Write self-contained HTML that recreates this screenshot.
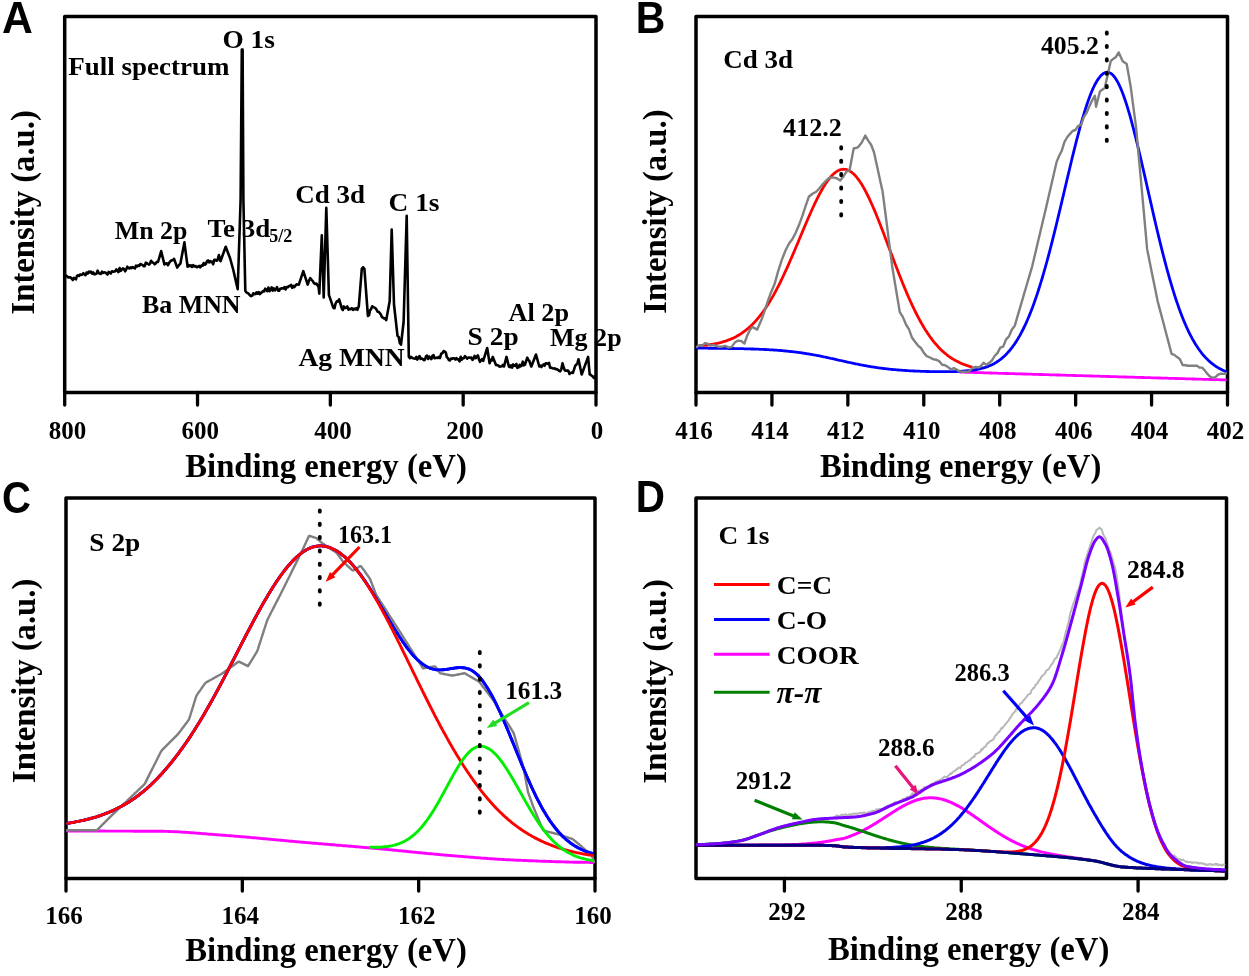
<!DOCTYPE html>
<html><head><meta charset="utf-8"><style>html,body{margin:0;padding:0;background:#fff;width:1249px;height:976px;overflow:hidden}svg{display:block;will-change:transform}</style></head>
<body><svg width="1249" height="976" viewBox="0 0 1249 976"><rect x="64.7" y="16.6" width="531.3" height="375.9" fill="none" stroke="#000" stroke-width="3.5" stroke-linejoin="round"/>
<line x1="64.7" y1="392.5" x2="64.7" y2="405.1" stroke="#000" stroke-width="3.3" stroke-linecap="round" />
<line x1="197.52499999999998" y1="392.5" x2="197.52499999999998" y2="405.1" stroke="#000" stroke-width="3.3" stroke-linecap="round" />
<line x1="330.34999999999997" y1="392.5" x2="330.34999999999997" y2="405.1" stroke="#000" stroke-width="3.3" stroke-linecap="round" />
<line x1="463.17499999999995" y1="392.5" x2="463.17499999999995" y2="405.1" stroke="#000" stroke-width="3.3" stroke-linecap="round" />
<line x1="596.0" y1="392.5" x2="596.0" y2="405.1" stroke="#000" stroke-width="3.3" stroke-linecap="round" />
<path d="M66.0 275.6 L67.1 276.3 L68.3 277.5 L69.4 277.4 L70.5 277.4 L71.7 278.7 L72.8 280.0 L73.8 277.9 L74.9 278.5 L75.9 279.4 L76.9 276.2 L77.9 275.3 L79.0 275.9 L80.0 274.5 L81.1 274.9 L82.2 274.6 L83.3 273.2 L84.4 274.3 L85.5 275.2 L86.6 272.5 L87.7 273.6 L88.8 271.7 L89.9 272.4 L91.0 271.7 L92.1 273.7 L93.2 272.4 L94.3 274.3 L95.4 274.1 L96.5 273.6 L97.6 270.6 L98.7 273.1 L99.8 273.7 L100.9 273.9 L102.0 271.7 L103.1 273.0 L104.2 272.3 L105.3 272.5 L106.4 273.5 L107.5 274.6 L108.6 271.9 L109.7 272.6 L110.8 273.5 L111.9 271.3 L113.0 271.6 L114.1 271.6 L115.2 271.3 L116.3 269.3 L117.4 270.7 L118.5 272.1 L119.6 268.0 L120.7 270.9 L121.8 269.6 L122.9 268.4 L124.0 268.9 L125.1 271.3 L126.2 269.4 L127.3 266.7 L128.4 268.1 L129.5 268.5 L130.5 267.3 L131.6 268.2 L132.7 267.0 L133.8 267.8 L134.9 268.5 L136.0 265.6 L137.1 266.5 L138.2 265.4 L139.3 265.9 L140.4 264.0 L141.5 264.6 L142.5 264.9 L143.6 266.1 L144.7 266.2 L145.8 262.7 L146.9 263.2 L148.0 264.0 L149.0 264.6 L150.0 263.6 L151.1 260.8 L152.3 262.5 L153.4 262.8 L154.6 264.3 L155.7 263.4 L156.9 261.8 L158.0 262.0 L161.2 251.2 L164.4 264.4 L165.6 263.5 L166.8 263.3 L168.0 265.2 L169.2 262.8 L170.4 261.2 L171.6 260.4 L172.8 260.3 L174.0 258.8 L177.2 267.6 L178.3 266.1 L179.3 264.7 L180.4 263.6 L184.4 242.4 L187.6 266.8 L188.7 265.0 L189.8 266.1 L191.0 265.3 L192.1 267.0 L193.2 265.2 L194.4 266.4 L195.6 266.0 L196.8 267.3 L198.0 266.8 L199.1 265.9 L200.3 267.3 L201.4 265.5 L202.6 265.8 L203.7 263.0 L204.9 264.7 L206.0 263.8 L207.0 261.2 L208.0 260.4 L209.1 262.3 L210.1 261.1 L211.1 262.1 L212.1 261.5 L213.2 264.2 L214.3 259.9 L215.3 259.9 L216.4 260.7 L217.5 260.2 L218.9 255.0 L220.5 261.2 L225.7 246.8 L230.0 258.0 L233.3 270.0 L237.7 289.2 L240.6 200.0 L241.8 49.5 L242.6 49.5 L243.4 200.0 L245.3 290.8 L246.5 292.6 L247.7 292.9 L248.9 294.1 L250.1 295.5 L251.2 296.1 L252.3 295.6 L253.3 293.3 L254.4 294.2 L255.5 294.0 L256.6 292.3 L257.7 293.7 L258.7 292.0 L259.8 294.1 L260.9 292.8 L262.0 292.3 L263.0 291.1 L264.1 291.4 L265.2 288.7 L266.3 289.5 L267.4 291.2 L268.4 287.6 L269.5 291.2 L270.6 289.8 L271.7 287.4 L272.7 290.6 L273.8 288.4 L274.9 290.4 L275.9 289.4 L277.0 287.2 L278.1 290.7 L279.1 290.8 L280.2 288.7 L281.3 288.4 L282.3 288.4 L283.4 288.5 L284.5 287.0 L285.6 289.4 L286.7 287.0 L287.8 287.3 L288.9 286.1 L290.0 286.0 L291.1 284.9 L292.2 287.9 L293.3 285.8 L294.4 287.0 L295.5 285.5 L296.6 284.3 L297.7 284.5 L298.8 284.6 L303.3 271.2 L307.7 284.6 L309.0 280.7 L310.3 278.2 L311.6 279.9 L312.8 281.1 L314.1 283.3 L315.2 283.9 L316.4 283.5 L317.5 285.2 L318.6 287.2 L319.3 293.6 L321.8 235.3 L323.7 297.4 L326.3 207.8 L328.9 294.9 L333.3 307.7 L334.5 308.2 L335.6 303.5 L336.8 301.3 L337.9 301.5 L339.1 299.4 L341.7 308.0 L342.8 310.0 L343.9 306.4 L345.1 308.1 L346.2 307.7 L347.3 306.4 L348.4 309.7 L349.5 308.9 L350.7 309.1 L351.8 308.2 L352.9 309.9 L354.0 308.7 L355.2 309.4 L356.3 308.2 L357.4 309.8 L358.8 306.3 L361.8 268.8 L363.1 267.2 L364.4 268.8 L367.9 315.9 L369.0 315.2 L370.0 310.4 L371.1 309.1 L372.2 306.3 L373.3 307.1 L374.4 307.5 L375.5 308.3 L376.6 309.8 L377.7 311.8 L378.7 311.7 L379.8 313.1 L380.9 314.5 L381.9 317.1 L383.0 317.6 L384.1 318.4 L385.1 318.3 L386.2 320.2 L389.7 301.0 L391.7 229.6 L394.0 304.5 L397.5 335.9 L398.7 337.0 L399.8 342.9 L401.0 344.6 L403.6 322.0 L406.7 215.7 L408.8 356.8 L409.9 358.2 L410.9 356.8 L412.0 357.8 L413.1 358.2 L414.1 358.4 L415.2 358.6 L416.3 356.9 L417.3 359.6 L418.4 357.7 L419.5 356.1 L420.6 358.9 L421.6 358.4 L422.7 358.9 L423.8 360.2 L424.9 359.7 L426.0 356.3 L427.0 355.6 L428.1 358.9 L429.2 356.5 L430.3 357.8 L431.4 359.0 L432.4 355.8 L433.5 355.2 L434.6 358.3 L435.7 358.0 L436.8 357.6 L437.8 358.0 L438.9 356.9 L440.0 358.0 L441.2 353.7 L442.5 353.1 L443.7 351.0 L444.7 351.6 L445.8 352.5 L446.8 357.1 L447.9 358.2 L448.9 360.1 L450.0 360.5 L451.0 358.5 L452.1 358.8 L453.2 358.3 L454.3 358.3 L455.3 359.5 L456.4 358.1 L457.5 359.5 L458.6 359.3 L459.6 361.4 L460.7 356.8 L461.8 359.6 L462.9 358.2 L463.9 358.2 L465.0 356.2 L466.1 357.3 L467.2 358.7 L468.2 357.5 L469.3 357.5 L470.4 357.9 L471.4 357.6 L472.5 359.8 L473.6 358.5 L474.6 355.9 L475.7 358.2 L476.8 356.8 L477.9 355.4 L478.9 359.2 L480.0 361.8 L481.1 360.4 L482.1 359.1 L483.2 360.9 L487.2 348.0 L489.6 363.3 L490.7 359.9 L491.7 360.5 L492.8 356.9 L493.9 359.8 L494.9 362.3 L496.0 364.9 L497.1 365.1 L498.3 365.4 L499.4 366.6 L500.6 366.5 L501.7 366.3 L502.9 364.9 L504.0 366.5 L506.5 356.9 L508.9 366.5 L510.0 367.1 L511.0 365.4 L512.1 367.6 L513.2 364.4 L514.2 365.8 L515.3 365.9 L516.4 364.0 L517.4 367.9 L518.5 367.4 L519.6 364.8 L520.6 366.3 L521.7 365.7 L522.8 361.7 L523.8 365.3 L524.9 364.9 L526.1 361.2 L527.3 357.7 L528.3 360.0 L529.3 360.7 L530.3 363.9 L531.3 366.5 L536.0 354.5 L539.3 366.5 L540.4 365.7 L541.4 367.0 L542.5 365.3 L543.6 364.4 L544.6 365.8 L545.7 363.3 L546.8 363.2 L547.9 364.0 L549.0 362.8 L550.1 367.8 L551.2 367.6 L552.3 368.2 L553.5 368.5 L554.6 368.4 L555.7 369.1 L556.8 369.1 L557.9 369.8 L559.0 370.8 L560.1 371.3 L561.3 369.3 L562.5 363.3 L563.7 367.6 L564.9 370.5 L566.0 370.8 L567.2 370.4 L568.3 370.7 L569.5 374.0 L570.6 372.9 L571.8 372.6 L572.9 372.9 L574.0 369.7 L575.1 366.0 L576.3 364.7 L577.4 363.2 L578.5 359.3 L581.7 374.5 L588.1 356.9 L589.7 374.5 L590.8 374.8 L591.8 375.8 L592.9 376.6 L593.9 377.8 L595.0 376.4 L596.0 379.3" fill="none" stroke="#000" stroke-width="2.6" stroke-linejoin="round" stroke-linecap="round" stroke-linejoin="miter" stroke-miterlimit="3"/>
<rect x="696" y="16.6" width="531.5" height="375.9" fill="none" stroke="#000" stroke-width="3.5" stroke-linejoin="round"/>
<line x1="696.0" y1="392.5" x2="696.0" y2="405.1" stroke="#000" stroke-width="3.3" stroke-linecap="round" />
<line x1="771.9285714285714" y1="392.5" x2="771.9285714285714" y2="405.1" stroke="#000" stroke-width="3.3" stroke-linecap="round" />
<line x1="847.8571428571429" y1="392.5" x2="847.8571428571429" y2="405.1" stroke="#000" stroke-width="3.3" stroke-linecap="round" />
<line x1="923.7857142857142" y1="392.5" x2="923.7857142857142" y2="405.1" stroke="#000" stroke-width="3.3" stroke-linecap="round" />
<line x1="999.7142857142858" y1="392.5" x2="999.7142857142858" y2="405.1" stroke="#000" stroke-width="3.3" stroke-linecap="round" />
<line x1="1075.642857142857" y1="392.5" x2="1075.642857142857" y2="405.1" stroke="#000" stroke-width="3.3" stroke-linecap="round" />
<line x1="1151.5714285714284" y1="392.5" x2="1151.5714285714284" y2="405.1" stroke="#000" stroke-width="3.3" stroke-linecap="round" />
<line x1="1227.5" y1="392.5" x2="1227.5" y2="405.1" stroke="#000" stroke-width="3.3" stroke-linecap="round" />
<path d="M960.5 372.2 L961.5 372.2 L962.5 372.2 L963.5 372.2 L964.5 372.2 L965.5 372.3 L966.5 372.3 L967.5 372.3 L968.5 372.3 L969.5 372.3 L970.5 372.4 L971.5 372.4 L972.5 372.4 L973.5 372.4 L974.5 372.5 L975.5 372.5 L976.5 372.5 L977.5 372.6 L978.5 372.6 L979.5 372.6 L980.5 372.7 L981.5 372.7 L982.5 372.7 L983.5 372.8 L984.5 372.8 L985.5 372.8 L986.5 372.9 L987.5 372.9 L988.5 372.9 L989.5 373.0 L990.5 373.0 L991.5 373.0 L992.5 373.1 L993.5 373.1 L994.5 373.1 L995.5 373.2 L996.5 373.2 L997.5 373.2 L998.5 373.3 L999.5 373.3 L1000.5 373.3 L1001.5 373.3 L1002.5 373.4 L1003.5 373.4 L1004.5 373.4 L1005.5 373.5 L1006.5 373.5 L1007.5 373.5 L1008.5 373.5 L1009.5 373.6 L1010.5 373.6 L1011.5 373.6 L1012.5 373.7 L1013.5 373.7 L1014.5 373.7 L1015.5 373.8 L1016.5 373.8 L1017.5 373.8 L1018.5 373.8 L1019.5 373.9 L1020.5 373.9 L1021.5 373.9 L1022.5 374.0 L1023.5 374.0 L1024.5 374.0 L1025.5 374.0 L1026.5 374.1 L1027.5 374.1 L1028.5 374.1 L1029.5 374.2 L1030.5 374.2 L1031.5 374.2 L1032.5 374.3 L1033.5 374.3 L1034.5 374.3 L1035.5 374.3 L1036.5 374.4 L1037.5 374.4 L1038.5 374.4 L1039.5 374.5 L1040.5 374.5 L1041.5 374.5 L1042.5 374.5 L1043.5 374.6 L1044.5 374.6 L1045.5 374.6 L1046.5 374.7 L1047.5 374.7 L1048.5 374.7 L1049.5 374.8 L1050.5 374.8 L1051.5 374.8 L1052.5 374.8 L1053.5 374.9 L1054.5 374.9 L1055.5 374.9 L1056.5 375.0 L1057.5 375.0 L1058.5 375.0 L1059.5 375.0 L1060.5 375.1 L1061.5 375.1 L1062.5 375.1 L1063.5 375.2 L1064.5 375.2 L1065.5 375.2 L1066.5 375.3 L1067.5 375.3 L1068.5 375.3 L1069.5 375.3 L1070.5 375.4 L1071.5 375.4 L1072.5 375.4 L1073.5 375.5 L1074.5 375.5 L1075.5 375.5 L1076.5 375.6 L1077.5 375.6 L1078.5 375.6 L1079.5 375.6 L1080.5 375.7 L1081.5 375.7 L1082.5 375.7 L1083.5 375.8 L1084.5 375.8 L1085.5 375.8 L1086.5 375.8 L1087.5 375.9 L1088.5 375.9 L1089.5 375.9 L1090.5 376.0 L1091.5 376.0 L1092.5 376.0 L1093.5 376.1 L1094.5 376.1 L1095.5 376.1 L1096.5 376.1 L1097.5 376.2 L1098.5 376.2 L1099.5 376.2 L1100.5 376.3 L1101.5 376.3 L1102.5 376.3 L1103.5 376.3 L1104.5 376.4 L1105.5 376.4 L1106.5 376.4 L1107.5 376.5 L1108.5 376.5 L1109.5 376.5 L1110.5 376.6 L1111.5 376.6 L1112.5 376.6 L1113.5 376.6 L1114.5 376.7 L1115.5 376.7 L1116.5 376.7 L1117.5 376.8 L1118.5 376.8 L1119.5 376.8 L1120.5 376.8 L1121.5 376.9 L1122.5 376.9 L1123.5 376.9 L1124.5 377.0 L1125.5 377.0 L1126.5 377.0 L1127.5 377.1 L1128.5 377.1 L1129.5 377.1 L1130.5 377.1 L1131.5 377.2 L1132.5 377.2 L1133.5 377.2 L1134.5 377.3 L1135.5 377.3 L1136.5 377.3 L1137.5 377.3 L1138.5 377.4 L1139.5 377.4 L1140.5 377.4 L1141.5 377.5 L1142.5 377.5 L1143.5 377.5 L1144.5 377.6 L1145.5 377.6 L1146.5 377.6 L1147.5 377.6 L1148.5 377.7 L1149.5 377.7 L1150.5 377.7 L1151.5 377.8 L1152.5 377.8 L1153.5 377.8 L1154.5 377.8 L1155.5 377.9 L1156.5 377.9 L1157.5 377.9 L1158.5 378.0 L1159.5 378.0 L1160.5 378.0 L1161.5 378.1 L1162.5 378.1 L1163.5 378.1 L1164.5 378.1 L1165.5 378.2 L1166.5 378.2 L1167.5 378.2 L1168.5 378.3 L1169.5 378.3 L1170.5 378.3 L1171.5 378.3 L1172.5 378.4 L1173.5 378.4 L1174.5 378.4 L1175.5 378.5 L1176.5 378.5 L1177.5 378.5 L1178.5 378.6 L1179.5 378.6 L1180.5 378.6 L1181.5 378.6 L1182.5 378.7 L1183.5 378.7 L1184.5 378.7 L1185.5 378.8 L1186.5 378.8 L1187.5 378.8 L1188.5 378.9 L1189.5 378.9 L1190.5 378.9 L1191.5 378.9 L1192.5 379.0 L1193.5 379.0 L1194.5 379.0 L1195.5 379.1 L1196.5 379.1 L1197.5 379.1 L1198.5 379.1 L1199.5 379.2 L1200.5 379.2 L1201.5 379.2 L1202.5 379.3 L1203.5 379.3 L1204.5 379.3 L1205.5 379.4 L1206.5 379.4 L1207.5 379.4 L1208.5 379.4 L1209.5 379.5 L1210.5 379.5 L1211.5 379.5 L1212.5 379.6 L1213.5 379.6 L1214.5 379.6 L1215.5 379.6 L1216.5 379.7 L1217.5 379.7 L1218.5 379.7 L1219.5 379.8 L1220.5 379.8 L1221.5 379.8 L1222.5 379.9 L1223.5 379.9 L1224.5 379.9 L1225.5 379.9" fill="none" stroke="#ff00ff" stroke-width="2.8" stroke-linejoin="round" stroke-linecap="round" />
<path d="M697.5 348.2 L698.5 348.2 L699.5 348.2 L700.5 348.2 L701.5 348.2 L702.5 348.2 L703.5 348.2 L704.5 348.2 L705.5 348.2 L706.5 348.2 L707.5 348.2 L708.5 348.3 L709.5 348.3 L710.5 348.3 L711.5 348.3 L712.5 348.3 L713.5 348.3 L714.5 348.3 L715.5 348.3 L716.5 348.3 L717.5 348.3 L718.5 348.3 L719.5 348.3 L720.5 348.4 L721.5 348.4 L722.5 348.4 L723.5 348.4 L724.5 348.4 L725.5 348.4 L726.5 348.4 L727.5 348.4 L728.5 348.5 L729.5 348.5 L730.5 348.5 L731.5 348.5 L732.5 348.5 L733.5 348.5 L734.5 348.6 L735.5 348.6 L736.5 348.6 L737.5 348.6 L738.5 348.6 L739.5 348.7 L740.5 348.7 L741.5 348.7 L742.5 348.7 L743.5 348.7 L744.5 348.8 L745.5 348.8 L746.5 348.8 L747.5 348.8 L748.5 348.9 L749.5 348.9 L750.5 348.9 L751.5 349.0 L752.5 349.0 L753.5 349.0 L754.5 349.1 L755.5 349.1 L756.5 349.1 L757.5 349.2 L758.5 349.2 L759.5 349.3 L760.5 349.3 L761.5 349.3 L762.5 349.4 L763.5 349.4 L764.5 349.5 L765.5 349.5 L766.5 349.6 L767.5 349.6 L768.5 349.7 L769.5 349.8 L770.5 349.8 L771.5 349.9 L772.5 349.9 L773.5 350.0 L774.5 350.1 L775.5 350.1 L776.5 350.2 L777.5 350.3 L778.5 350.4 L779.5 350.4 L780.5 350.5 L781.5 350.6 L782.5 350.7 L783.5 350.8 L784.5 350.9 L785.5 351.0 L786.5 351.1 L787.5 351.2 L788.5 351.3 L789.5 351.4 L790.5 351.5 L791.5 351.6 L792.5 351.7 L793.5 351.8 L794.5 351.9 L795.5 352.1 L796.5 352.2 L797.5 352.3 L798.5 352.4 L799.5 352.6 L800.5 352.7 L801.5 352.9 L802.5 353.0 L803.5 353.1 L804.5 353.3 L805.5 353.5 L806.5 353.6 L807.5 353.8 L808.5 353.9 L809.5 354.1 L810.5 354.3 L811.5 354.4 L812.5 354.6 L813.5 354.8 L814.5 355.0 L815.5 355.2 L816.5 355.4 L817.5 355.6 L818.5 355.7 L819.5 355.9 L820.5 356.1 L821.5 356.3 L822.5 356.5 L823.5 356.8 L824.5 357.0 L825.5 357.2 L826.5 357.4 L827.5 357.6 L828.5 357.8 L829.5 358.0 L830.5 358.3 L831.5 358.5 L832.5 358.7 L833.5 358.9 L834.5 359.1 L835.5 359.4 L836.5 359.6 L837.5 359.8 L838.5 360.1 L839.5 360.3 L840.5 360.5 L841.5 360.7 L842.5 361.0 L843.5 361.2 L844.5 361.4 L845.5 361.6 L846.5 361.9 L847.5 362.1 L848.5 362.3 L849.5 362.5 L850.5 362.7 L851.5 363.0 L852.5 363.2 L853.5 363.4 L854.5 363.6 L855.5 363.8 L856.5 364.0 L857.5 364.2 L858.5 364.4 L859.5 364.6 L860.5 364.8 L861.5 365.0 L862.5 365.2 L863.5 365.4 L864.5 365.6 L865.5 365.7 L866.5 365.9 L867.5 366.1 L868.5 366.3 L869.5 366.4 L870.5 366.6 L871.5 366.8 L872.5 366.9 L873.5 367.1 L874.5 367.2 L875.5 367.4 L876.5 367.5 L877.5 367.7 L878.5 367.8 L879.5 368.0 L880.5 368.1 L881.5 368.2 L882.5 368.4 L883.5 368.5 L884.5 368.6 L885.5 368.7 L886.5 368.8 L887.5 368.9 L888.5 369.1 L889.5 369.2 L890.5 369.3 L891.5 369.4 L892.5 369.5 L893.5 369.6 L894.5 369.7 L895.5 369.7 L896.5 369.8 L897.5 369.9 L898.5 370.0 L899.5 370.1 L900.5 370.2 L901.5 370.2 L902.5 370.3 L903.5 370.4 L904.5 370.4 L905.5 370.5 L906.5 370.6 L907.5 370.6 L908.5 370.7 L909.5 370.8 L910.5 370.8 L911.5 370.9 L912.5 370.9 L913.5 371.0 L914.5 371.0 L915.5 371.1 L916.5 371.1 L917.5 371.2 L918.5 371.2 L919.5 371.2 L920.5 371.3 L921.5 371.3 L922.5 371.3 L923.5 371.4 L924.5 371.4 L925.5 371.4 L926.5 371.5 L927.5 371.5 L928.5 371.5 L929.5 371.6 L930.5 371.6 L931.5 371.6 L932.5 371.6 L933.5 371.6 L934.5 371.7 L935.5 371.7 L936.5 371.7 L937.5 371.7 L938.5 371.7 L939.5 371.7 L940.5 371.7 L941.5 371.7 L942.5 371.7 L943.5 371.7 L944.5 371.7 L945.5 371.7 L946.5 371.7 L947.5 371.7 L948.5 371.7 L949.5 371.7 L950.5 371.7 L951.5 371.6 L952.5 371.6 L953.5 371.6 L954.5 371.6 L955.5 371.5 L956.5 371.5 L957.5 371.4 L958.5 371.4 L959.5 371.3 L960.5 371.3 L961.5 371.2 L962.5 371.1 L963.5 371.1 L964.5 371.0 L965.5 370.9 L966.5 370.8 L967.5 370.7 L968.5 370.6 L969.5 370.5 L970.5 370.4 L971.5 370.3 L972.5 370.2 L973.5 370.0 L974.5 369.9 L975.5 369.7 L976.5 369.5 L977.5 369.4 L978.5 369.2 L979.5 368.9 L980.5 368.7 L981.5 368.5 L982.5 368.2 L983.5 367.9 L984.5 367.6 L985.5 367.3 L986.5 367.0 L987.5 366.6 L988.5 366.2 L989.5 365.8 L990.5 365.4 L991.5 364.9 L992.5 364.4 L993.5 363.9 L994.5 363.4 L995.5 362.8 L996.5 362.2 L997.5 361.5 L998.5 360.8 L999.5 360.1 L1000.5 359.4 L1001.5 358.6 L1002.5 357.7 L1003.5 356.9 L1004.5 356.0 L1005.5 355.0 L1006.5 354.0 L1007.5 352.9 L1008.5 351.8 L1009.5 350.7 L1010.5 349.5 L1011.5 348.2 L1012.5 346.9 L1013.5 345.5 L1014.5 344.1 L1015.5 342.6 L1016.5 341.1 L1017.5 339.5 L1018.5 337.8 L1019.5 336.1 L1020.5 334.3 L1021.5 332.4 L1022.5 330.5 L1023.5 328.5 L1024.5 326.4 L1025.5 324.3 L1026.5 322.1 L1027.5 319.8 L1028.5 317.5 L1029.5 315.1 L1030.5 312.6 L1031.5 310.0 L1032.5 307.4 L1033.5 304.7 L1034.5 301.9 L1035.5 299.0 L1036.5 296.1 L1037.5 293.1 L1038.5 290.0 L1039.5 286.9 L1040.5 283.7 L1041.5 280.4 L1042.5 277.0 L1043.5 273.6 L1044.5 270.1 L1045.5 266.6 L1046.5 263.0 L1047.5 259.3 L1048.5 255.6 L1049.5 251.8 L1050.5 248.0 L1051.5 244.1 L1052.5 240.1 L1053.5 236.2 L1054.5 232.1 L1055.5 228.1 L1056.5 224.0 L1057.5 219.8 L1058.5 215.7 L1059.5 211.5 L1060.5 207.3 L1061.5 203.1 L1062.5 198.8 L1063.5 194.6 L1064.5 190.3 L1065.5 186.1 L1066.5 181.8 L1067.5 177.6 L1068.5 173.4 L1069.5 169.2 L1070.5 165.0 L1071.5 160.8 L1072.5 156.7 L1073.5 152.7 L1074.5 148.6 L1075.5 144.7 L1076.5 140.7 L1077.5 136.9 L1078.5 133.1 L1079.5 129.4 L1080.5 125.7 L1081.5 122.2 L1082.5 118.7 L1083.5 115.3 L1084.5 112.0 L1085.5 108.8 L1086.5 105.7 L1087.5 102.8 L1088.5 99.9 L1089.5 97.2 L1090.5 94.6 L1091.5 92.1 L1092.5 89.7 L1093.5 87.5 L1094.5 85.4 L1095.5 83.5 L1096.5 81.7 L1097.5 80.1 L1098.5 78.6 L1099.5 77.3 L1100.5 76.1 L1101.5 75.1 L1102.5 74.2 L1103.5 73.5 L1104.5 72.9 L1105.5 72.6 L1106.5 72.4 L1107.5 72.3 L1108.5 72.4 L1109.5 72.7 L1110.5 73.2 L1111.5 73.9 L1112.5 74.8 L1113.5 75.8 L1114.5 77.0 L1115.5 78.4 L1116.5 80.0 L1117.5 81.7 L1118.5 83.6 L1119.5 85.7 L1120.5 87.9 L1121.5 90.3 L1122.5 92.8 L1123.5 95.5 L1124.5 98.3 L1125.5 101.2 L1126.5 104.3 L1127.5 107.5 L1128.5 110.8 L1129.5 114.2 L1130.5 117.7 L1131.5 121.4 L1132.5 125.1 L1133.5 128.9 L1134.5 132.8 L1135.5 136.8 L1136.5 140.8 L1137.5 144.9 L1138.5 149.1 L1139.5 153.3 L1140.5 157.6 L1141.5 161.9 L1142.5 166.2 L1143.5 170.6 L1144.5 174.9 L1145.5 179.4 L1146.5 183.8 L1147.5 188.2 L1148.5 192.6 L1149.5 197.0 L1150.5 201.4 L1151.5 205.8 L1152.5 210.2 L1153.5 214.6 L1154.5 218.9 L1155.5 223.2 L1156.5 227.5 L1157.5 231.7 L1158.5 235.9 L1159.5 240.0 L1160.5 244.1 L1161.5 248.1 L1162.5 252.1 L1163.5 256.0 L1164.5 259.9 L1165.5 263.7 L1166.5 267.5 L1167.5 271.1 L1168.5 274.7 L1169.5 278.3 L1170.5 281.7 L1171.5 285.1 L1172.5 288.4 L1173.5 291.7 L1174.5 294.9 L1175.5 298.0 L1176.5 301.0 L1177.5 303.9 L1178.5 306.8 L1179.5 309.6 L1180.5 312.3 L1181.5 314.9 L1182.5 317.5 L1183.5 320.0 L1184.5 322.4 L1185.5 324.7 L1186.5 327.0 L1187.5 329.2 L1188.5 331.3 L1189.5 333.3 L1190.5 335.3 L1191.5 337.2 L1192.5 339.1 L1193.5 340.8 L1194.5 342.5 L1195.5 344.2 L1196.5 345.8 L1197.5 347.3 L1198.5 348.8 L1199.5 350.2 L1200.5 351.5 L1201.5 352.8 L1202.5 354.1 L1203.5 355.3 L1204.5 356.4 L1205.5 357.5 L1206.5 358.5 L1207.5 359.5 L1208.5 360.5 L1209.5 361.4 L1210.5 362.3 L1211.5 363.1 L1212.5 363.9 L1213.5 364.7 L1214.5 365.4 L1215.5 366.1 L1216.5 366.7 L1217.5 367.4 L1218.5 368.0 L1219.5 368.5 L1220.5 369.1 L1221.5 369.6 L1222.5 370.1 L1223.5 370.5 L1224.5 371.0 L1225.5 371.4" fill="none" stroke="#0000ff" stroke-width="2.8" stroke-linejoin="round" stroke-linecap="round" />
<path d="M700.5 345.7 L701.5 345.6 L702.5 345.5 L703.5 345.4 L704.5 345.3 L705.5 345.2 L706.5 345.1 L707.5 345.0 L708.5 344.8 L709.5 344.7 L710.5 344.6 L711.5 344.4 L712.5 344.2 L713.5 344.1 L714.5 343.9 L715.5 343.7 L716.5 343.5 L717.5 343.3 L718.5 343.0 L719.5 342.8 L720.5 342.5 L721.5 342.3 L722.5 342.0 L723.5 341.7 L724.5 341.4 L725.5 341.1 L726.5 340.7 L727.5 340.4 L728.5 340.0 L729.5 339.6 L730.5 339.2 L731.5 338.8 L732.5 338.4 L733.5 337.9 L734.5 337.4 L735.5 336.9 L736.5 336.4 L737.5 335.8 L738.5 335.2 L739.5 334.6 L740.5 334.0 L741.5 333.4 L742.5 332.7 L743.5 332.0 L744.5 331.2 L745.5 330.5 L746.5 329.7 L747.5 328.8 L748.5 328.0 L749.5 327.1 L750.5 326.2 L751.5 325.2 L752.5 324.3 L753.5 323.2 L754.5 322.2 L755.5 321.1 L756.5 320.0 L757.5 318.8 L758.5 317.6 L759.5 316.4 L760.5 315.1 L761.5 313.8 L762.5 312.5 L763.5 311.1 L764.5 309.7 L765.5 308.2 L766.5 306.7 L767.5 305.2 L768.5 303.6 L769.5 302.0 L770.5 300.3 L771.5 298.6 L772.5 296.9 L773.5 295.2 L774.5 293.3 L775.5 291.5 L776.5 289.6 L777.5 287.7 L778.5 285.8 L779.5 283.8 L780.5 281.8 L781.5 279.7 L782.5 277.7 L783.5 275.5 L784.5 273.4 L785.5 271.2 L786.5 269.0 L787.5 266.8 L788.5 264.6 L789.5 262.3 L790.5 260.0 L791.5 257.7 L792.5 255.4 L793.5 253.1 L794.5 250.7 L795.5 248.3 L796.5 246.0 L797.5 243.6 L798.5 241.2 L799.5 238.8 L800.5 236.4 L801.5 234.0 L802.5 231.6 L803.5 229.3 L804.5 226.9 L805.5 224.5 L806.5 222.2 L807.5 219.8 L808.5 217.5 L809.5 215.2 L810.5 213.0 L811.5 210.7 L812.5 208.5 L813.5 206.4 L814.5 204.2 L815.5 202.1 L816.5 200.1 L817.5 198.0 L818.5 196.1 L819.5 194.2 L820.5 192.3 L821.5 190.5 L822.5 188.7 L823.5 187.0 L824.5 185.4 L825.5 183.8 L826.5 182.4 L827.5 180.9 L828.5 179.6 L829.5 178.3 L830.5 177.1 L831.5 176.0 L832.5 174.9 L833.5 174.0 L834.5 173.1 L835.5 172.3 L836.5 171.6 L837.5 171.0 L838.5 170.5 L839.5 170.0 L840.5 169.7 L841.5 169.5 L842.5 169.3 L843.5 169.2 L844.5 169.3 L845.5 169.4 L846.5 169.6 L847.5 169.9 L848.5 170.4 L849.5 170.9 L850.5 171.5 L851.5 172.2 L852.5 173.0 L853.5 173.9 L854.5 174.8 L855.5 175.9 L856.5 177.0 L857.5 178.3 L858.5 179.6 L859.5 181.0 L860.5 182.5 L861.5 184.1 L862.5 185.7 L863.5 187.4 L864.5 189.2 L865.5 191.1 L866.5 193.0 L867.5 195.0 L868.5 197.0 L869.5 199.1 L870.5 201.3 L871.5 203.5 L872.5 205.8 L873.5 208.1 L874.5 210.4 L875.5 212.8 L876.5 215.3 L877.5 217.7 L878.5 220.2 L879.5 222.8 L880.5 225.3 L881.5 227.9 L882.5 230.5 L883.5 233.1 L884.5 235.7 L885.5 238.4 L886.5 241.0 L887.5 243.7 L888.5 246.4 L889.5 249.0 L890.5 251.7 L891.5 254.3 L892.5 257.0 L893.5 259.6 L894.5 262.3 L895.5 264.9 L896.5 267.5 L897.5 270.1 L898.5 272.7 L899.5 275.2 L900.5 277.8 L901.5 280.3 L902.5 282.8 L903.5 285.2 L904.5 287.6 L905.5 290.0 L906.5 292.4 L907.5 294.7 L908.5 297.0 L909.5 299.3 L910.5 301.5 L911.5 303.7 L912.5 305.8 L913.5 307.9 L914.5 310.0 L915.5 312.0 L916.5 314.0 L917.5 315.9 L918.5 317.8 L919.5 319.7 L920.5 321.5 L921.5 323.3 L922.5 325.0 L923.5 326.7 L924.5 328.4 L925.5 330.0 L926.5 331.5 L927.5 333.1 L928.5 334.5 L929.5 336.0 L930.5 337.4 L931.5 338.7 L932.5 340.1 L933.5 341.3 L934.5 342.6 L935.5 343.8 L936.5 344.9 L937.5 346.0 L938.5 347.1 L939.5 348.2 L940.5 349.2 L941.5 350.2 L942.5 351.1 L943.5 352.0 L944.5 352.9 L945.5 353.7 L946.5 354.5 L947.5 355.3 L948.5 356.1 L949.5 356.8 L950.5 357.5 L951.5 358.2 L952.5 358.8 L953.5 359.4 L954.5 360.0 L955.5 360.6 L956.5 361.1 L957.5 361.6 L958.5 362.1 L959.5 362.6 L960.5 363.0 L961.5 363.5 L962.5 363.9 L963.5 364.3 L964.5 364.7 L965.5 365.0 L966.5 365.4 L967.5 365.7 L968.5 366.0 L969.5 366.4 L970.5 366.7 L971.5 366.9" fill="none" stroke="#ff0000" stroke-width="2.8" stroke-linejoin="round" stroke-linecap="round" />
<path d="M697.0 346.8 L699.6 345.1 L702.3 345.9 L705.0 343.2 L707.6 343.6 L710.4 345.7 L713.2 345.0 L716.0 345.9 L719.1 346.8 L722.2 346.7 L725.3 345.9 L728.4 347.5 L731.6 346.9 L734.8 342.6 L738.0 340.6 L741.2 341.0 L744.4 343.5 L747.0 336.1 L749.7 330.4 L752.3 326.9 L757.2 329.6 L760.9 321.1 L764.6 311.1 L767.9 300.9 L771.1 292.2 L774.4 284.6 L778.1 271.4 L781.8 259.9 L785.5 250.5 L789.2 243.2 L792.5 238.9 L795.7 232.7 L799.0 225.1 L802.3 216.2 L805.5 206.3 L808.8 196.8 L812.5 193.8 L816.2 191.8 L819.3 188.5 L822.4 184.6 L825.4 181.4 L828.5 178.3 L831.4 177.5 L834.3 177.6 L837.2 178.5 L840.2 180.6 L843.3 176.7 L846.4 171.6 L849.5 170.4 L853.7 148.5 L858.0 147.3 L861.6 142.7 L865.3 135.6 L868.2 140.6 L871.1 144.8 L874.0 152.3 L876.9 165.4 L879.7 178.5 L882.6 191.6 L885.9 217.0 L889.1 242.4 L892.4 267.8 L896.1 290.0 L899.8 312.1 L902.9 317.1 L906.0 324.5 L909.0 329.4 L912.1 337.8 L915.0 341.7 L918.0 345.6 L920.9 348.0 L923.9 352.9 L926.8 356.2 L929.9 357.5 L933.0 359.1 L936.0 359.7 L939.1 361.1 L942.1 364.8 L945.0 365.2 L948.0 367.1 L950.9 369.3 L953.9 368.1 L956.7 369.6 L959.5 371.1 L962.2 371.8 L965.0 371.6 L967.7 372.0 L970.3 370.1 L973.0 367.6 L975.6 366.8 L978.3 367.5 L980.9 366.1 L983.6 362.7 L986.2 364.9 L988.9 363.1 L991.7 360.8 L994.6 356.0 L997.4 353.1 L1000.3 347.6 L1003.2 346.6 L1006.1 339.3 L1009.0 336.4 L1011.9 329.5 L1014.8 325.7 L1017.7 315.6 L1020.6 305.8 L1023.5 295.9 L1026.4 286.0 L1029.3 276.2 L1032.2 266.3 L1035.0 254.5 L1037.8 242.6 L1040.6 230.8 L1043.4 218.9 L1046.2 207.1 L1048.8 195.8 L1051.4 184.5 L1054.0 173.2 L1056.6 161.9 L1059.2 155.8 L1061.8 150.6 L1064.4 142.1 L1067.0 137.5 L1069.8 134.1 L1072.6 131.0 L1075.4 130.0 L1078.2 125.9 L1081.0 125.1 L1083.8 117.2 L1086.6 112.8 L1089.3 106.6 L1092.1 100.5 L1094.9 95.7 L1096.0 106.7 L1100.0 91.3 L1104.7 88.0 L1107.7 74.7 L1110.7 61.2 L1113.4 58.7 L1116.0 56.9 L1118.7 52.4 L1122.7 61.3 L1126.7 64.0 L1130.7 86.7 L1133.3 106.7 L1136.0 126.7 L1140.2 172.3 L1143.7 210.6 L1147.1 248.9 L1149.7 261.9 L1152.3 275.0 L1155.0 288.1 L1157.6 301.1 L1160.4 311.6 L1163.2 322.0 L1165.9 332.5 L1168.7 342.9 L1171.5 353.8 L1174.3 354.9 L1177.1 357.1 L1179.8 358.9 L1182.6 365.0 L1185.4 365.3 L1188.2 365.8 L1191.0 365.6 L1193.8 365.8 L1196.6 365.6 L1199.4 367.5 L1202.0 367.6 L1204.6 370.1 L1207.2 373.7 L1209.8 376.4 L1212.6 377.8 L1215.4 377.2 L1218.1 374.7 L1220.9 373.6 L1223.7 373.9 L1226.0 373.4" fill="none" stroke="#808080" stroke-width="2.4" stroke-linejoin="round" stroke-linecap="round" />
<line x1="841.2" y1="147.2" x2="841.2" y2="220" stroke="#000" stroke-width="3.8" stroke-linecap="round" stroke-dasharray="1.3 12.1"/>
<line x1="1106.8" y1="32.4" x2="1106.8" y2="144" stroke="#000" stroke-width="3.8" stroke-linecap="round" stroke-dasharray="1.3 12.1"/>
<rect x="66" y="498" width="529" height="380.5" fill="none" stroke="#000" stroke-width="3.5" stroke-linejoin="round"/>
<line x1="66.0" y1="878.5" x2="66.0" y2="891.1" stroke="#000" stroke-width="3.3" stroke-linecap="round" />
<line x1="242.33333333333334" y1="878.5" x2="242.33333333333334" y2="891.1" stroke="#000" stroke-width="3.3" stroke-linecap="round" />
<line x1="418.6666666666667" y1="878.5" x2="418.6666666666667" y2="891.1" stroke="#000" stroke-width="3.3" stroke-linecap="round" />
<line x1="595.0" y1="878.5" x2="595.0" y2="891.1" stroke="#000" stroke-width="3.3" stroke-linecap="round" />
<path d="M67.5 831.0 L68.5 831.0 L69.5 831.0 L70.5 831.0 L71.5 831.0 L72.5 831.0 L73.5 831.0 L74.5 831.0 L75.5 831.0 L76.5 831.0 L77.5 831.0 L78.5 831.0 L79.5 831.0 L80.5 831.0 L81.5 831.0 L82.5 831.0 L83.5 831.0 L84.5 831.0 L85.5 831.0 L86.5 831.0 L87.5 831.0 L88.5 831.0 L89.5 831.0 L90.5 831.0 L91.5 831.0 L92.5 831.0 L93.5 831.0 L94.5 831.0 L95.5 831.0 L96.5 831.0 L97.5 831.0 L98.5 831.0 L99.5 831.0 L100.5 831.0 L101.5 831.0 L102.5 831.0 L103.5 831.0 L104.5 831.0 L105.5 831.1 L106.5 831.1 L107.5 831.1 L108.5 831.1 L109.5 831.1 L110.5 831.1 L111.5 831.1 L112.5 831.1 L113.5 831.1 L114.5 831.1 L115.5 831.1 L116.5 831.1 L117.5 831.1 L118.5 831.1 L119.5 831.1 L120.5 831.1 L121.5 831.1 L122.5 831.1 L123.5 831.1 L124.5 831.1 L125.5 831.1 L126.5 831.1 L127.5 831.1 L128.5 831.1 L129.5 831.1 L130.5 831.1 L131.5 831.1 L132.5 831.1 L133.5 831.2 L134.5 831.2 L135.5 831.2 L136.5 831.2 L137.5 831.2 L138.5 831.2 L139.5 831.2 L140.5 831.2 L141.5 831.2 L142.5 831.2 L143.5 831.2 L144.5 831.2 L145.5 831.2 L146.5 831.2 L147.5 831.2 L148.5 831.2 L149.5 831.2 L150.5 831.2 L151.5 831.2 L152.5 831.3 L153.5 831.3 L154.5 831.3 L155.5 831.3 L156.5 831.3 L157.5 831.3 L158.5 831.3 L159.5 831.3 L160.5 831.3 L161.5 831.3 L162.5 831.3 L163.5 831.3 L164.5 831.4 L165.5 831.4 L166.5 831.4 L167.5 831.4 L168.5 831.5 L169.5 831.5 L170.5 831.5 L171.5 831.6 L172.5 831.6 L173.5 831.6 L174.5 831.7 L175.5 831.7 L176.5 831.8 L177.5 831.8 L178.5 831.9 L179.5 831.9 L180.5 832.0 L181.5 832.1 L182.5 832.1 L183.5 832.2 L184.5 832.2 L185.5 832.3 L186.5 832.4 L187.5 832.4 L188.5 832.5 L189.5 832.6 L190.5 832.7 L191.5 832.7 L192.5 832.8 L193.5 832.9 L194.5 833.0 L195.5 833.0 L196.5 833.1 L197.5 833.2 L198.5 833.3 L199.5 833.3 L200.5 833.4 L201.5 833.5 L202.5 833.6 L203.5 833.7 L204.5 833.8 L205.5 833.8 L206.5 833.9 L207.5 834.0 L208.5 834.1 L209.5 834.2 L210.5 834.2 L211.5 834.3 L212.5 834.4 L213.5 834.5 L214.5 834.6 L215.5 834.6 L216.5 834.7 L217.5 834.8 L218.5 834.9 L219.5 835.0 L220.5 835.0 L221.5 835.1 L222.5 835.2 L223.5 835.3 L224.5 835.3 L225.5 835.4 L226.5 835.5 L227.5 835.6 L228.5 835.6 L229.5 835.7 L230.5 835.8 L231.5 835.9 L232.5 835.9 L233.5 836.0 L234.5 836.1 L235.5 836.2 L236.5 836.3 L237.5 836.4 L238.5 836.4 L239.5 836.5 L240.5 836.6 L241.5 836.7 L242.5 836.8 L243.5 836.9 L244.5 836.9 L245.5 837.0 L246.5 837.1 L247.5 837.2 L248.5 837.3 L249.5 837.4 L250.5 837.5 L251.5 837.6 L252.5 837.7 L253.5 837.7 L254.5 837.8 L255.5 837.9 L256.5 838.0 L257.5 838.1 L258.5 838.2 L259.5 838.3 L260.5 838.4 L261.5 838.5 L262.5 838.6 L263.5 838.7 L264.5 838.7 L265.5 838.8 L266.5 838.9 L267.5 839.0 L268.5 839.1 L269.5 839.2 L270.5 839.3 L271.5 839.4 L272.5 839.5 L273.5 839.6 L274.5 839.7 L275.5 839.8 L276.5 839.9 L277.5 840.0 L278.5 840.1 L279.5 840.1 L280.5 840.2 L281.5 840.3 L282.5 840.4 L283.5 840.5 L284.5 840.6 L285.5 840.7 L286.5 840.8 L287.5 840.9 L288.5 841.0 L289.5 841.1 L290.5 841.2 L291.5 841.2 L292.5 841.3 L293.5 841.4 L294.5 841.5 L295.5 841.6 L296.5 841.7 L297.5 841.8 L298.5 841.9 L299.5 842.0 L300.5 842.0 L301.5 842.1 L302.5 842.2 L303.5 842.3 L304.5 842.4 L305.5 842.5 L306.5 842.6 L307.5 842.6 L308.5 842.7 L309.5 842.8 L310.5 842.9 L311.5 843.0 L312.5 843.1 L313.5 843.2 L314.5 843.2 L315.5 843.3 L316.5 843.4 L317.5 843.5 L318.5 843.6 L319.5 843.7 L320.5 843.7 L321.5 843.8 L322.5 843.9 L323.5 844.0 L324.5 844.1 L325.5 844.2 L326.5 844.3 L327.5 844.3 L328.5 844.4 L329.5 844.5 L330.5 844.6 L331.5 844.7 L332.5 844.8 L333.5 844.8 L334.5 844.9 L335.5 845.0 L336.5 845.1 L337.5 845.2 L338.5 845.3 L339.5 845.3 L340.5 845.4 L341.5 845.5 L342.5 845.6 L343.5 845.7 L344.5 845.8 L345.5 845.8 L346.5 845.9 L347.5 846.0 L348.5 846.1 L349.5 846.2 L350.5 846.3 L351.5 846.3 L352.5 846.4 L353.5 846.5 L354.5 846.6 L355.5 846.7 L356.5 846.8 L357.5 846.9 L358.5 846.9 L359.5 847.0 L360.5 847.1 L361.5 847.2 L362.5 847.3 L363.5 847.4 L364.5 847.5 L365.5 847.5 L366.5 847.6 L367.5 847.7 L368.5 847.8 L369.5 847.9 L370.5 848.0 L371.5 848.1 L372.5 848.2 L373.5 848.2 L374.5 848.3 L375.5 848.4 L376.5 848.5 L377.5 848.6 L378.5 848.7 L379.5 848.8 L380.5 848.9 L381.5 849.0 L382.5 849.0 L383.5 849.1 L384.5 849.2 L385.5 849.3 L386.5 849.4 L387.5 849.5 L388.5 849.6 L389.5 849.7 L390.5 849.8 L391.5 849.9 L392.5 850.0 L393.5 850.1 L394.5 850.2 L395.5 850.3 L396.5 850.4 L397.5 850.5 L398.5 850.6 L399.5 850.7 L400.5 850.8 L401.5 850.9 L402.5 851.0 L403.5 851.1 L404.5 851.2 L405.5 851.3 L406.5 851.4 L407.5 851.5 L408.5 851.6 L409.5 851.7 L410.5 851.8 L411.5 851.9 L412.5 852.0 L413.5 852.1 L414.5 852.2 L415.5 852.3 L416.5 852.4 L417.5 852.5 L418.5 852.6 L419.5 852.7 L420.5 852.8 L421.5 852.9 L422.5 853.0 L423.5 853.1 L424.5 853.2 L425.5 853.3 L426.5 853.4 L427.5 853.5 L428.5 853.6 L429.5 853.7 L430.5 853.8 L431.5 853.8 L432.5 853.9 L433.5 854.0 L434.5 854.1 L435.5 854.2 L436.5 854.3 L437.5 854.4 L438.5 854.5 L439.5 854.6 L440.5 854.7 L441.5 854.8 L442.5 854.9 L443.5 855.0 L444.5 855.0 L445.5 855.1 L446.5 855.2 L447.5 855.3 L448.5 855.4 L449.5 855.5 L450.5 855.5 L451.5 855.6 L452.5 855.7 L453.5 855.8 L454.5 855.9 L455.5 856.0 L456.5 856.0 L457.5 856.1 L458.5 856.2 L459.5 856.3 L460.5 856.4 L461.5 856.4 L462.5 856.5 L463.5 856.6 L464.5 856.7 L465.5 856.8 L466.5 856.9 L467.5 856.9 L468.5 857.0 L469.5 857.1 L470.5 857.2 L471.5 857.3 L472.5 857.3 L473.5 857.4 L474.5 857.5 L475.5 857.6 L476.5 857.7 L477.5 857.7 L478.5 857.8 L479.5 857.9 L480.5 858.0 L481.5 858.1 L482.5 858.1 L483.5 858.2 L484.5 858.3 L485.5 858.3 L486.5 858.4 L487.5 858.5 L488.5 858.6 L489.5 858.6 L490.5 858.7 L491.5 858.8 L492.5 858.8 L493.5 858.9 L494.5 859.0 L495.5 859.0 L496.5 859.1 L497.5 859.2 L498.5 859.2 L499.5 859.3 L500.5 859.4 L501.5 859.4 L502.5 859.5 L503.5 859.5 L504.5 859.6 L505.5 859.6 L506.5 859.7 L507.5 859.7 L508.5 859.8 L509.5 859.8 L510.5 859.9 L511.5 859.9 L512.5 860.0 L513.5 860.0 L514.5 860.1 L515.5 860.1 L516.5 860.2 L517.5 860.2 L518.5 860.2 L519.5 860.3 L520.5 860.3 L521.5 860.4 L522.5 860.4 L523.5 860.5 L524.5 860.5 L525.5 860.5 L526.5 860.6 L527.5 860.6 L528.5 860.7 L529.5 860.7 L530.5 860.7 L531.5 860.8 L532.5 860.8 L533.5 860.9 L534.5 860.9 L535.5 860.9 L536.5 861.0 L537.5 861.0 L538.5 861.1 L539.5 861.1 L540.5 861.1 L541.5 861.2 L542.5 861.2 L543.5 861.3 L544.5 861.3 L545.5 861.3 L546.5 861.4 L547.5 861.4 L548.5 861.4 L549.5 861.5 L550.5 861.5 L551.5 861.5 L552.5 861.6 L553.5 861.6 L554.5 861.6 L555.5 861.7 L556.5 861.7 L557.5 861.7 L558.5 861.8 L559.5 861.8 L560.5 861.8 L561.5 861.9 L562.5 861.9 L563.5 861.9 L564.5 861.9 L565.5 862.0 L566.5 862.0 L567.5 862.0 L568.5 862.0 L569.5 862.1 L570.5 862.1 L571.5 862.1 L572.5 862.1 L573.5 862.2 L574.5 862.2 L575.5 862.2 L576.5 862.2 L577.5 862.3 L578.5 862.3 L579.5 862.3 L580.5 862.3 L581.5 862.3 L582.5 862.3 L583.5 862.4 L584.5 862.4 L585.5 862.4 L586.5 862.4 L587.5 862.4 L588.5 862.4 L589.5 862.4 L590.5 862.5 L591.5 862.5 L592.5 862.5" fill="none" stroke="#ff00ff" stroke-width="2.9" stroke-linejoin="round" stroke-linecap="round" />
<path d="M67.5 823.3 L68.5 823.1 L69.5 823.0 L70.5 822.8 L71.5 822.6 L72.5 822.5 L73.5 822.3 L74.5 822.1 L75.5 821.9 L76.5 821.7 L77.5 821.5 L78.5 821.3 L79.5 821.1 L80.5 820.9 L81.5 820.7 L82.5 820.5 L83.5 820.3 L84.5 820.0 L85.5 819.8 L86.5 819.6 L87.5 819.3 L88.5 819.0 L89.5 818.8 L90.5 818.5 L91.5 818.2 L92.5 818.0 L93.5 817.7 L94.5 817.4 L95.5 817.1 L96.5 816.8 L97.5 816.4 L98.5 816.1 L99.5 815.8 L100.5 815.5 L101.5 815.1 L102.5 814.7 L103.5 814.4 L104.5 814.0 L105.5 813.6 L106.5 813.2 L107.5 812.8 L108.5 812.4 L109.5 812.0 L110.5 811.6 L111.5 811.2 L112.5 810.7 L113.5 810.3 L114.5 809.8 L115.5 809.3 L116.5 808.8 L117.5 808.3 L118.5 807.8 L119.5 807.3 L120.5 806.8 L121.5 806.3 L122.5 805.7 L123.5 805.1 L124.5 804.6 L125.5 804.0 L126.5 803.4 L127.5 802.8 L128.5 802.2 L129.5 801.5 L130.5 800.9 L131.5 800.2 L132.5 799.6 L133.5 798.9 L134.5 798.2 L135.5 797.5 L136.5 796.7 L137.5 796.0 L138.5 795.3 L139.5 794.5 L140.5 793.7 L141.5 792.9 L142.5 792.1 L143.5 791.3 L144.5 790.5 L145.5 789.6 L146.5 788.8 L147.5 787.9 L148.5 787.0 L149.5 786.1 L150.5 785.2 L151.5 784.2 L152.5 783.3 L153.5 782.3 L154.5 781.3 L155.5 780.3 L156.5 779.3 L157.5 778.3 L158.5 777.2 L159.5 776.1 L160.5 775.1 L161.5 774.0 L162.5 772.9 L163.5 771.7 L164.5 770.6 L165.5 769.5 L166.5 768.3 L167.5 767.1 L168.5 765.9 L169.5 764.7 L170.5 763.5 L171.5 762.3 L172.5 761.0 L173.5 759.8 L174.5 758.5 L175.5 757.2 L176.5 755.9 L177.5 754.6 L178.5 753.3 L179.5 751.9 L180.5 750.5 L181.5 749.2 L182.5 747.8 L183.5 746.4 L184.5 744.9 L185.5 743.5 L186.5 742.1 L187.5 740.6 L188.5 739.1 L189.5 737.6 L190.5 736.1 L191.5 734.6 L192.5 733.0 L193.5 731.5 L194.5 729.9 L195.5 728.3 L196.5 726.7 L197.5 725.1 L198.5 723.5 L199.5 721.9 L200.5 720.2 L201.5 718.6 L202.5 716.9 L203.5 715.2 L204.5 713.5 L205.5 711.8 L206.5 710.0 L207.5 708.3 L208.5 706.5 L209.5 704.8 L210.5 703.0 L211.5 701.2 L212.5 699.4 L213.5 697.6 L214.5 695.8 L215.5 693.9 L216.5 692.1 L217.5 690.2 L218.5 688.4 L219.5 686.5 L220.5 684.6 L221.5 682.7 L222.5 680.8 L223.5 678.9 L224.5 677.0 L225.5 675.1 L226.5 673.2 L227.5 671.2 L228.5 669.3 L229.5 667.4 L230.5 665.4 L231.5 663.5 L232.5 661.5 L233.5 659.6 L234.5 657.6 L235.5 655.7 L236.5 653.7 L237.5 651.8 L238.5 649.8 L239.5 647.9 L240.5 645.9 L241.5 644.0 L242.5 642.0 L243.5 640.1 L244.5 638.2 L245.5 636.2 L246.5 634.3 L247.5 632.4 L248.5 630.5 L249.5 628.6 L250.5 626.7 L251.5 624.8 L252.5 622.9 L253.5 621.0 L254.5 619.1 L255.5 617.3 L256.5 615.4 L257.5 613.6 L258.5 611.8 L259.5 610.0 L260.5 608.2 L261.5 606.4 L262.5 604.6 L263.5 602.8 L264.5 601.1 L265.5 599.4 L266.5 597.7 L267.5 596.0 L268.5 594.3 L269.5 592.7 L270.5 591.0 L271.5 589.4 L272.5 587.8 L273.5 586.2 L274.5 584.7 L275.5 583.2 L276.5 581.6 L277.5 580.2 L278.5 578.7 L279.5 577.3 L280.5 575.9 L281.5 574.5 L282.5 573.1 L283.5 571.8 L284.5 570.5 L285.5 569.2 L286.5 568.0 L287.5 566.7 L288.5 565.6 L289.5 564.4 L290.5 563.3 L291.5 562.2 L292.5 561.1 L293.5 560.1 L294.5 559.1 L295.5 558.1 L296.5 557.2 L297.5 556.3 L298.5 555.4 L299.5 554.6 L300.5 553.8 L301.5 553.0 L302.5 552.3 L303.5 551.6 L304.5 551.0 L305.5 550.4 L306.5 549.8 L307.5 549.3 L308.5 548.8 L309.5 548.3 L310.5 547.9 L311.5 547.5 L312.5 547.2 L313.5 546.9 L314.5 546.6 L315.5 546.4 L316.5 546.2 L317.5 546.1 L318.5 546.0 L319.5 545.9 L320.5 545.9 L321.5 545.9 L322.5 546.0 L323.5 546.1 L324.5 546.2 L325.5 546.4 L326.5 546.6 L327.5 546.9 L328.5 547.2 L329.5 547.5 L330.5 547.9 L331.5 548.3 L332.5 548.7 L333.5 549.2 L334.5 549.7 L335.5 550.2 L336.5 550.8 L337.5 551.4 L338.5 552.1 L339.5 552.8 L340.5 553.5 L341.5 554.3 L342.5 555.1 L343.5 555.9 L344.5 556.7 L345.5 557.6 L346.5 558.6 L347.5 559.5 L348.5 560.5 L349.5 561.5 L350.5 562.6 L351.5 563.7 L352.5 564.8 L353.5 565.9 L354.5 567.1 L355.5 568.3 L356.5 569.5 L357.5 570.8 L358.5 572.1 L359.5 573.4 L360.5 574.7 L361.5 576.1 L362.5 577.5 L363.5 578.9 L364.5 580.3 L365.5 581.7 L366.5 583.2 L367.5 584.7 L368.5 586.2 L369.5 587.7 L370.5 589.3 L371.5 590.8 L372.5 592.4 L373.5 594.0 L374.5 595.6 L375.5 597.2 L376.5 598.9 L377.5 600.5 L378.5 602.1 L379.5 603.8 L380.5 605.5 L381.5 607.1 L382.5 608.8 L383.5 610.5 L384.5 612.2 L385.5 613.8 L386.5 615.5 L387.5 617.2 L388.5 618.9 L389.5 620.6 L390.5 622.2 L391.5 623.9 L392.5 625.5 L393.5 627.2 L394.5 628.8 L395.5 630.4 L396.5 632.0 L397.5 633.6 L398.5 635.2 L399.5 636.7 L400.5 638.3 L401.5 639.8 L402.5 641.3 L403.5 642.7 L404.5 644.2 L405.5 645.6 L406.5 647.0 L407.5 648.3 L408.5 649.6 L409.5 650.9 L410.5 652.1 L411.5 653.4 L412.5 654.5 L413.5 655.7 L414.5 656.8 L415.5 657.8 L416.5 658.8 L417.5 659.8 L418.5 660.7 L419.5 661.6 L420.5 662.4 L421.5 663.2 L422.5 664.0 L423.5 664.7 L424.5 665.3 L425.5 665.9 L426.5 666.5 L427.5 667.0 L428.5 667.5 L429.5 667.9 L430.5 668.3 L431.5 668.6 L432.5 668.9 L433.5 669.2 L434.5 669.4 L435.5 669.6 L436.5 669.7 L437.5 669.8 L438.5 669.9 L439.5 669.9 L440.5 669.9 L441.5 669.9 L442.5 669.8 L443.5 669.7 L444.5 669.6 L445.5 669.5 L446.5 669.4 L447.5 669.2 L448.5 669.1 L449.5 668.9 L450.5 668.7 L451.5 668.5 L452.5 668.4 L453.5 668.2 L454.5 668.1 L455.5 667.9 L456.5 667.8 L457.5 667.7 L458.5 667.6 L459.5 667.6 L460.5 667.6 L461.5 667.6 L462.5 667.7 L463.5 667.7 L464.5 667.9 L465.5 668.1 L466.5 668.3 L467.5 668.6 L468.5 668.9 L469.5 669.3 L470.5 669.8 L471.5 670.3 L472.5 670.9 L473.5 671.6 L474.5 672.3 L475.5 673.1 L476.5 674.0 L477.5 674.9 L478.5 675.9 L479.5 677.0 L480.5 678.2 L481.5 679.4 L482.5 680.7 L483.5 682.1 L484.5 683.5 L485.5 685.0 L486.5 686.5 L487.5 688.1 L488.5 689.7 L489.5 691.4 L490.5 693.2 L491.5 695.0 L492.5 696.8 L493.5 698.7 L494.5 700.7 L495.5 702.6 L496.5 704.7 L497.5 706.8 L498.5 708.9 L499.5 711.0 L500.5 713.2 L501.5 715.5 L502.5 717.7 L503.5 720.0 L504.5 722.3 L505.5 724.7 L506.5 727.0 L507.5 729.4 L508.5 731.8 L509.5 734.3 L510.5 736.7 L511.5 739.1 L512.5 741.6 L513.5 744.0 L514.5 746.5 L515.5 749.0 L516.5 751.4 L517.5 753.9 L518.5 756.3 L519.5 758.8 L520.5 761.2 L521.5 763.6 L522.5 766.1 L523.5 768.4 L524.5 770.8 L525.5 773.2 L526.5 775.5 L527.5 777.8 L528.5 780.1 L529.5 782.4 L530.5 784.6 L531.5 786.8 L532.5 789.0 L533.5 791.1 L534.5 793.2 L535.5 795.3 L536.5 797.3 L537.5 799.3 L538.5 801.2 L539.5 803.1 L540.5 805.0 L541.5 806.9 L542.5 808.7 L543.5 810.4 L544.5 812.1 L545.5 813.8 L546.5 815.4 L547.5 817.0 L548.5 818.6 L549.5 820.1 L550.5 821.6 L551.5 823.0 L552.5 824.4 L553.5 825.7 L554.5 827.0 L555.5 828.3 L556.5 829.5 L557.5 830.7 L558.5 831.9 L559.5 833.0 L560.5 834.1 L561.5 835.1 L562.5 836.1 L563.5 837.1 L564.5 838.0 L565.5 838.9 L566.5 839.8 L567.5 840.6 L568.5 841.4 L569.5 842.2 L570.5 843.0 L571.5 843.7 L572.5 844.4 L573.5 845.0 L574.5 845.7 L575.5 846.3 L576.5 846.9 L577.5 847.4 L578.5 848.0 L579.5 848.5 L580.5 849.0 L581.5 849.5 L582.5 849.9 L583.5 850.3 L584.5 850.8 L585.5 851.2 L586.5 851.5 L587.5 851.9 L588.5 852.2 L589.5 852.6 L590.5 852.9 L591.5 853.2 L592.5 853.5" fill="none" stroke="#0000ff" stroke-width="2.9" stroke-linejoin="round" stroke-linecap="round" />
<path d="M67.0 830.3 L68.0 830.3 L69.0 830.3 L70.0 830.3 L71.0 830.3 L72.0 830.3 L73.0 830.3 L74.0 830.3 L75.0 830.3 L76.0 830.3 L77.0 830.3 L78.0 830.3 L79.0 830.3 L80.0 830.3 L81.0 830.3 L82.0 830.3 L83.0 830.3 L84.0 830.3 L85.0 830.3 L86.0 830.3 L87.0 830.3 L88.0 830.3 L89.0 830.3 L90.0 830.3 L91.0 830.3 L92.0 830.3 L93.0 830.3 L94.0 830.3 L95.0 830.3 L96.0 830.3 L97.0 830.2 L98.0 829.2 L99.0 828.2 L100.0 827.2 L101.0 826.2 L102.0 825.2 L103.0 824.2 L104.0 823.2 L105.0 822.2 L106.0 821.2 L107.0 820.2 L108.0 819.2 L109.0 818.2 L110.0 817.2 L111.0 816.2 L112.0 815.2 L113.0 814.2 L114.0 813.2 L115.0 812.3 L116.0 811.3 L117.0 810.4 L118.0 809.4 L119.0 808.5 L120.0 807.5 L121.0 806.6 L122.0 805.6 L123.0 804.7 L124.0 803.7 L125.0 802.8 L126.0 801.8 L127.0 800.9 L128.0 799.9 L129.0 798.9 L130.0 798.0 L131.0 797.0 L132.0 796.1 L133.0 795.1 L134.0 794.2 L135.0 793.2 L136.0 792.3 L137.0 791.3 L138.0 790.4 L139.0 789.4 L140.0 788.5 L141.0 787.5 L142.0 786.6 L143.0 785.6 L144.0 784.7 L145.0 783.4 L146.0 781.4 L147.0 779.4 L148.0 777.4 L149.0 775.4 L150.0 773.4 L151.0 771.4 L152.0 769.4 L153.0 767.5 L154.0 765.5 L155.0 763.5 L156.0 761.5 L157.0 759.5 L158.0 757.5 L159.0 755.5 L160.0 753.5 L161.0 751.5 L162.0 750.2 L163.0 749.2 L164.0 748.2 L165.0 747.2 L166.0 746.2 L167.0 745.2 L168.0 744.2 L169.0 743.2 L170.0 742.2 L171.0 741.2 L172.0 740.2 L173.0 739.2 L174.0 738.2 L175.0 737.2 L176.0 736.2 L177.0 735.2 L178.0 734.2 L179.0 732.8 L180.0 731.5 L181.0 730.2 L182.0 728.8 L183.0 727.5 L184.0 726.2 L185.0 724.8 L186.0 723.5 L187.0 722.2 L188.0 720.8 L189.0 719.5 L190.0 716.3 L191.0 713.0 L192.0 709.8 L193.0 706.6 L194.0 703.4 L195.0 700.1 L196.0 696.9 L197.0 694.8 L198.0 693.4 L199.0 692.0 L200.0 690.6 L201.0 689.2 L202.0 687.7 L203.0 686.3 L204.0 684.9 L205.0 683.5 L206.0 682.5 L207.0 681.9 L208.0 681.4 L209.0 680.8 L210.0 680.3 L211.0 679.7 L212.0 679.2 L213.0 678.6 L214.0 678.0 L215.0 677.5 L216.0 676.9 L217.0 676.4 L218.0 675.8 L219.0 675.3 L220.0 674.7 L221.0 674.2 L222.0 673.6 L223.0 672.9 L224.0 672.2 L225.0 671.5 L226.0 670.8 L227.0 670.0 L228.0 669.3 L229.0 668.6 L230.0 667.9 L231.0 667.1 L232.0 666.4 L233.0 665.7 L234.0 665.0 L235.0 664.2 L236.0 663.5 L237.0 662.8 L238.0 662.1 L239.0 661.6 L240.0 662.1 L241.0 662.6 L242.0 663.1 L243.0 663.6 L244.0 664.1 L245.0 664.6 L246.0 665.1 L247.0 665.6 L248.0 666.1 L249.0 664.5 L250.0 662.9 L251.0 661.3 L252.0 659.7 L253.0 658.1 L254.0 656.4 L255.0 654.8 L256.0 653.2 L257.0 651.6 L258.0 648.8 L259.0 645.7 L260.0 642.6 L261.0 639.5 L262.0 636.4 L263.0 633.3 L264.0 630.2 L265.0 627.1 L266.0 624.0 L267.0 620.9 L268.0 618.6 L269.0 616.7 L270.0 614.7 L271.0 612.8 L272.0 610.8 L273.0 608.9 L274.0 606.9 L275.0 605.0 L276.0 603.0 L277.0 601.1 L278.0 599.1 L279.0 597.2 L280.0 595.2 L281.0 593.3 L282.0 591.3 L283.0 589.3 L284.0 587.3 L285.0 585.2 L286.0 583.2 L287.0 581.2 L288.0 579.2 L289.0 577.2 L290.0 575.2 L291.0 573.2 L292.0 571.1 L293.0 569.1 L294.0 567.1 L295.0 565.1 L296.0 563.1 L297.0 561.1 L298.0 559.1 L299.0 557.0 L300.0 555.0 L301.0 553.0 L302.0 551.0 L303.0 548.9 L304.0 546.7 L305.0 544.6 L306.0 542.4 L307.0 540.2 L308.0 538.1 L309.0 535.9 L310.0 536.0 L311.0 536.3 L312.0 536.7 L313.0 537.0 L314.0 537.3 L315.0 537.6 L316.0 538.0 L317.0 538.6 L318.0 539.5 L319.0 540.4 L320.0 541.2 L321.0 542.1 L322.0 543.0 L323.0 543.7 L324.0 544.3 L325.0 545.0 L326.0 545.7 L327.0 546.4 L328.0 547.0 L329.0 547.7 L330.0 548.4 L331.0 549.1 L332.0 549.7 L333.0 550.4 L334.0 551.1 L335.0 551.8 L336.0 552.4 L337.0 553.3 L338.0 554.7 L339.0 556.1 L340.0 557.5 L341.0 558.9 L342.0 560.3 L343.0 561.6 L344.0 562.5 L345.0 563.5 L346.0 564.4 L347.0 565.3 L348.0 566.3 L349.0 567.2 L350.0 568.2 L351.0 569.1 L352.0 570.0 L353.0 570.5 L354.0 569.9 L355.0 569.3 L356.0 568.7 L357.0 568.1 L358.0 567.5 L359.0 566.8 L360.0 566.2 L361.0 566.2 L362.0 567.6 L363.0 569.0 L364.0 570.4 L365.0 571.8 L366.0 573.2 L367.0 574.6 L368.0 576.0 L369.0 577.4 L370.0 579.0 L371.0 581.5 L372.0 584.1 L373.0 586.7 L374.0 589.3 L375.0 591.9 L376.0 594.4 L377.0 596.1 L378.0 597.7 L379.0 599.2 L380.0 600.8 L381.0 602.3 L382.0 603.9 L383.0 605.4 L384.0 607.0 L385.0 608.5 L386.0 610.1 L387.0 611.7 L388.0 613.2 L389.0 614.8 L390.0 616.3 L391.0 617.9 L392.0 619.4 L393.0 621.0 L394.0 622.6 L395.0 624.1 L396.0 625.7 L397.0 627.2 L398.0 628.8 L399.0 630.4 L400.0 631.9 L401.0 633.5 L402.0 635.1 L403.0 636.7 L404.0 638.3 L405.0 639.9 L406.0 641.4 L407.0 643.0 L408.0 644.6 L409.0 646.2 L410.0 647.8 L411.0 649.4 L412.0 651.0 L413.0 652.5 L414.0 654.1 L415.0 655.7 L416.0 657.3 L417.0 658.9 L418.0 660.5 L419.0 662.1 L420.0 663.6 L421.0 665.2 L422.0 666.8 L423.0 668.4 L424.0 668.2 L425.0 668.1 L426.0 667.9 L427.0 667.7 L428.0 667.5 L429.0 667.4 L430.0 667.2 L431.0 667.0 L432.0 666.9 L433.0 666.7 L434.0 666.5 L435.0 666.4 L436.0 667.3 L437.0 668.8 L438.0 670.3 L439.0 671.7 L440.0 673.2 L441.0 673.4 L442.0 673.6 L443.0 673.8 L444.0 674.0 L445.0 674.2 L446.0 674.4 L447.0 674.6 L448.0 674.8 L449.0 675.0 L450.0 675.2 L451.0 675.3 L452.0 675.5 L453.0 675.5 L454.0 675.3 L455.0 675.1 L456.0 674.9 L457.0 674.7 L458.0 674.5 L459.0 674.3 L460.0 674.1 L461.0 673.9 L462.0 673.7 L463.0 673.5 L464.0 673.3 L465.0 673.4 L466.0 674.0 L467.0 674.6 L468.0 675.2 L469.0 675.8 L470.0 676.4 L471.0 676.9 L472.0 677.5 L473.0 678.1 L474.0 678.7 L475.0 679.3 L476.0 679.9 L477.0 680.5 L478.0 681.0 L479.0 681.6 L480.0 682.7 L481.0 684.1 L482.0 685.4 L483.0 686.7 L484.0 688.0 L485.0 689.3 L486.0 690.7 L487.0 692.0 L488.0 693.3 L489.0 694.6 L490.0 696.0 L491.0 697.3 L492.0 698.6 L493.0 699.9 L494.0 701.3 L495.0 702.9 L496.0 704.5 L497.0 706.2 L498.0 707.8 L499.0 709.4 L500.0 711.1 L501.0 712.7 L502.0 714.4 L503.0 716.0 L504.0 717.6 L505.0 719.2 L506.0 720.8 L507.0 722.4 L508.0 723.9 L509.0 725.5 L510.0 727.1 L511.0 728.7 L512.0 730.3 L513.0 731.9 L514.0 734.1 L515.0 737.6 L516.0 741.1 L517.0 744.7 L518.0 748.2 L519.0 751.7 L520.0 755.3 L521.0 758.8 L522.0 762.3 L523.0 765.9 L524.0 770.2 L525.0 775.6 L526.0 781.1 L527.0 786.5 L528.0 792.0 L529.0 794.8 L530.0 797.6 L531.0 800.4 L532.0 803.2 L533.0 806.0 L534.0 808.5 L535.0 810.9 L536.0 813.3 L537.0 815.7 L538.0 818.1 L539.0 820.5 L540.0 822.9 L541.0 825.2 L542.0 827.6 L543.0 830.0 L544.0 830.7 L545.0 831.0 L546.0 831.2 L547.0 831.5 L548.0 831.7 L549.0 832.0 L550.0 832.2 L551.0 832.5 L552.0 832.7 L553.0 833.0 L554.0 833.2 L555.0 833.5 L556.0 833.7 L557.0 834.0 L558.0 834.2 L559.0 834.5 L560.0 834.9 L561.0 835.2 L562.0 835.5 L563.0 835.9 L564.0 836.2 L565.0 836.5 L566.0 836.9 L567.0 837.2 L568.0 837.5 L569.0 837.9 L570.0 838.2 L571.0 838.5 L572.0 838.9 L573.0 839.3 L574.0 840.2 L575.0 841.0 L576.0 841.8 L577.0 842.6 L578.0 843.5 L579.0 844.3 L580.0 845.1 L581.0 846.0 L582.0 846.9 L583.0 847.8 L584.0 848.7 L585.0 849.6 L586.0 850.5 L587.0 851.4 L588.0 852.3 L589.0 853.2 L590.0 854.1 L591.0 855.0 L592.0 855.9 L593.0 858.5 L594.0 862.2" fill="none" stroke="#7f7f7f" stroke-width="2.4" stroke-linejoin="round" stroke-linecap="round" />
<path d="M67.5 823.3 L68.5 823.1 L69.5 823.0 L70.5 822.8 L71.5 822.6 L72.5 822.5 L73.5 822.3 L74.5 822.1 L75.5 821.9 L76.5 821.7 L77.5 821.5 L78.5 821.3 L79.5 821.1 L80.5 820.9 L81.5 820.7 L82.5 820.5 L83.5 820.3 L84.5 820.0 L85.5 819.8 L86.5 819.6 L87.5 819.3 L88.5 819.0 L89.5 818.8 L90.5 818.5 L91.5 818.2 L92.5 818.0 L93.5 817.7 L94.5 817.4 L95.5 817.1 L96.5 816.8 L97.5 816.4 L98.5 816.1 L99.5 815.8 L100.5 815.5 L101.5 815.1 L102.5 814.7 L103.5 814.4 L104.5 814.0 L105.5 813.6 L106.5 813.2 L107.5 812.8 L108.5 812.4 L109.5 812.0 L110.5 811.6 L111.5 811.2 L112.5 810.7 L113.5 810.3 L114.5 809.8 L115.5 809.3 L116.5 808.8 L117.5 808.3 L118.5 807.8 L119.5 807.3 L120.5 806.8 L121.5 806.3 L122.5 805.7 L123.5 805.1 L124.5 804.6 L125.5 804.0 L126.5 803.4 L127.5 802.8 L128.5 802.2 L129.5 801.5 L130.5 800.9 L131.5 800.2 L132.5 799.6 L133.5 798.9 L134.5 798.2 L135.5 797.5 L136.5 796.7 L137.5 796.0 L138.5 795.3 L139.5 794.5 L140.5 793.7 L141.5 792.9 L142.5 792.1 L143.5 791.3 L144.5 790.5 L145.5 789.6 L146.5 788.8 L147.5 787.9 L148.5 787.0 L149.5 786.1 L150.5 785.2 L151.5 784.2 L152.5 783.3 L153.5 782.3 L154.5 781.3 L155.5 780.3 L156.5 779.3 L157.5 778.3 L158.5 777.2 L159.5 776.1 L160.5 775.1 L161.5 774.0 L162.5 772.9 L163.5 771.7 L164.5 770.6 L165.5 769.5 L166.5 768.3 L167.5 767.1 L168.5 765.9 L169.5 764.7 L170.5 763.5 L171.5 762.3 L172.5 761.0 L173.5 759.8 L174.5 758.5 L175.5 757.2 L176.5 755.9 L177.5 754.6 L178.5 753.3 L179.5 751.9 L180.5 750.5 L181.5 749.2 L182.5 747.8 L183.5 746.4 L184.5 744.9 L185.5 743.5 L186.5 742.1 L187.5 740.6 L188.5 739.1 L189.5 737.6 L190.5 736.1 L191.5 734.6 L192.5 733.0 L193.5 731.5 L194.5 729.9 L195.5 728.3 L196.5 726.7 L197.5 725.1 L198.5 723.5 L199.5 721.9 L200.5 720.2 L201.5 718.6 L202.5 716.9 L203.5 715.2 L204.5 713.5 L205.5 711.8 L206.5 710.0 L207.5 708.3 L208.5 706.5 L209.5 704.8 L210.5 703.0 L211.5 701.2 L212.5 699.4 L213.5 697.6 L214.5 695.8 L215.5 693.9 L216.5 692.1 L217.5 690.2 L218.5 688.4 L219.5 686.5 L220.5 684.6 L221.5 682.7 L222.5 680.8 L223.5 678.9 L224.5 677.0 L225.5 675.1 L226.5 673.2 L227.5 671.2 L228.5 669.3 L229.5 667.4 L230.5 665.4 L231.5 663.5 L232.5 661.5 L233.5 659.6 L234.5 657.6 L235.5 655.7 L236.5 653.7 L237.5 651.8 L238.5 649.8 L239.5 647.9 L240.5 645.9 L241.5 644.0 L242.5 642.0 L243.5 640.1 L244.5 638.2 L245.5 636.2 L246.5 634.3 L247.5 632.4 L248.5 630.5 L249.5 628.6 L250.5 626.7 L251.5 624.8 L252.5 622.9 L253.5 621.0 L254.5 619.1 L255.5 617.3 L256.5 615.4 L257.5 613.6 L258.5 611.8 L259.5 610.0 L260.5 608.2 L261.5 606.4 L262.5 604.6 L263.5 602.8 L264.5 601.1 L265.5 599.4 L266.5 597.7 L267.5 596.0 L268.5 594.3 L269.5 592.7 L270.5 591.0 L271.5 589.4 L272.5 587.8 L273.5 586.2 L274.5 584.7 L275.5 583.2 L276.5 581.6 L277.5 580.2 L278.5 578.7 L279.5 577.3 L280.5 575.9 L281.5 574.5 L282.5 573.1 L283.5 571.8 L284.5 570.5 L285.5 569.2 L286.5 568.0 L287.5 566.7 L288.5 565.6 L289.5 564.4 L290.5 563.3 L291.5 562.2 L292.5 561.1 L293.5 560.1 L294.5 559.1 L295.5 558.1 L296.5 557.2 L297.5 556.3 L298.5 555.4 L299.5 554.6 L300.5 553.8 L301.5 553.0 L302.5 552.3 L303.5 551.6 L304.5 551.0 L305.5 550.4 L306.5 549.8 L307.5 549.3 L308.5 548.8 L309.5 548.3 L310.5 547.9 L311.5 547.5 L312.5 547.2 L313.5 546.9 L314.5 546.6 L315.5 546.4 L316.5 546.2 L317.5 546.1 L318.5 546.0 L319.5 545.9 L320.5 545.9 L321.5 545.9 L322.5 546.0 L323.5 546.1 L324.5 546.2 L325.5 546.4 L326.5 546.6 L327.5 546.9 L328.5 547.2 L329.5 547.5 L330.5 547.9 L331.5 548.3 L332.5 548.7 L333.5 549.2 L334.5 549.7 L335.5 550.2 L336.5 550.8 L337.5 551.4 L338.5 552.1 L339.5 552.8 L340.5 553.5 L341.5 554.3 L342.5 555.1 L343.5 555.9 L344.5 556.7 L345.5 557.6 L346.5 558.6 L347.5 559.5 L348.5 560.5 L349.5 561.5 L350.5 562.6 L351.5 563.7 L352.5 564.8 L353.5 565.9 L354.5 567.1 L355.5 568.3 L356.5 569.5 L357.5 570.8 L358.5 572.1 L359.5 573.4 L360.5 574.7 L361.5 576.1 L362.5 577.5 L363.5 578.9 L364.5 580.3 L365.5 581.7 L366.5 583.2 L367.5 584.7 L368.5 586.2 L369.5 587.7 L370.5 589.3 L371.5 590.8 L372.5 592.4 L373.5 594.0 L374.5 595.6 L375.5 597.2 L376.5 598.9 L377.5 600.5 L378.5 602.1 L379.5 603.8 L380.5 605.5 L381.5 607.1 L382.5 608.8 L383.5 610.5 L384.5 612.2 L385.5 613.8 L386.5 615.5 L387.5 617.2 L388.5 618.9 L389.5 620.6 L390.5 622.2 L391.5 623.9 L392.5 625.5 L393.5 627.2 L394.5 628.8 L395.5 630.4 L396.5 632.0 L397.5 633.6 L398.5 635.2 L399.5 636.7 L400.5 638.3 L401.5 639.8 L402.5 641.3 L403.5 642.7 L404.5 644.2 L405.5 645.6 L406.5 647.0 L407.5 648.3 L408.5 649.6 L409.5 650.9 L410.5 652.1 L411.5 653.4 L412.5 654.5 L413.5 655.7 L414.5 656.8 L415.5 657.8 L416.5 658.8 L417.5 659.8 L418.5 660.7 L419.5 661.6 L420.5 662.4 L421.5 663.2 L422.5 664.0 L423.5 664.7 L424.5 665.3 L425.5 665.9 L426.5 666.5 L427.5 667.0 L428.5 667.5 L429.5 667.9 L430.5 668.3 L431.5 668.6 L432.5 668.9 L433.5 669.2 L434.5 669.4 L435.5 669.6 L436.5 669.7 L437.5 669.8 L438.5 669.9 L439.5 669.9 L440.5 669.9 L441.5 669.9 L442.5 669.8 L443.5 669.7 L444.5 669.6 L445.5 669.5 L446.5 669.4 L447.5 669.2 L448.5 669.1 L449.5 668.9 L450.5 668.7 L451.5 668.5 L452.5 668.4 L453.5 668.2 L454.5 668.1 L455.5 667.9 L456.5 667.8 L457.5 667.7 L458.5 667.6 L459.5 667.6 L460.5 667.6 L461.5 667.6 L462.5 667.7 L463.5 667.7 L464.5 667.9 L465.5 668.1 L466.5 668.3 L467.5 668.6 L468.5 668.9 L469.5 669.3 L470.5 669.8 L471.5 670.3 L472.5 670.9 L473.5 671.6 L474.5 672.3 L475.5 673.1 L476.5 674.0 L477.5 674.9 L478.5 675.9 L479.5 677.0 L480.5 678.2 L481.5 679.4 L482.5 680.7 L483.5 682.1 L484.5 683.5 L485.5 685.0 L486.5 686.5 L487.5 688.1 L488.5 689.7 L489.5 691.4 L490.5 693.2 L491.5 695.0 L492.5 696.8 L493.5 698.7 L494.5 700.7 L495.5 702.6 L496.5 704.7 L497.5 706.8 L498.5 708.9 L499.5 711.0 L500.5 713.2 L501.5 715.5 L502.5 717.7 L503.5 720.0 L504.5 722.3 L505.5 724.7 L506.5 727.0 L507.5 729.4 L508.5 731.8 L509.5 734.3 L510.5 736.7 L511.5 739.1 L512.5 741.6 L513.5 744.0 L514.5 746.5 L515.5 749.0 L516.5 751.4 L517.5 753.9 L518.5 756.3 L519.5 758.8 L520.5 761.2 L521.5 763.6 L522.5 766.1 L523.5 768.4 L524.5 770.8 L525.5 773.2 L526.5 775.5 L527.5 777.8 L528.5 780.1 L529.5 782.4 L530.5 784.6 L531.5 786.8 L532.5 789.0 L533.5 791.1 L534.5 793.2 L535.5 795.3 L536.5 797.3 L537.5 799.3 L538.5 801.2 L539.5 803.1 L540.5 805.0 L541.5 806.9 L542.5 808.7 L543.5 810.4 L544.5 812.1 L545.5 813.8 L546.5 815.4 L547.5 817.0 L548.5 818.6 L549.5 820.1 L550.5 821.6 L551.5 823.0 L552.5 824.4 L553.5 825.7 L554.5 827.0 L555.5 828.3 L556.5 829.5 L557.5 830.7 L558.5 831.9 L559.5 833.0 L560.5 834.1 L561.5 835.1 L562.5 836.1 L563.5 837.1 L564.5 838.0 L565.5 838.9 L566.5 839.8 L567.5 840.6 L568.5 841.4 L569.5 842.2 L570.5 843.0 L571.5 843.7 L572.5 844.4 L573.5 845.0 L574.5 845.7 L575.5 846.3 L576.5 846.9 L577.5 847.4 L578.5 848.0 L579.5 848.5 L580.5 849.0 L581.5 849.5 L582.5 849.9 L583.5 850.3 L584.5 850.8 L585.5 851.2 L586.5 851.5 L587.5 851.9 L588.5 852.2 L589.5 852.6 L590.5 852.9 L591.5 853.2 L592.5 853.5" fill="none" stroke="#0000ff" stroke-width="2.9" stroke-linejoin="round" stroke-linecap="round" />
<path d="M67.5 823.3 L68.5 823.1 L69.5 823.0 L70.5 822.8 L71.5 822.6 L72.5 822.5 L73.5 822.3 L74.5 822.1 L75.5 821.9 L76.5 821.7 L77.5 821.5 L78.5 821.3 L79.5 821.1 L80.5 820.9 L81.5 820.7 L82.5 820.5 L83.5 820.3 L84.5 820.0 L85.5 819.8 L86.5 819.6 L87.5 819.3 L88.5 819.0 L89.5 818.8 L90.5 818.5 L91.5 818.2 L92.5 818.0 L93.5 817.7 L94.5 817.4 L95.5 817.1 L96.5 816.8 L97.5 816.4 L98.5 816.1 L99.5 815.8 L100.5 815.5 L101.5 815.1 L102.5 814.7 L103.5 814.4 L104.5 814.0 L105.5 813.6 L106.5 813.2 L107.5 812.8 L108.5 812.4 L109.5 812.0 L110.5 811.6 L111.5 811.2 L112.5 810.7 L113.5 810.3 L114.5 809.8 L115.5 809.3 L116.5 808.8 L117.5 808.3 L118.5 807.8 L119.5 807.3 L120.5 806.8 L121.5 806.3 L122.5 805.7 L123.5 805.1 L124.5 804.6 L125.5 804.0 L126.5 803.4 L127.5 802.8 L128.5 802.2 L129.5 801.5 L130.5 800.9 L131.5 800.2 L132.5 799.6 L133.5 798.9 L134.5 798.2 L135.5 797.5 L136.5 796.7 L137.5 796.0 L138.5 795.3 L139.5 794.5 L140.5 793.7 L141.5 792.9 L142.5 792.1 L143.5 791.3 L144.5 790.5 L145.5 789.6 L146.5 788.8 L147.5 787.9 L148.5 787.0 L149.5 786.1 L150.5 785.2 L151.5 784.2 L152.5 783.3 L153.5 782.3 L154.5 781.3 L155.5 780.3 L156.5 779.3 L157.5 778.3 L158.5 777.2 L159.5 776.1 L160.5 775.1 L161.5 774.0 L162.5 772.9 L163.5 771.7 L164.5 770.6 L165.5 769.5 L166.5 768.3 L167.5 767.1 L168.5 765.9 L169.5 764.7 L170.5 763.5 L171.5 762.3 L172.5 761.0 L173.5 759.8 L174.5 758.5 L175.5 757.2 L176.5 755.9 L177.5 754.6 L178.5 753.3 L179.5 751.9 L180.5 750.5 L181.5 749.2 L182.5 747.8 L183.5 746.4 L184.5 744.9 L185.5 743.5 L186.5 742.1 L187.5 740.6 L188.5 739.1 L189.5 737.6 L190.5 736.1 L191.5 734.6 L192.5 733.0 L193.5 731.5 L194.5 729.9 L195.5 728.3 L196.5 726.7 L197.5 725.1 L198.5 723.5 L199.5 721.9 L200.5 720.2 L201.5 718.6 L202.5 716.9 L203.5 715.2 L204.5 713.5 L205.5 711.8 L206.5 710.0 L207.5 708.3 L208.5 706.5 L209.5 704.8 L210.5 703.0 L211.5 701.2 L212.5 699.4 L213.5 697.6 L214.5 695.8 L215.5 693.9 L216.5 692.1 L217.5 690.2 L218.5 688.4 L219.5 686.5 L220.5 684.6 L221.5 682.7 L222.5 680.8 L223.5 678.9 L224.5 677.0 L225.5 675.1 L226.5 673.2 L227.5 671.2 L228.5 669.3 L229.5 667.4 L230.5 665.4 L231.5 663.5 L232.5 661.5 L233.5 659.6 L234.5 657.6 L235.5 655.7 L236.5 653.7 L237.5 651.8 L238.5 649.8 L239.5 647.9 L240.5 645.9 L241.5 644.0 L242.5 642.0 L243.5 640.1 L244.5 638.2 L245.5 636.2 L246.5 634.3 L247.5 632.4 L248.5 630.5 L249.5 628.6 L250.5 626.7 L251.5 624.8 L252.5 622.9 L253.5 621.0 L254.5 619.1 L255.5 617.3 L256.5 615.4 L257.5 613.6 L258.5 611.8 L259.5 610.0 L260.5 608.2 L261.5 606.4 L262.5 604.6 L263.5 602.8 L264.5 601.1 L265.5 599.4 L266.5 597.7 L267.5 596.0 L268.5 594.3 L269.5 592.7 L270.5 591.0 L271.5 589.4 L272.5 587.8 L273.5 586.2 L274.5 584.7 L275.5 583.2 L276.5 581.6 L277.5 580.2 L278.5 578.7 L279.5 577.3 L280.5 575.9 L281.5 574.5 L282.5 573.1 L283.5 571.8 L284.5 570.5 L285.5 569.2 L286.5 568.0 L287.5 566.7 L288.5 565.6 L289.5 564.4 L290.5 563.3 L291.5 562.2 L292.5 561.1 L293.5 560.1 L294.5 559.1 L295.5 558.1 L296.5 557.2 L297.5 556.3 L298.5 555.4 L299.5 554.6 L300.5 553.8 L301.5 553.0 L302.5 552.3 L303.5 551.6 L304.5 551.0 L305.5 550.4 L306.5 549.8 L307.5 549.3 L308.5 548.8 L309.5 548.3 L310.5 547.9 L311.5 547.5 L312.5 547.2 L313.5 546.9 L314.5 546.6 L315.5 546.4 L316.5 546.2 L317.5 546.1 L318.5 546.0 L319.5 545.9 L320.5 545.9 L321.5 545.9 L322.5 546.0 L323.5 546.1 L324.5 546.2 L325.5 546.4 L326.5 546.6 L327.5 546.9 L328.5 547.2 L329.5 547.5 L330.5 547.9 L331.5 548.3 L332.5 548.7 L333.5 549.2 L334.5 549.7 L335.5 550.3 L336.5 550.8 L337.5 551.5 L338.5 552.1 L339.5 552.8 L340.5 553.5 L341.5 554.3 L342.5 555.1 L343.5 555.9 L344.5 556.8 L345.5 557.7 L346.5 558.6 L347.5 559.6 L348.5 560.6 L349.5 561.6 L350.5 562.7 L351.5 563.8 L352.5 564.9 L353.5 566.1 L354.5 567.3 L355.5 568.5 L356.5 569.7 L357.5 571.0 L358.5 572.3 L359.5 573.6 L360.5 575.0 L361.5 576.4 L362.5 577.8 L363.5 579.2 L364.5 580.7 L365.5 582.2 L366.5 583.7 L367.5 585.3 L368.5 586.8 L369.5 588.4 L370.5 590.0 L371.5 591.6 L372.5 593.3 L373.5 595.0 L374.5 596.7 L375.5 598.4 L376.5 600.1 L377.5 601.8 L378.5 603.6 L379.5 605.4 L380.5 607.2 L381.5 609.0 L382.5 610.8 L383.5 612.7 L384.5 614.6 L385.5 616.4 L386.5 618.3 L387.5 620.2 L388.5 622.2 L389.5 624.1 L390.5 626.0 L391.5 628.0 L392.5 629.9 L393.5 631.9 L394.5 633.9 L395.5 635.9 L396.5 637.9 L397.5 639.9 L398.5 641.9 L399.5 643.9 L400.5 646.0 L401.5 648.0 L402.5 650.0 L403.5 652.1 L404.5 654.1 L405.5 656.2 L406.5 658.2 L407.5 660.3 L408.5 662.3 L409.5 664.4 L410.5 666.4 L411.5 668.5 L412.5 670.5 L413.5 672.6 L414.5 674.6 L415.5 676.7 L416.5 678.7 L417.5 680.8 L418.5 682.8 L419.5 684.9 L420.5 686.9 L421.5 688.9 L422.5 691.0 L423.5 693.0 L424.5 695.0 L425.5 697.0 L426.5 699.0 L427.5 701.0 L428.5 703.0 L429.5 705.0 L430.5 707.0 L431.5 708.9 L432.5 710.9 L433.5 712.8 L434.5 714.8 L435.5 716.7 L436.5 718.6 L437.5 720.5 L438.5 722.4 L439.5 724.3 L440.5 726.2 L441.5 728.0 L442.5 729.9 L443.5 731.7 L444.5 733.5 L445.5 735.3 L446.5 737.1 L447.5 738.9 L448.5 740.7 L449.5 742.5 L450.5 744.2 L451.5 745.9 L452.5 747.7 L453.5 749.4 L454.5 751.1 L455.5 752.7 L456.5 754.4 L457.5 756.1 L458.5 757.7 L459.5 759.3 L460.5 760.9 L461.5 762.5 L462.5 764.1 L463.5 765.7 L464.5 767.2 L465.5 768.7 L466.5 770.3 L467.5 771.8 L468.5 773.2 L469.5 774.7 L470.5 776.2 L471.5 777.6 L472.5 779.0 L473.5 780.5 L474.5 781.8 L475.5 783.2 L476.5 784.6 L477.5 785.9 L478.5 787.3 L479.5 788.6 L480.5 789.9 L481.5 791.2 L482.5 792.4 L483.5 793.7 L484.5 794.9 L485.5 796.1 L486.5 797.3 L487.5 798.5 L488.5 799.7 L489.5 800.8 L490.5 802.0 L491.5 803.1 L492.5 804.2 L493.5 805.3 L494.5 806.4 L495.5 807.4 L496.5 808.5 L497.5 809.5 L498.5 810.5 L499.5 811.5 L500.5 812.5 L501.5 813.4 L502.5 814.4 L503.5 815.3 L504.5 816.2 L505.5 817.2 L506.5 818.0 L507.5 818.9 L508.5 819.8 L509.5 820.6 L510.5 821.4 L511.5 822.3 L512.5 823.1 L513.5 823.9 L514.5 824.6 L515.5 825.4 L516.5 826.1 L517.5 826.9 L518.5 827.6 L519.5 828.3 L520.5 829.0 L521.5 829.7 L522.5 830.4 L523.5 831.0 L524.5 831.7 L525.5 832.3 L526.5 832.9 L527.5 833.6 L528.5 834.2 L529.5 834.8 L530.5 835.3 L531.5 835.9 L532.5 836.5 L533.5 837.0 L534.5 837.6 L535.5 838.1 L536.5 838.6 L537.5 839.1 L538.5 839.6 L539.5 840.1 L540.5 840.6 L541.5 841.1 L542.5 841.5 L543.5 842.0 L544.5 842.4 L545.5 842.9 L546.5 843.3 L547.5 843.7 L548.5 844.1 L549.5 844.5 L550.5 844.9 L551.5 845.3 L552.5 845.7 L553.5 846.1 L554.5 846.4 L555.5 846.8 L556.5 847.1 L557.5 847.5 L558.5 847.8 L559.5 848.1 L560.5 848.4 L561.5 848.7 L562.5 849.0 L563.5 849.3 L564.5 849.6 L565.5 849.9 L566.5 850.2 L567.5 850.5 L568.5 850.7 L569.5 851.0 L570.5 851.2 L571.5 851.5 L572.5 851.7 L573.5 852.0 L574.5 852.2 L575.5 852.4 L576.5 852.6 L577.5 852.8 L578.5 853.0 L579.5 853.2 L580.5 853.4 L581.5 853.6 L582.5 853.8 L583.5 854.0 L584.5 854.2 L585.5 854.3 L586.5 854.5 L587.5 854.7 L588.5 854.8 L589.5 855.0 L590.5 855.1 L591.5 855.3 L592.5 855.4" fill="none" stroke="#ff0000" stroke-width="2.9" stroke-linejoin="round" stroke-linecap="round" />
<path d="M370.5 847.2 L371.5 847.3 L372.5 847.3 L373.5 847.3 L374.5 847.3 L375.5 847.3 L376.5 847.3 L377.5 847.2 L378.5 847.2 L379.5 847.2 L380.5 847.1 L381.5 847.1 L382.5 847.0 L383.5 846.9 L384.5 846.8 L385.5 846.7 L386.5 846.6 L387.5 846.5 L388.5 846.3 L389.5 846.2 L390.5 846.0 L391.5 845.8 L392.5 845.6 L393.5 845.3 L394.5 845.1 L395.5 844.8 L396.5 844.5 L397.5 844.2 L398.5 843.9 L399.5 843.5 L400.5 843.1 L401.5 842.7 L402.5 842.2 L403.5 841.7 L404.5 841.2 L405.5 840.7 L406.5 840.1 L407.5 839.5 L408.5 838.9 L409.5 838.2 L410.5 837.5 L411.5 836.7 L412.5 836.0 L413.5 835.1 L414.5 834.3 L415.5 833.4 L416.5 832.5 L417.5 831.5 L418.5 830.5 L419.5 829.4 L420.5 828.3 L421.5 827.2 L422.5 826.0 L423.5 824.8 L424.5 823.5 L425.5 822.2 L426.5 820.9 L427.5 819.5 L428.5 818.1 L429.5 816.6 L430.5 815.1 L431.5 813.6 L432.5 812.0 L433.5 810.4 L434.5 808.8 L435.5 807.1 L436.5 805.4 L437.5 803.7 L438.5 802.0 L439.5 800.2 L440.5 798.4 L441.5 796.6 L442.5 794.8 L443.5 793.0 L444.5 791.1 L445.5 789.3 L446.5 787.4 L447.5 785.6 L448.5 783.7 L449.5 781.9 L450.5 780.0 L451.5 778.2 L452.5 776.4 L453.5 774.6 L454.5 772.9 L455.5 771.1 L456.5 769.4 L457.5 767.8 L458.5 766.2 L459.5 764.6 L460.5 763.0 L461.5 761.5 L462.5 760.1 L463.5 758.7 L464.5 757.4 L465.5 756.1 L466.5 754.9 L467.5 753.8 L468.5 752.7 L469.5 751.7 L470.5 750.8 L471.5 750.0 L472.5 749.2 L473.5 748.6 L474.5 748.0 L475.5 747.5 L476.5 747.0 L477.5 746.7 L478.5 746.5 L479.5 746.3 L480.5 746.3 L481.5 746.3 L482.5 746.4 L483.5 746.6 L484.5 746.9 L485.5 747.2 L486.5 747.6 L487.5 748.1 L488.5 748.6 L489.5 749.2 L490.5 749.9 L491.5 750.6 L492.5 751.4 L493.5 752.3 L494.5 753.3 L495.5 754.3 L496.5 755.3 L497.5 756.4 L498.5 757.6 L499.5 758.8 L500.5 760.1 L501.5 761.4 L502.5 762.8 L503.5 764.2 L504.5 765.7 L505.5 767.2 L506.5 768.7 L507.5 770.3 L508.5 771.9 L509.5 773.5 L510.5 775.1 L511.5 776.8 L512.5 778.5 L513.5 780.2 L514.5 781.9 L515.5 783.7 L516.5 785.4 L517.5 787.2 L518.5 789.0 L519.5 790.8 L520.5 792.5 L521.5 794.3 L522.5 796.1 L523.5 797.9 L524.5 799.6 L525.5 801.4 L526.5 803.1 L527.5 804.9 L528.5 806.6 L529.5 808.3 L530.5 810.0 L531.5 811.7 L532.5 813.3 L533.5 814.9 L534.5 816.5 L535.5 818.1 L536.5 819.6 L537.5 821.2 L538.5 822.7 L539.5 824.1 L540.5 825.6 L541.5 827.0 L542.5 828.3 L543.5 829.7 L544.5 831.0 L545.5 832.3 L546.5 833.5 L547.5 834.7 L548.5 835.9 L549.5 837.0 L550.5 838.1 L551.5 839.2 L552.5 840.3 L553.5 841.3 L554.5 842.3 L555.5 843.2 L556.5 844.1 L557.5 845.0 L558.5 845.9 L559.5 846.7 L560.5 847.5 L561.5 848.2 L562.5 849.0 L563.5 849.7 L564.5 850.3 L565.5 851.0 L566.5 851.6 L567.5 852.2 L568.5 852.8 L569.5 853.3 L570.5 853.8 L571.5 854.3 L572.5 854.8 L573.5 855.3 L574.5 855.7 L575.5 856.1 L576.5 856.5 L577.5 856.9 L578.5 857.2 L579.5 857.5 L580.5 857.9 L581.5 858.2 L582.5 858.4 L583.5 858.7 L584.5 859.0 L585.5 859.2 L586.5 859.4 L587.5 859.6 L588.5 859.8 L589.5 860.0 L590.5 860.2 L591.5 860.4 L592.5 860.5" fill="none" stroke="#00ee00" stroke-width="2.9" stroke-linejoin="round" stroke-linecap="round" />
<line x1="319.8" y1="510.4" x2="319.8" y2="606" stroke="#000" stroke-width="3.8" stroke-linecap="round" stroke-dasharray="1.3 12.0"/>
<line x1="479.8" y1="651.9" x2="479.8" y2="813" stroke="#000" stroke-width="3.8" stroke-linecap="round" stroke-dasharray="1.3 12.0"/>
<line x1="359.5" y1="547" x2="331.9705257224686" y2="575.3439557650322" stroke="#ff0000" stroke-width="3.2" stroke-linecap="butt" />
<polygon points="325.7,581.8 330.0,572.0 335.4,577.2" fill="#ff0000"/>
<line x1="529" y1="702.7" x2="494.42387347379633" y2="723.3802837142542" stroke="#22dd22" stroke-width="3.2" stroke-linecap="butt" />
<polygon points="486.7,728.0 493.4,719.6 497.2,726.1" fill="#22dd22"/>
<rect x="696" y="498" width="530.5" height="380.5" fill="none" stroke="#000" stroke-width="3.5" stroke-linejoin="round"/>
<line x1="784.4166666666666" y1="878.5" x2="784.4166666666666" y2="891.1" stroke="#000" stroke-width="3.3" stroke-linecap="round" />
<line x1="961.25" y1="878.5" x2="961.25" y2="891.1" stroke="#000" stroke-width="3.3" stroke-linecap="round" />
<line x1="1138.0833333333335" y1="878.5" x2="1138.0833333333335" y2="891.1" stroke="#000" stroke-width="3.3" stroke-linecap="round" />
<path d="M697.4 844.3 L698.4 844.3 L699.4 844.3 L700.4 844.2 L701.4 844.2 L702.4 844.2 L703.4 844.1 L704.4 844.1 L705.4 844.1 L706.4 844.0 L707.4 844.0 L708.4 843.9 L709.4 843.8 L710.4 843.8 L711.4 843.7 L712.4 843.6 L713.4 843.6 L714.4 843.5 L715.4 843.4 L716.4 843.4 L717.4 843.3 L718.4 843.2 L719.4 843.1 L720.4 843.1 L721.4 843.0 L722.4 842.9 L723.4 842.8 L724.4 842.7 L725.4 842.6 L726.4 842.5 L727.4 842.4 L728.4 842.3 L729.4 842.1 L730.4 842.0 L731.4 841.9 L732.4 841.7 L733.4 841.6 L734.4 841.4 L735.4 841.3 L736.4 841.1 L737.4 841.0 L738.4 840.8 L739.4 840.6 L740.4 840.4 L741.4 840.2 L742.4 840.0 L743.4 839.7 L744.4 839.5 L745.4 839.2 L746.4 838.9 L747.4 838.6 L748.4 838.2 L749.4 837.9 L750.4 837.5 L751.4 837.2 L752.4 836.8 L753.4 836.5 L754.4 836.1 L755.4 835.7 L756.4 835.4 L757.4 835.0 L758.4 834.7 L759.4 834.3 L760.4 834.0 L761.4 833.6 L762.4 833.3 L763.4 832.9 L764.4 832.5 L765.4 832.1 L766.4 831.8 L767.4 831.4 L768.4 831.0 L769.4 830.6 L770.4 830.2 L771.4 829.8 L772.4 829.5 L773.4 829.1 L774.4 828.7 L775.4 828.4 L776.4 828.0 L777.4 827.7 L778.4 827.4 L779.4 827.1 L780.4 826.8 L781.4 826.5 L782.4 826.2 L783.4 826.0 L784.4 825.7 L785.4 825.4 L786.4 825.2 L787.4 824.9 L788.4 824.7 L789.4 824.5 L790.4 824.2 L791.4 824.0 L792.4 823.8 L793.4 823.5 L794.4 823.3 L795.4 823.1 L796.4 822.9 L797.4 822.7 L798.4 822.4 L799.4 822.2 L800.4 822.0 L801.4 821.8 L802.4 821.6 L803.4 821.4 L804.4 821.1 L805.4 820.9 L806.4 820.7 L807.4 820.5 L808.4 820.3 L809.4 820.0 L810.4 819.9 L811.4 819.7 L812.4 819.5 L813.4 819.3 L814.4 819.2 L815.4 819.1 L816.4 819.0 L817.4 818.9 L818.4 818.8 L819.4 818.7 L820.4 818.6 L821.4 818.5 L822.4 818.5 L823.4 818.4 L824.4 818.3 L825.4 818.3 L826.4 818.2 L827.4 818.1 L828.4 818.1 L829.4 818.0 L830.4 818.0 L831.4 817.9 L832.4 817.9 L833.4 817.8 L834.4 817.8 L835.4 817.2 L836.4 815.5 L837.4 815.9 L838.4 815.7 L839.4 816.2 L840.4 816.2 L841.4 814.5 L842.4 814.7 L843.4 815.4 L844.4 814.7 L845.4 814.0 L846.4 815.4 L847.4 815.0 L848.4 814.9 L849.4 814.2 L850.4 815.0 L851.4 814.1 L852.4 814.8 L853.4 813.5 L854.4 813.4 L855.4 813.9 L856.4 813.2 L857.4 814.0 L858.4 813.6 L859.4 812.7 L860.4 813.2 L861.4 812.8 L862.4 813.5 L863.4 812.4 L864.4 812.4 L865.4 813.2 L866.4 813.7 L867.4 813.4 L868.4 812.0 L869.4 812.0 L870.4 812.6 L871.4 811.4 L872.4 810.7 L873.4 811.1 L874.4 811.1 L875.4 810.1 L876.4 809.4 L877.4 809.2 L878.4 810.2 L879.4 809.0 L880.4 809.1 L881.4 809.0 L882.4 808.9 L883.4 807.9 L884.4 808.0 L885.4 806.8 L886.4 806.7 L887.4 805.9 L888.4 806.8 L889.4 805.7 L890.4 804.8 L891.4 804.6 L892.4 804.2 L893.4 804.3 L894.4 802.4 L895.4 802.3 L896.4 802.2 L897.4 803.4 L898.4 802.0 L899.4 800.8 L900.4 800.8 L901.4 801.1 L902.4 799.2 L903.4 798.7 L904.4 799.1 L905.4 798.2 L906.4 797.8 L907.4 796.6 L908.4 797.5 L909.4 796.9 L910.4 795.7 L911.4 795.3 L912.4 793.2 L913.4 794.3 L914.4 793.3 L915.4 793.2 L916.4 792.9 L917.4 791.8 L918.4 790.5 L919.4 791.2 L920.4 790.1 L921.4 789.8 L922.4 789.2 L923.4 788.8 L924.4 787.1 L925.4 788.7 L926.4 787.6 L927.4 787.6 L928.4 787.6 L929.4 786.0 L930.4 784.3 L931.4 784.3 L932.4 783.6 L933.4 783.5 L934.4 783.3 L935.4 781.5 L936.4 782.4 L937.4 780.7 L938.4 781.2 L939.4 780.4 L940.4 779.7 L941.4 779.2 L942.4 778.4 L943.4 777.7 L944.4 776.5 L945.4 776.9 L946.4 777.4 L947.4 776.8 L948.4 775.8 L949.4 774.8 L950.4 773.3 L951.4 774.0 L952.4 772.4 L953.4 771.7 L954.4 770.9 L955.4 770.5 L956.4 769.5 L957.4 769.0 L958.4 767.7 L959.4 767.4 L960.4 768.3 L961.4 766.1 L962.4 765.3 L963.4 765.0 L964.4 764.4 L965.4 762.6 L966.4 762.3 L967.4 762.2 L968.4 761.1 L969.4 760.2 L970.4 760.3 L971.4 758.1 L972.4 757.8 L973.4 756.6 L974.4 757.0 L975.4 754.1 L976.4 754.0 L977.4 753.2 L978.4 753.1 L979.4 752.2 L980.4 751.8 L981.4 749.1 L982.4 749.6 L983.4 748.0 L984.4 746.9 L985.4 746.7 L986.4 744.9 L987.4 743.2 L988.4 743.3 L989.4 741.7 L990.4 741.2 L991.4 740.8 L992.4 739.8 L993.4 739.5 L994.4 737.3 L995.4 735.4 L996.4 734.8 L997.4 733.5 L998.4 732.1 L999.4 731.9 L1000.4 730.0 L1001.4 728.0 L1002.4 728.4 L1003.4 726.6 L1004.4 725.6 L1005.4 724.1 L1006.4 723.2 L1007.4 721.5 L1008.4 720.9 L1009.4 719.1 L1010.4 717.7 L1011.4 716.4 L1012.4 714.0 L1013.4 713.4 L1014.4 712.1 L1015.4 711.0 L1016.4 708.8 L1017.4 709.3 L1018.4 707.1 L1019.4 705.0 L1020.4 703.5 L1021.4 703.1 L1022.4 702.0 L1023.4 700.4 L1024.4 699.6 L1025.4 698.0 L1026.4 697.4 L1027.4 695.5 L1028.4 694.6 L1029.4 694.0 L1030.4 693.7 L1031.4 690.4 L1032.4 689.4 L1033.4 687.9 L1034.4 687.7 L1035.4 685.2 L1036.4 684.3 L1037.4 683.3 L1038.4 681.4 L1039.4 680.0 L1040.4 679.0 L1041.4 676.7 L1042.4 675.7 L1043.4 675.1 L1044.4 674.1 L1045.4 672.7 L1046.4 670.5 L1047.4 670.0 L1048.4 669.4 L1049.4 668.0 L1050.4 666.2 L1051.4 664.4 L1052.4 663.8 L1053.4 661.6 L1054.4 659.7 L1055.4 658.3 L1056.4 658.0 L1057.4 655.4 L1058.4 654.1 L1059.4 651.1 L1060.4 649.9 L1061.4 646.6 L1062.4 644.1 L1063.4 642.5 L1064.4 638.1 L1065.4 633.6 L1066.4 630.0 L1067.4 626.3 L1068.4 622.8 L1069.4 617.7 L1070.4 613.0 L1071.4 610.1 L1072.4 606.6 L1073.4 603.3 L1074.4 601.0 L1075.4 597.6 L1076.4 595.3 L1077.4 591.4 L1078.4 589.7 L1079.4 587.1 L1080.4 582.5 L1081.4 578.0 L1082.4 573.6 L1083.4 570.1 L1084.4 564.1 L1085.4 560.5 L1086.4 557.3 L1087.4 554.4 L1088.4 550.7 L1089.4 548.2 L1090.4 544.9 L1091.4 542.2 L1092.4 539.2 L1093.4 536.0 L1094.4 534.3 L1095.4 532.8 L1096.4 530.0 L1097.4 529.2 L1098.4 528.9 L1099.4 527.6 L1100.4 528.7 L1101.4 528.9 L1102.4 531.8 L1103.4 534.6 L1104.4 536.8 L1105.4 538.1 L1106.4 541.6 L1107.4 544.2 L1108.4 547.1 L1109.4 550.8 L1110.4 551.8 L1111.4 556.0 L1112.4 558.4 L1113.4 562.5 L1114.4 565.4 L1115.4 569.0 L1116.4 574.4 L1117.4 580.9 L1118.4 587.7 L1119.4 596.1 L1120.4 604.1 L1121.4 611.8 L1122.4 622.1 L1123.4 630.0 L1124.4 636.9 L1125.4 643.6 L1126.4 650.6 L1127.4 656.1 L1128.4 662.3 L1129.4 669.3 L1130.4 677.2 L1131.4 683.3 L1132.4 693.0 L1133.4 700.5 L1134.4 709.0 L1135.4 719.3 L1136.4 727.2 L1137.4 734.9 L1138.4 743.5 L1139.4 751.6 L1140.4 758.3 L1141.4 762.9 L1142.4 768.8 L1143.4 774.1 L1144.4 778.4 L1145.4 783.9 L1146.4 788.4 L1147.4 792.7 L1148.4 797.1 L1149.4 801.7 L1150.4 805.8 L1151.4 809.3 L1152.4 813.2 L1153.4 817.6 L1154.4 820.5 L1155.4 824.0 L1156.4 827.2 L1157.4 829.6 L1158.4 833.2 L1159.4 833.8 L1160.4 837.0 L1161.4 838.5 L1162.4 841.9 L1163.4 843.8 L1164.4 843.5 L1165.4 845.9 L1166.4 848.5 L1167.4 850.1 L1168.4 851.5 L1169.4 852.3 L1170.4 853.8 L1171.4 854.9 L1172.4 855.3 L1173.4 856.7 L1174.4 855.4 L1175.4 857.8 L1176.4 857.4 L1177.4 859.2 L1178.4 859.0 L1179.4 859.0 L1180.4 860.1 L1181.4 859.7 L1182.4 860.0 L1183.4 859.8 L1184.4 860.9 L1185.4 861.5 L1186.4 862.0 L1187.4 861.5 L1188.4 862.4 L1189.4 861.9 L1190.4 862.0 L1191.4 862.5 L1192.4 863.0 L1193.4 862.2 L1194.4 862.4 L1195.4 862.6 L1196.4 862.9 L1197.4 862.4 L1198.4 863.7 L1199.4 862.9 L1200.4 863.5 L1201.4 862.9 L1202.4 863.7 L1203.4 863.8 L1204.4 863.5 L1205.4 865.0 L1206.4 864.2 L1207.4 865.1 L1208.4 864.7 L1209.4 863.9 L1210.4 864.1 L1211.4 864.7 L1212.4 864.6 L1213.4 864.7 L1214.4 864.6 L1215.4 863.8 L1216.4 864.8 L1217.4 863.7 L1218.4 865.3 L1219.4 864.8 L1220.4 864.8 L1221.4 865.2 L1222.4 865.6 L1223.4 864.6 L1224.4 864.5" fill="none" stroke="#b8b8b8" stroke-width="2.0" stroke-linejoin="round" stroke-linecap="round" />
<path d="M697.5 845.2 L698.5 845.2 L699.5 845.2 L700.5 845.2 L701.5 845.2 L702.5 845.2 L703.5 845.2 L704.5 845.2 L705.5 845.2 L706.5 845.2 L707.5 845.2 L708.5 845.2 L709.5 845.2 L710.5 845.2 L711.5 845.2 L712.5 845.2 L713.5 845.2 L714.5 845.2 L715.5 845.2 L716.5 845.2 L717.5 845.2 L718.5 845.2 L719.5 845.2 L720.5 845.2 L721.5 845.2 L722.5 845.2 L723.5 845.2 L724.5 845.2 L725.5 845.2 L726.5 845.2 L727.5 845.2 L728.5 845.2 L729.5 845.2 L730.5 845.2 L731.5 845.2 L732.5 845.2 L733.5 845.2 L734.5 845.2 L735.5 845.2 L736.5 845.2 L737.5 845.2 L738.5 845.2 L739.5 845.2 L740.5 845.2 L741.5 845.2 L742.5 845.2 L743.5 845.2 L744.5 845.2 L745.5 845.2 L746.5 845.2 L747.5 845.2 L748.5 845.2 L749.5 845.2 L750.5 845.2 L751.5 845.2 L752.5 845.2 L753.5 845.2 L754.5 845.2 L755.5 845.2 L756.5 845.2 L757.5 845.2 L758.5 845.1 L759.5 845.1 L760.5 845.1 L761.5 845.1 L762.5 845.1 L763.5 845.1 L764.5 845.1 L765.5 845.1 L766.5 845.1 L767.5 845.1 L768.5 845.1 L769.5 845.1 L770.5 845.1 L771.5 845.1 L772.5 845.1 L773.5 845.0 L774.5 845.0 L775.5 845.0 L776.5 845.0 L777.5 845.0 L778.5 845.0 L779.5 845.0 L780.5 844.9 L781.5 844.9 L782.5 844.9 L783.5 844.9 L784.5 844.9 L785.5 844.8 L786.5 844.8 L787.5 844.8 L788.5 844.8 L789.5 844.7 L790.5 844.7 L791.5 844.7 L792.5 844.6 L793.5 844.6 L794.5 844.5 L795.5 844.5 L796.5 844.5 L797.5 844.4 L798.5 844.4 L799.5 844.3 L800.5 844.3 L801.5 844.2 L802.5 844.1 L803.5 844.1 L804.5 844.0 L805.5 843.9 L806.5 843.8 L807.5 843.8 L808.5 843.7 L809.5 843.6 L810.5 843.5 L811.5 843.4 L812.5 843.3 L813.5 843.2 L814.5 843.1 L815.5 843.0 L816.5 842.9 L817.5 842.7 L818.5 842.6 L819.5 842.5 L820.5 842.4 L821.5 842.2 L822.5 842.1 L823.5 842.0 L824.5 841.8 L825.5 841.7 L826.5 841.5 L827.5 841.3 L828.5 841.2 L829.5 841.0 L830.5 840.8 L831.5 840.6 L832.5 840.4 L833.5 840.2 L834.5 840.0 L835.5 839.8 L836.5 839.6 L837.5 839.4 L838.5 839.3 L839.5 839.2 L840.5 839.0 L841.5 838.8 L842.5 838.7 L843.5 838.4 L844.5 838.2 L845.5 837.9 L846.5 837.5 L847.5 837.2 L848.5 836.9 L849.5 836.5 L850.5 836.1 L851.5 835.7 L852.5 835.3 L853.5 834.9 L854.5 834.5 L855.5 834.1 L856.5 833.7 L857.5 833.2 L858.5 832.7 L859.5 832.3 L860.5 831.8 L861.5 831.3 L862.5 830.8 L863.5 830.3 L864.5 829.7 L865.5 829.2 L866.5 828.7 L867.5 828.1 L868.5 827.5 L869.5 827.0 L870.5 826.4 L871.5 825.8 L872.5 825.2 L873.5 824.6 L874.5 824.0 L875.5 823.4 L876.5 822.7 L877.5 822.1 L878.5 821.5 L879.5 820.8 L880.5 820.2 L881.5 819.6 L882.5 818.9 L883.5 818.3 L884.5 817.6 L885.5 817.0 L886.5 816.3 L887.5 815.7 L888.5 815.0 L889.5 814.4 L890.5 813.7 L891.5 813.1 L892.5 812.4 L893.5 811.8 L894.5 811.2 L895.5 810.6 L896.5 809.9 L897.5 809.3 L898.5 808.7 L899.5 808.1 L900.5 807.6 L901.5 807.0 L902.5 806.4 L903.5 805.9 L904.5 805.3 L905.5 804.8 L906.5 804.3 L907.5 803.8 L908.5 803.3 L909.5 802.9 L910.5 802.4 L911.5 802.0 L912.5 801.6 L913.5 801.2 L914.5 800.8 L915.5 800.5 L916.5 800.1 L917.5 799.8 L918.5 799.5 L919.5 799.3 L920.5 799.0 L921.5 798.8 L922.5 798.6 L923.5 798.4 L924.5 798.2 L925.5 798.1 L926.5 798.0 L927.5 797.9 L928.5 797.8 L929.5 797.8 L930.5 797.8 L931.5 797.8 L932.5 797.8 L933.5 797.9 L934.5 798.0 L935.5 798.1 L936.5 798.2 L937.5 798.3 L938.5 798.5 L939.5 798.7 L940.5 798.9 L941.5 799.1 L942.5 799.4 L943.5 799.7 L944.5 800.0 L945.5 800.3 L946.5 800.6 L947.5 801.0 L948.5 801.4 L949.5 801.8 L950.5 802.2 L951.5 802.6 L952.5 803.1 L953.5 803.6 L954.5 804.1 L955.5 804.6 L956.5 805.1 L957.5 805.6 L958.5 806.2 L959.5 806.7 L960.5 807.3 L961.5 807.9 L962.5 808.5 L963.5 809.1 L964.5 809.7 L965.5 810.4 L966.5 811.0 L967.5 811.7 L968.5 812.4 L969.5 813.0 L970.5 813.7 L971.5 814.4 L972.5 815.1 L973.5 815.8 L974.5 816.5 L975.5 817.2 L976.5 817.9 L977.5 818.6 L978.5 819.3 L979.5 820.0 L980.5 820.7 L981.5 821.4 L982.5 822.2 L983.5 822.9 L984.5 823.6 L985.5 824.3 L986.5 825.0 L987.5 825.7 L988.5 826.4 L989.5 827.1 L990.5 827.8 L991.5 828.4 L992.5 829.1 L993.5 829.8 L994.5 830.5 L995.5 831.1 L996.5 831.8 L997.5 832.4 L998.5 833.1 L999.5 833.7 L1000.5 834.3 L1001.5 834.9 L1002.5 835.5 L1003.5 836.1 L1004.5 836.7 L1005.5 837.3 L1006.5 837.9 L1007.5 838.4 L1008.5 839.0 L1009.5 839.5 L1010.5 840.1 L1011.5 840.6 L1012.5 841.1 L1013.5 841.6 L1014.5 842.1 L1015.5 842.6 L1016.5 843.1 L1017.5 843.5 L1018.5 844.0 L1019.5 844.4 L1020.5 844.8 L1021.5 845.3 L1022.5 845.7 L1023.5 846.1 L1024.5 846.5 L1025.5 846.9 L1026.5 847.3 L1027.5 847.6 L1028.5 848.0 L1029.5 848.3 L1030.5 848.7 L1031.5 849.0 L1032.5 849.3 L1033.5 849.6 L1034.5 849.9 L1035.5 850.2 L1036.5 850.5 L1037.5 850.8 L1038.5 851.1 L1039.5 851.4 L1040.5 851.6 L1041.5 851.9 L1042.5 852.1 L1043.5 852.4 L1044.5 852.6 L1045.5 852.8 L1046.5 853.1 L1047.5 853.3 L1048.5 853.5 L1049.5 853.7 L1050.5 853.9 L1051.5 854.1 L1052.5 854.3 L1053.5 854.5 L1054.5 854.7 L1055.5 854.8 L1056.5 855.0 L1057.5 855.2 L1058.5 855.4 L1059.5 855.5 L1060.5 855.7 L1061.5 855.9 L1062.5 856.0 L1063.5 856.2 L1064.5 856.3 L1065.5 856.5 L1066.5 856.6 L1067.5 856.8 L1068.5 856.9 L1069.5 857.1 L1070.5 857.2 L1071.5 857.4 L1072.5 857.5 L1073.5 857.7 L1074.5 857.8 L1075.5 857.9 L1076.5 858.1 L1077.5 858.2 L1078.5 858.4 L1079.5 858.5 L1080.5 858.7 L1081.5 858.8 L1082.5 858.9 L1083.5 859.1 L1084.5 859.2 L1085.5 859.4 L1086.5 859.5 L1087.5 859.7 L1088.5 859.8 L1089.5 860.0 L1090.5 860.1 L1091.5 860.3 L1092.5 860.4 L1093.5 860.6 L1094.5 860.7 L1095.5 860.9 L1096.5 861.1 L1097.5 861.3 L1098.5 861.5 L1099.5 861.8 L1100.5 862.0 L1101.5 862.3 L1102.5 862.5 L1103.5 862.8 L1104.5 863.1 L1105.5 863.4 L1106.5 863.6 L1107.5 863.9 L1108.5 864.2 L1109.5 864.5 L1110.5 864.7 L1111.5 865.0 L1112.5 865.2 L1113.5 865.5 L1114.5 865.7 L1115.5 865.9 L1116.5 866.1 L1117.5 866.3 L1118.5 866.5 L1119.5 866.6 L1120.5 866.7 L1121.5 866.8 L1122.5 866.9 L1123.5 867.0 L1124.5 867.1 L1125.5 867.2 L1126.5 867.2 L1127.5 867.3 L1128.5 867.4 L1129.5 867.4 L1130.5 867.5 L1131.5 867.6 L1132.5 867.6 L1133.5 867.7 L1134.5 867.7 L1135.5 867.8 L1136.5 867.9 L1137.5 867.9 L1138.5 868.0 L1139.5 868.0 L1140.5 868.1 L1141.5 868.1 L1142.5 868.2 L1143.5 868.2 L1144.5 868.2 L1145.5 868.3 L1146.5 868.3 L1147.5 868.4 L1148.5 868.4 L1149.5 868.4 L1150.5 868.5 L1151.5 868.5 L1152.5 868.6 L1153.5 868.6 L1154.5 868.6 L1155.5 868.7 L1156.5 868.7 L1157.5 868.7 L1158.5 868.8 L1159.5 868.8 L1160.5 868.8 L1161.5 868.9 L1162.5 868.9 L1163.5 868.9 L1164.5 869.0 L1165.5 869.0 L1166.5 869.0 L1167.5 869.1 L1168.5 869.1 L1169.5 869.1 L1170.5 869.2 L1171.5 869.2 L1172.5 869.2 L1173.5 869.3 L1174.5 869.3 L1175.5 869.3 L1176.5 869.4 L1177.5 869.4 L1178.5 869.4 L1179.5 869.5 L1180.5 869.5 L1181.5 869.6 L1182.5 869.6 L1183.5 869.6 L1184.5 869.7 L1185.5 869.7 L1186.5 869.7 L1187.5 869.8 L1188.5 869.8 L1189.5 869.8 L1190.5 869.9 L1191.5 869.9 L1192.5 869.9 L1193.5 870.0 L1194.5 870.0 L1195.5 870.1 L1196.5 870.1 L1197.5 870.1 L1198.5 870.2 L1199.5 870.2 L1200.5 870.2 L1201.5 870.3 L1202.5 870.3 L1203.5 870.3 L1204.5 870.4 L1205.5 870.4 L1206.5 870.4 L1207.5 870.4 L1208.5 870.5 L1209.5 870.5 L1210.5 870.5 L1211.5 870.6 L1212.5 870.6 L1213.5 870.6 L1214.5 870.7 L1215.5 870.7 L1216.5 870.7 L1217.5 870.7 L1218.5 870.8 L1219.5 870.8 L1220.5 870.8 L1221.5 870.9 L1222.5 870.9 L1223.5 870.9 L1224.5 870.9" fill="none" stroke="#ff00ff" stroke-width="3.0" stroke-linejoin="round" stroke-linecap="round" />
<path d="M697.5 844.6 L698.5 844.6 L699.5 844.6 L700.5 844.5 L701.5 844.5 L702.5 844.5 L703.5 844.4 L704.5 844.4 L705.5 844.3 L706.5 844.3 L707.5 844.2 L708.5 844.2 L709.5 844.1 L710.5 844.1 L711.5 844.0 L712.5 843.9 L713.5 843.9 L714.5 843.8 L715.5 843.7 L716.5 843.7 L717.5 843.6 L718.5 843.5 L719.5 843.4 L720.5 843.4 L721.5 843.3 L722.5 843.2 L723.5 843.1 L724.5 843.0 L725.5 842.9 L726.5 842.8 L727.5 842.7 L728.5 842.6 L729.5 842.4 L730.5 842.3 L731.5 842.2 L732.5 842.0 L733.5 841.9 L734.5 841.7 L735.5 841.6 L736.5 841.4 L737.5 841.2 L738.5 841.1 L739.5 840.9 L740.5 840.7 L741.5 840.5 L742.5 840.3 L743.5 840.0 L744.5 839.7 L745.5 839.5 L746.5 839.1 L747.5 838.8 L748.5 838.5 L749.5 838.2 L750.5 837.8 L751.5 837.5 L752.5 837.1 L753.5 836.7 L754.5 836.4 L755.5 836.0 L756.5 835.6 L757.5 835.3 L758.5 834.9 L759.5 834.6 L760.5 834.2 L761.5 833.9 L762.5 833.5 L763.5 833.2 L764.5 832.8 L765.5 832.4 L766.5 832.0 L767.5 831.6 L768.5 831.3 L769.5 831.0 L770.5 830.7 L771.5 830.5 L772.5 830.2 L773.5 829.9 L774.5 829.7 L775.5 829.4 L776.5 829.1 L777.5 828.9 L778.5 828.6 L779.5 828.4 L780.5 828.1 L781.5 827.9 L782.5 827.6 L783.5 827.4 L784.5 827.1 L785.5 826.9 L786.5 826.6 L787.5 826.4 L788.5 826.2 L789.5 825.9 L790.5 825.7 L791.5 825.5 L792.5 825.3 L793.5 825.1 L794.5 824.9 L795.5 824.7 L796.5 824.5 L797.5 824.3 L798.5 824.1 L799.5 823.9 L800.5 823.7 L801.5 823.6 L802.5 823.4 L803.5 823.3 L804.5 823.1 L805.5 823.0 L806.5 822.8 L807.5 822.7 L808.5 822.6 L809.5 822.5 L810.5 822.3 L811.5 822.2 L812.5 822.2 L813.5 822.1 L814.5 822.0 L815.5 821.9 L816.5 821.9 L817.5 821.8 L818.5 821.8 L819.5 821.8 L820.5 821.8 L821.5 821.8 L822.5 821.8 L823.5 821.8 L824.5 821.8 L825.5 821.9 L826.5 821.9 L827.5 822.0 L828.5 822.1 L829.5 822.2 L830.5 822.3 L831.5 822.4 L832.5 822.5 L833.5 822.7 L834.5 822.8 L835.5 823.0 L836.5 823.2 L837.5 823.5 L838.5 823.8 L839.5 824.1 L840.5 824.4 L841.5 824.8 L842.5 825.1 L843.5 825.4 L844.5 825.7 L845.5 826.0 L846.5 826.3 L847.5 826.5 L848.5 826.8 L849.5 827.1 L850.5 827.4 L851.5 827.7 L852.5 828.0 L853.5 828.3 L854.5 828.6 L855.5 829.0 L856.5 829.3 L857.5 829.6 L858.5 829.9 L859.5 830.3 L860.5 830.6 L861.5 830.9 L862.5 831.3 L863.5 831.6 L864.5 831.9 L865.5 832.3 L866.5 832.6 L867.5 833.0 L868.5 833.3 L869.5 833.6 L870.5 834.0 L871.5 834.3 L872.5 834.7 L873.5 835.0 L874.5 835.3 L875.5 835.7 L876.5 836.0 L877.5 836.3 L878.5 836.6 L879.5 837.0 L880.5 837.3 L881.5 837.6 L882.5 837.9 L883.5 838.2 L884.5 838.5 L885.5 838.8 L886.5 839.1 L887.5 839.4 L888.5 839.7 L889.5 840.0 L890.5 840.3 L891.5 840.5 L892.5 840.8 L893.5 841.1 L894.5 841.3 L895.5 841.6 L896.5 841.8 L897.5 842.1 L898.5 842.3 L899.5 842.5 L900.5 842.8 L901.5 843.0 L902.5 843.2 L903.5 843.4 L904.5 843.6 L905.5 843.8 L906.5 844.0 L907.5 844.2 L908.5 844.4 L909.5 844.6 L910.5 844.8 L911.5 844.9 L912.5 845.1 L913.5 845.3 L914.5 845.4 L915.5 845.6 L916.5 845.7 L917.5 845.9 L918.5 846.0 L919.5 846.2 L920.5 846.3 L921.5 846.4 L922.5 846.5 L923.5 846.7 L924.5 846.8 L925.5 846.9 L926.5 847.0 L927.5 847.1 L928.5 847.2 L929.5 847.3 L930.5 847.4 L931.5 847.5 L932.5 847.6 L933.5 847.7 L934.5 847.8 L935.5 847.9 L936.5 847.9 L937.5 848.0 L938.5 848.1 L939.5 848.2 L940.5 848.2 L941.5 848.3 L942.5 848.4 L943.5 848.5 L944.5 848.5 L945.5 848.6 L946.5 848.6 L947.5 848.7 L948.5 848.8 L949.5 848.8 L950.5 848.9 L951.5 849.0 L952.5 849.0 L953.5 849.1 L954.5 849.1 L955.5 849.2 L956.5 849.2 L957.5 849.3 L958.5 849.3 L959.5 849.4 L960.5 849.5 L961.5 849.5 L962.5 849.6 L963.5 849.6 L964.5 849.7 L965.5 849.7 L966.5 849.8 L967.5 849.8 L968.5 849.9 L969.5 850.0 L970.5 850.0 L971.5 850.1 L972.5 850.1 L973.5 850.2 L974.5 850.3 L975.5 850.3 L976.5 850.4 L977.5 850.4 L978.5 850.5 L979.5 850.6 L980.5 850.6 L981.5 850.7 L982.5 850.8 L983.5 850.8 L984.5 850.9 L985.5 851.0 L986.5 851.0 L987.5 851.1 L988.5 851.2 L989.5 851.3 L990.5 851.3 L991.5 851.4 L992.5 851.5 L993.5 851.5 L994.5 851.6 L995.5 851.7 L996.5 851.8 L997.5 851.8 L998.5 851.9 L999.5 852.0 L1000.5 852.1 L1001.5 852.1 L1002.5 852.2 L1003.5 852.3 L1004.5 852.4 L1005.5 852.5 L1006.5 852.5 L1007.5 852.6 L1008.5 852.7 L1009.5 852.8 L1010.5 852.8 L1011.5 852.9 L1012.5 853.0 L1013.5 853.1 L1014.5 853.2 L1015.5 853.3 L1016.5 853.3 L1017.5 853.4 L1018.5 853.5 L1019.5 853.6 L1020.5 853.7 L1021.5 853.7 L1022.5 853.8 L1023.5 853.9 L1024.5 854.0 L1025.5 854.1 L1026.5 854.1 L1027.5 854.2 L1028.5 854.3 L1029.5 854.4 L1030.5 854.5 L1031.5 854.6 L1032.5 854.6 L1033.5 854.7 L1034.5 854.8 L1035.5 854.9 L1036.5 855.0 L1037.5 855.0 L1038.5 855.1 L1039.5 855.2 L1040.5 855.3 L1041.5 855.4 L1042.5 855.4 L1043.5 855.5 L1044.5 855.6 L1045.5 855.7 L1046.5 855.8 L1047.5 855.9 L1048.5 855.9 L1049.5 856.0 L1050.5 856.1 L1051.5 856.2 L1052.5 856.3 L1053.5 856.4 L1054.5 856.4 L1055.5 856.5 L1056.5 856.6 L1057.5 856.7 L1058.5 856.8 L1059.5 856.9 L1060.5 857.0 L1061.5 857.1 L1062.5 857.2 L1063.5 857.3 L1064.5 857.3 L1065.5 857.4 L1066.5 857.5 L1067.5 857.6 L1068.5 857.7 L1069.5 857.8 L1070.5 857.9 L1071.5 858.0 L1072.5 858.1 L1073.5 858.2 L1074.5 858.4 L1075.5 858.5 L1076.5 858.6 L1077.5 858.7 L1078.5 858.8 L1079.5 858.9 L1080.5 859.0 L1081.5 859.1 L1082.5 859.3 L1083.5 859.4 L1084.5 859.5 L1085.5 859.6 L1086.5 859.8 L1087.5 859.9 L1088.5 860.0 L1089.5 860.2 L1090.5 860.3 L1091.5 860.4 L1092.5 860.6 L1093.5 860.7 L1094.5 860.9 L1095.5 861.0 L1096.5 861.2 L1097.5 861.4 L1098.5 861.7 L1099.5 861.9 L1100.5 862.1 L1101.5 862.4 L1102.5 862.6 L1103.5 862.9 L1104.5 863.2 L1105.5 863.4 L1106.5 863.7 L1107.5 864.0 L1108.5 864.2 L1109.5 864.5 L1110.5 864.8 L1111.5 865.0 L1112.5 865.3 L1113.5 865.5 L1114.5 865.7 L1115.5 865.9 L1116.5 866.1 L1117.5 866.3 L1118.5 866.5 L1119.5 866.6 L1120.5 866.8 L1121.5 866.9 L1122.5 866.9 L1123.5 867.0 L1124.5 867.1 L1125.5 867.2 L1126.5 867.2 L1127.5 867.3 L1128.5 867.4 L1129.5 867.4 L1130.5 867.5 L1131.5 867.6 L1132.5 867.6 L1133.5 867.7 L1134.5 867.7 L1135.5 867.8 L1136.5 867.9 L1137.5 867.9 L1138.5 868.0 L1139.5 868.0 L1140.5 868.1 L1141.5 868.1 L1142.5 868.2 L1143.5 868.2 L1144.5 868.2 L1145.5 868.3 L1146.5 868.3 L1147.5 868.4 L1148.5 868.4 L1149.5 868.5 L1150.5 868.5 L1151.5 868.5 L1152.5 868.6 L1153.5 868.6 L1154.5 868.6 L1155.5 868.7 L1156.5 868.7 L1157.5 868.7 L1158.5 868.8 L1159.5 868.8 L1160.5 868.8 L1161.5 868.9 L1162.5 868.9 L1163.5 868.9 L1164.5 869.0 L1165.5 869.0 L1166.5 869.0 L1167.5 869.1 L1168.5 869.1 L1169.5 869.1 L1170.5 869.2 L1171.5 869.2 L1172.5 869.2 L1173.5 869.3 L1174.5 869.3 L1175.5 869.3 L1176.5 869.4 L1177.5 869.4 L1178.5 869.4 L1179.5 869.5 L1180.5 869.5 L1181.5 869.6 L1182.5 869.6 L1183.5 869.6 L1184.5 869.7 L1185.5 869.7 L1186.5 869.7 L1187.5 869.8 L1188.5 869.8 L1189.5 869.8 L1190.5 869.9 L1191.5 869.9 L1192.5 870.0 L1193.5 870.0 L1194.5 870.0 L1195.5 870.1 L1196.5 870.1 L1197.5 870.1 L1198.5 870.2 L1199.5 870.2 L1200.5 870.2 L1201.5 870.3 L1202.5 870.3 L1203.5 870.3 L1204.5 870.4 L1205.5 870.4 L1206.5 870.4 L1207.5 870.4 L1208.5 870.5 L1209.5 870.5 L1210.5 870.5 L1211.5 870.6 L1212.5 870.6 L1213.5 870.6 L1214.5 870.7 L1215.5 870.7 L1216.5 870.7 L1217.5 870.7 L1218.5 870.8 L1219.5 870.8 L1220.5 870.8 L1221.5 870.9 L1222.5 870.9 L1223.5 870.9 L1224.5 870.9" fill="none" stroke="#008000" stroke-width="3.0" stroke-linejoin="round" stroke-linecap="round" />
<path d="M697.5 845.2 L698.5 845.2 L699.5 845.2 L700.5 845.2 L701.5 845.2 L702.5 845.2 L703.5 845.2 L704.5 845.2 L705.5 845.2 L706.5 845.2 L707.5 845.2 L708.5 845.2 L709.5 845.2 L710.5 845.2 L711.5 845.2 L712.5 845.2 L713.5 845.2 L714.5 845.2 L715.5 845.2 L716.5 845.2 L717.5 845.2 L718.5 845.2 L719.5 845.2 L720.5 845.2 L721.5 845.2 L722.5 845.2 L723.5 845.2 L724.5 845.2 L725.5 845.2 L726.5 845.2 L727.5 845.2 L728.5 845.2 L729.5 845.2 L730.5 845.2 L731.5 845.2 L732.5 845.2 L733.5 845.2 L734.5 845.2 L735.5 845.2 L736.5 845.2 L737.5 845.2 L738.5 845.2 L739.5 845.2 L740.5 845.2 L741.5 845.2 L742.5 845.2 L743.5 845.2 L744.5 845.2 L745.5 845.2 L746.5 845.2 L747.5 845.2 L748.5 845.2 L749.5 845.2 L750.5 845.2 L751.5 845.2 L752.5 845.2 L753.5 845.2 L754.5 845.2 L755.5 845.2 L756.5 845.2 L757.5 845.2 L758.5 845.2 L759.5 845.2 L760.5 845.2 L761.5 845.2 L762.5 845.2 L763.5 845.2 L764.5 845.2 L765.5 845.2 L766.5 845.2 L767.5 845.2 L768.5 845.2 L769.5 845.2 L770.5 845.2 L771.5 845.2 L772.5 845.2 L773.5 845.2 L774.5 845.2 L775.5 845.2 L776.5 845.2 L777.5 845.2 L778.5 845.2 L779.5 845.2 L780.5 845.2 L781.5 845.2 L782.5 845.2 L783.5 845.2 L784.5 845.2 L785.5 845.2 L786.5 845.2 L787.5 845.2 L788.5 845.2 L789.5 845.2 L790.5 845.2 L791.5 845.2 L792.5 845.2 L793.5 845.2 L794.5 845.2 L795.5 845.2 L796.5 845.2 L797.5 845.2 L798.5 845.2 L799.5 845.2 L800.5 845.2 L801.5 845.2 L802.5 845.2 L803.5 845.2 L804.5 845.2 L805.5 845.2 L806.5 845.2 L807.5 845.2 L808.5 845.2 L809.5 845.2 L810.5 845.2 L811.5 845.2 L812.5 845.2 L813.5 845.2 L814.5 845.2 L815.5 845.2 L816.5 845.2 L817.5 845.2 L818.5 845.2 L819.5 845.3 L820.5 845.3 L821.5 845.3 L822.5 845.3 L823.5 845.3 L824.5 845.4 L825.5 845.4 L826.5 845.4 L827.5 845.5 L828.5 845.5 L829.5 845.5 L830.5 845.6 L831.5 845.6 L832.5 845.7 L833.5 845.7 L834.5 845.8 L835.5 845.8 L836.5 845.9 L837.5 846.0 L838.5 846.1 L839.5 846.3 L840.5 846.4 L841.5 846.6 L842.5 846.7 L843.5 846.9 L844.5 847.0 L845.5 847.0 L846.5 847.0 L847.5 847.1 L848.5 847.1 L849.5 847.2 L850.5 847.2 L851.5 847.3 L852.5 847.3 L853.5 847.3 L854.5 847.4 L855.5 847.4 L856.5 847.4 L857.5 847.5 L858.5 847.5 L859.5 847.5 L860.5 847.5 L861.5 847.6 L862.5 847.6 L863.5 847.6 L864.5 847.6 L865.5 847.7 L866.5 847.7 L867.5 847.7 L868.5 847.7 L869.5 847.7 L870.5 847.7 L871.5 847.7 L872.5 847.7 L873.5 847.8 L874.5 847.8 L875.5 847.8 L876.5 847.8 L877.5 847.8 L878.5 847.7 L879.5 847.7 L880.5 847.7 L881.5 847.7 L882.5 847.7 L883.5 847.7 L884.5 847.7 L885.5 847.6 L886.5 847.6 L887.5 847.6 L888.5 847.5 L889.5 847.5 L890.5 847.5 L891.5 847.4 L892.5 847.4 L893.5 847.3 L894.5 847.2 L895.5 847.2 L896.5 847.1 L897.5 847.0 L898.5 847.0 L899.5 846.9 L900.5 846.8 L901.5 846.7 L902.5 846.6 L903.5 846.5 L904.5 846.3 L905.5 846.2 L906.5 846.1 L907.5 845.9 L908.5 845.8 L909.5 845.6 L910.5 845.4 L911.5 845.3 L912.5 845.1 L913.5 844.9 L914.5 844.7 L915.5 844.4 L916.5 844.2 L917.5 843.9 L918.5 843.7 L919.5 843.4 L920.5 843.1 L921.5 842.8 L922.5 842.5 L923.5 842.2 L924.5 841.8 L925.5 841.5 L926.5 841.1 L927.5 840.7 L928.5 840.3 L929.5 839.9 L930.5 839.4 L931.5 839.0 L932.5 838.5 L933.5 838.0 L934.5 837.5 L935.5 836.9 L936.5 836.4 L937.5 835.8 L938.5 835.2 L939.5 834.5 L940.5 833.9 L941.5 833.2 L942.5 832.5 L943.5 831.8 L944.5 831.1 L945.5 830.3 L946.5 829.5 L947.5 828.7 L948.5 827.8 L949.5 827.0 L950.5 826.1 L951.5 825.2 L952.5 824.2 L953.5 823.2 L954.5 822.2 L955.5 821.2 L956.5 820.2 L957.5 819.1 L958.5 818.0 L959.5 816.9 L960.5 815.7 L961.5 814.5 L962.5 813.3 L963.5 812.1 L964.5 810.8 L965.5 809.6 L966.5 808.3 L967.5 806.9 L968.5 805.6 L969.5 804.2 L970.5 802.8 L971.5 801.4 L972.5 800.0 L973.5 798.5 L974.5 797.1 L975.5 795.6 L976.5 794.1 L977.5 792.6 L978.5 791.0 L979.5 789.5 L980.5 787.9 L981.5 786.4 L982.5 784.8 L983.5 783.2 L984.5 781.6 L985.5 780.0 L986.5 778.4 L987.5 776.8 L988.5 775.2 L989.5 773.6 L990.5 772.0 L991.5 770.4 L992.5 768.8 L993.5 767.2 L994.5 765.6 L995.5 764.0 L996.5 762.4 L997.5 760.9 L998.5 759.3 L999.5 757.8 L1000.5 756.3 L1001.5 754.8 L1002.5 753.4 L1003.5 751.9 L1004.5 750.5 L1005.5 749.1 L1006.5 747.8 L1007.5 746.5 L1008.5 745.2 L1009.5 743.9 L1010.5 742.7 L1011.5 741.5 L1012.5 740.4 L1013.5 739.3 L1014.5 738.2 L1015.5 737.2 L1016.5 736.2 L1017.5 735.3 L1018.5 734.4 L1019.5 733.6 L1020.5 732.8 L1021.5 732.1 L1022.5 731.4 L1023.5 730.8 L1024.5 730.2 L1025.5 729.7 L1026.5 729.3 L1027.5 728.9 L1028.5 728.5 L1029.5 728.3 L1030.5 728.0 L1031.5 727.9 L1032.5 727.8 L1033.5 727.7 L1034.5 727.8 L1035.5 727.8 L1036.5 728.0 L1037.5 728.2 L1038.5 728.5 L1039.5 728.9 L1040.5 729.3 L1041.5 729.8 L1042.5 730.4 L1043.5 731.0 L1044.5 731.7 L1045.5 732.5 L1046.5 733.4 L1047.5 734.3 L1048.5 735.2 L1049.5 736.3 L1050.5 737.4 L1051.5 738.5 L1052.5 739.7 L1053.5 741.0 L1054.5 742.3 L1055.5 743.6 L1056.5 745.0 L1057.5 746.5 L1058.5 748.0 L1059.5 749.5 L1060.5 751.1 L1061.5 752.8 L1062.5 754.4 L1063.5 756.1 L1064.5 757.8 L1065.5 759.6 L1066.5 761.4 L1067.5 763.2 L1068.5 765.0 L1069.5 766.9 L1070.5 768.8 L1071.5 770.6 L1072.5 772.5 L1073.5 774.5 L1074.5 776.4 L1075.5 778.3 L1076.5 780.2 L1077.5 782.2 L1078.5 784.1 L1079.5 786.1 L1080.5 788.0 L1081.5 789.9 L1082.5 791.8 L1083.5 793.8 L1084.5 795.7 L1085.5 797.6 L1086.5 799.4 L1087.5 801.3 L1088.5 803.2 L1089.5 805.0 L1090.5 806.8 L1091.5 808.6 L1092.5 810.4 L1093.5 812.1 L1094.5 813.9 L1095.5 815.6 L1096.5 817.3 L1097.5 819.0 L1098.5 820.7 L1099.5 822.4 L1100.5 824.0 L1101.5 825.7 L1102.5 827.3 L1103.5 828.9 L1104.5 830.4 L1105.5 832.0 L1106.5 833.5 L1107.5 834.9 L1108.5 836.4 L1109.5 837.8 L1110.5 839.1 L1111.5 840.5 L1112.5 841.7 L1113.5 843.0 L1114.5 844.2 L1115.5 845.3 L1116.5 846.5 L1117.5 847.5 L1118.5 848.5 L1119.5 849.5 L1120.5 850.4 L1121.5 851.3 L1122.5 852.1 L1123.5 852.9 L1124.5 853.7 L1125.5 854.4 L1126.5 855.1 L1127.5 855.8 L1128.5 856.5 L1129.5 857.1 L1130.5 857.7 L1131.5 858.3 L1132.5 858.8 L1133.5 859.4 L1134.5 859.9 L1135.5 860.4 L1136.5 860.8 L1137.5 861.3 L1138.5 861.7 L1139.5 862.1 L1140.5 862.5 L1141.5 862.9 L1142.5 863.2 L1143.5 863.5 L1144.5 863.9 L1145.5 864.2 L1146.5 864.5 L1147.5 864.7 L1148.5 865.0 L1149.5 865.3 L1150.5 865.5 L1151.5 865.7 L1152.5 865.9 L1153.5 866.1 L1154.5 866.3 L1155.5 866.5 L1156.5 866.7 L1157.5 866.9 L1158.5 867.0 L1159.5 867.2 L1160.5 867.3 L1161.5 867.5 L1162.5 867.6 L1163.5 867.7 L1164.5 867.8 L1165.5 867.9 L1166.5 868.1 L1167.5 868.2 L1168.5 868.3 L1169.5 868.3 L1170.5 868.4 L1171.5 868.5 L1172.5 868.6 L1173.5 868.7 L1174.5 868.8 L1175.5 868.8 L1176.5 868.9 L1177.5 869.0 L1178.5 869.1 L1179.5 869.1 L1180.5 869.2 L1181.5 869.2 L1182.5 869.3 L1183.5 869.4 L1184.5 869.4 L1185.5 869.5 L1186.5 869.5 L1187.5 869.6 L1188.5 869.6 L1189.5 869.7 L1190.5 869.7 L1191.5 869.8 L1192.5 869.8 L1193.5 869.9 L1194.5 869.9 L1195.5 870.0 L1196.5 870.0 L1197.5 870.0 L1198.5 870.1 L1199.5 870.1 L1200.5 870.2 L1201.5 870.2 L1202.5 870.2 L1203.5 870.3 L1204.5 870.3 L1205.5 870.3 L1206.5 870.4 L1207.5 870.4 L1208.5 870.5 L1209.5 870.5 L1210.5 870.5 L1211.5 870.6 L1212.5 870.6 L1213.5 870.6 L1214.5 870.6 L1215.5 870.7 L1216.5 870.7 L1217.5 870.7 L1218.5 870.8 L1219.5 870.8 L1220.5 870.8 L1221.5 870.9 L1222.5 870.9 L1223.5 870.9 L1224.5 870.9" fill="none" stroke="#0000ee" stroke-width="3.0" stroke-linejoin="round" stroke-linecap="round" />
<path d="M697.5 845.2 L698.5 845.2 L699.5 845.2 L700.5 845.2 L701.5 845.2 L702.5 845.2 L703.5 845.2 L704.5 845.2 L705.5 845.2 L706.5 845.2 L707.5 845.2 L708.5 845.2 L709.5 845.2 L710.5 845.2 L711.5 845.2 L712.5 845.2 L713.5 845.2 L714.5 845.2 L715.5 845.2 L716.5 845.2 L717.5 845.2 L718.5 845.2 L719.5 845.2 L720.5 845.2 L721.5 845.2 L722.5 845.2 L723.5 845.2 L724.5 845.2 L725.5 845.2 L726.5 845.2 L727.5 845.2 L728.5 845.2 L729.5 845.2 L730.5 845.2 L731.5 845.2 L732.5 845.2 L733.5 845.2 L734.5 845.2 L735.5 845.2 L736.5 845.2 L737.5 845.2 L738.5 845.2 L739.5 845.2 L740.5 845.2 L741.5 845.2 L742.5 845.2 L743.5 845.2 L744.5 845.2 L745.5 845.2 L746.5 845.2 L747.5 845.2 L748.5 845.2 L749.5 845.2 L750.5 845.2 L751.5 845.2 L752.5 845.2 L753.5 845.2 L754.5 845.2 L755.5 845.2 L756.5 845.2 L757.5 845.2 L758.5 845.2 L759.5 845.2 L760.5 845.2 L761.5 845.2 L762.5 845.2 L763.5 845.2 L764.5 845.2 L765.5 845.2 L766.5 845.2 L767.5 845.2 L768.5 845.2 L769.5 845.2 L770.5 845.2 L771.5 845.2 L772.5 845.2 L773.5 845.2 L774.5 845.2 L775.5 845.2 L776.5 845.2 L777.5 845.2 L778.5 845.2 L779.5 845.2 L780.5 845.2 L781.5 845.2 L782.5 845.2 L783.5 845.2 L784.5 845.2 L785.5 845.2 L786.5 845.2 L787.5 845.2 L788.5 845.2 L789.5 845.2 L790.5 845.2 L791.5 845.2 L792.5 845.2 L793.5 845.2 L794.5 845.2 L795.5 845.2 L796.5 845.2 L797.5 845.2 L798.5 845.2 L799.5 845.2 L800.5 845.2 L801.5 845.2 L802.5 845.2 L803.5 845.2 L804.5 845.2 L805.5 845.2 L806.5 845.2 L807.5 845.2 L808.5 845.2 L809.5 845.2 L810.5 845.2 L811.5 845.2 L812.5 845.2 L813.5 845.2 L814.5 845.2 L815.5 845.2 L816.5 845.2 L817.5 845.2 L818.5 845.2 L819.5 845.3 L820.5 845.3 L821.5 845.3 L822.5 845.3 L823.5 845.3 L824.5 845.4 L825.5 845.4 L826.5 845.4 L827.5 845.5 L828.5 845.5 L829.5 845.5 L830.5 845.6 L831.5 845.6 L832.5 845.7 L833.5 845.7 L834.5 845.8 L835.5 845.8 L836.5 845.9 L837.5 846.0 L838.5 846.1 L839.5 846.3 L840.5 846.5 L841.5 846.6 L842.5 846.8 L843.5 846.9 L844.5 847.0 L845.5 847.0 L846.5 847.1 L847.5 847.1 L848.5 847.2 L849.5 847.2 L850.5 847.3 L851.5 847.3 L852.5 847.3 L853.5 847.4 L854.5 847.4 L855.5 847.5 L856.5 847.5 L857.5 847.5 L858.5 847.6 L859.5 847.6 L860.5 847.6 L861.5 847.7 L862.5 847.7 L863.5 847.7 L864.5 847.8 L865.5 847.8 L866.5 847.8 L867.5 847.9 L868.5 847.9 L869.5 847.9 L870.5 847.9 L871.5 848.0 L872.5 848.0 L873.5 848.0 L874.5 848.0 L875.5 848.1 L876.5 848.1 L877.5 848.1 L878.5 848.1 L879.5 848.1 L880.5 848.2 L881.5 848.2 L882.5 848.2 L883.5 848.2 L884.5 848.2 L885.5 848.3 L886.5 848.3 L887.5 848.3 L888.5 848.3 L889.5 848.3 L890.5 848.4 L891.5 848.4 L892.5 848.4 L893.5 848.4 L894.5 848.4 L895.5 848.4 L896.5 848.4 L897.5 848.5 L898.5 848.5 L899.5 848.5 L900.5 848.5 L901.5 848.5 L902.5 848.5 L903.5 848.5 L904.5 848.6 L905.5 848.6 L906.5 848.6 L907.5 848.6 L908.5 848.6 L909.5 848.6 L910.5 848.6 L911.5 848.7 L912.5 848.7 L913.5 848.7 L914.5 848.7 L915.5 848.7 L916.5 848.7 L917.5 848.7 L918.5 848.8 L919.5 848.8 L920.5 848.8 L921.5 848.8 L922.5 848.8 L923.5 848.8 L924.5 848.8 L925.5 848.9 L926.5 848.9 L927.5 848.9 L928.5 848.9 L929.5 848.9 L930.5 848.9 L931.5 849.0 L932.5 849.0 L933.5 849.0 L934.5 849.0 L935.5 849.0 L936.5 849.1 L937.5 849.1 L938.5 849.1 L939.5 849.1 L940.5 849.1 L941.5 849.2 L942.5 849.2 L943.5 849.2 L944.5 849.2 L945.5 849.3 L946.5 849.3 L947.5 849.3 L948.5 849.3 L949.5 849.4 L950.5 849.4 L951.5 849.4 L952.5 849.5 L953.5 849.5 L954.5 849.5 L955.5 849.5 L956.5 849.6 L957.5 849.6 L958.5 849.6 L959.5 849.7 L960.5 849.7 L961.5 849.8 L962.5 849.8 L963.5 849.8 L964.5 849.9 L965.5 849.9 L966.5 850.0 L967.5 850.0 L968.5 850.1 L969.5 850.1 L970.5 850.2 L971.5 850.2 L972.5 850.3 L973.5 850.3 L974.5 850.4 L975.5 850.4 L976.5 850.5 L977.5 850.5 L978.5 850.6 L979.5 850.6 L980.5 850.7 L981.5 850.8 L982.5 850.8 L983.5 850.9 L984.5 850.9 L985.5 851.0 L986.5 851.1 L987.5 851.1 L988.5 851.2 L989.5 851.2 L990.5 851.3 L991.5 851.4 L992.5 851.4 L993.5 851.5 L994.5 851.5 L995.5 851.6 L996.5 851.6 L997.5 851.7 L998.5 851.8 L999.5 851.8 L1000.5 851.8 L1001.5 851.9 L1002.5 851.9 L1003.5 852.0 L1004.5 852.0 L1005.5 852.0 L1006.5 852.0 L1007.5 852.0 L1008.5 852.0 L1009.5 852.0 L1010.5 852.0 L1011.5 851.9 L1012.5 851.9 L1013.5 851.8 L1014.5 851.8 L1015.5 851.7 L1016.5 851.5 L1017.5 851.4 L1018.5 851.2 L1019.5 851.0 L1020.5 850.8 L1021.5 850.6 L1022.5 850.3 L1023.5 850.0 L1024.5 849.6 L1025.5 849.2 L1026.5 848.7 L1027.5 848.2 L1028.5 847.7 L1029.5 847.1 L1030.5 846.4 L1031.5 845.6 L1032.5 844.8 L1033.5 843.9 L1034.5 843.0 L1035.5 841.9 L1036.5 840.7 L1037.5 839.5 L1038.5 838.2 L1039.5 836.7 L1040.5 835.1 L1041.5 833.5 L1042.5 831.7 L1043.5 829.7 L1044.5 827.7 L1045.5 825.5 L1046.5 823.1 L1047.5 820.7 L1048.5 818.0 L1049.5 815.3 L1050.5 812.3 L1051.5 809.2 L1052.5 805.9 L1053.5 802.5 L1054.5 798.9 L1055.5 795.2 L1056.5 791.2 L1057.5 787.1 L1058.5 782.9 L1059.5 778.4 L1060.5 773.9 L1061.5 769.1 L1062.5 764.2 L1063.5 759.1 L1064.5 753.9 L1065.5 748.6 L1066.5 743.1 L1067.5 737.5 L1068.5 731.8 L1069.5 726.1 L1070.5 720.2 L1071.5 714.2 L1072.5 708.2 L1073.5 702.1 L1074.5 696.0 L1075.5 689.9 L1076.5 683.8 L1077.5 677.6 L1078.5 671.6 L1079.5 665.6 L1080.5 659.6 L1081.5 653.7 L1082.5 648.0 L1083.5 642.4 L1084.5 636.9 L1085.5 631.6 L1086.5 626.5 L1087.5 621.5 L1088.5 616.8 L1089.5 612.4 L1090.5 608.2 L1091.5 604.3 L1092.5 600.6 L1093.5 597.3 L1094.5 594.3 L1095.5 591.6 L1096.5 589.3 L1097.5 587.4 L1098.5 585.8 L1099.5 584.6 L1100.5 583.8 L1101.5 583.4 L1102.5 583.3 L1103.5 583.7 L1104.5 584.4 L1105.5 585.5 L1106.5 587.0 L1107.5 588.8 L1108.5 591.0 L1109.5 593.6 L1110.5 596.5 L1111.5 599.7 L1112.5 603.2 L1113.5 607.0 L1114.5 611.2 L1115.5 615.5 L1116.5 620.2 L1117.5 625.0 L1118.5 630.1 L1119.5 635.4 L1120.5 640.9 L1121.5 646.5 L1122.5 652.2 L1123.5 658.1 L1124.5 664.1 L1125.5 670.2 L1126.5 676.3 L1127.5 682.6 L1128.5 688.8 L1129.5 695.1 L1130.5 701.4 L1131.5 707.7 L1132.5 714.0 L1133.5 720.2 L1134.5 726.3 L1135.5 732.4 L1136.5 738.4 L1137.5 744.4 L1138.5 750.2 L1139.5 755.9 L1140.5 761.4 L1141.5 766.8 L1142.5 772.1 L1143.5 777.3 L1144.5 782.2 L1145.5 787.1 L1146.5 791.7 L1147.5 796.2 L1148.5 800.5 L1149.5 804.7 L1150.5 808.7 L1151.5 812.5 L1152.5 816.2 L1153.5 819.6 L1154.5 823.0 L1155.5 826.1 L1156.5 829.1 L1157.5 831.9 L1158.5 834.6 L1159.5 837.2 L1160.5 839.6 L1161.5 841.8 L1162.5 843.9 L1163.5 845.9 L1164.5 847.8 L1165.5 849.5 L1166.5 851.2 L1167.5 852.7 L1168.5 854.1 L1169.5 855.4 L1170.5 856.6 L1171.5 857.8 L1172.5 858.8 L1173.5 859.8 L1174.5 860.7 L1175.5 861.6 L1176.5 862.3 L1177.5 863.0 L1178.5 863.7 L1179.5 864.3 L1180.5 864.8 L1181.5 865.3 L1182.5 865.8 L1183.5 866.2 L1184.5 866.6 L1185.5 867.0 L1186.5 867.3 L1187.5 867.6 L1188.5 867.9 L1189.5 868.1 L1190.5 868.4 L1191.5 868.6 L1192.5 868.8 L1193.5 868.9 L1194.5 869.1 L1195.5 869.2 L1196.5 869.4 L1197.5 869.5 L1198.5 869.6 L1199.5 869.7 L1200.5 869.8 L1201.5 869.9 L1202.5 870.0 L1203.5 870.0 L1204.5 870.1 L1205.5 870.2 L1206.5 870.2 L1207.5 870.3 L1208.5 870.3 L1209.5 870.4 L1210.5 870.4 L1211.5 870.5 L1212.5 870.5 L1213.5 870.6 L1214.5 870.6 L1215.5 870.6 L1216.5 870.7 L1217.5 870.7 L1218.5 870.7 L1219.5 870.8 L1220.5 870.8 L1221.5 870.8 L1222.5 870.9 L1223.5 870.9 L1224.5 870.9" fill="none" stroke="#ff0000" stroke-width="3.0" stroke-linejoin="round" stroke-linecap="round" />
<path d="M697.5 845.2 L698.5 845.2 L699.5 845.2 L700.5 845.2 L701.5 845.2 L702.5 845.2 L703.5 845.2 L704.5 845.2 L705.5 845.2 L706.5 845.2 L707.5 845.2 L708.5 845.2 L709.5 845.2 L710.5 845.2 L711.5 845.2 L712.5 845.2 L713.5 845.2 L714.5 845.2 L715.5 845.2 L716.5 845.2 L717.5 845.2 L718.5 845.2 L719.5 845.2 L720.5 845.2 L721.5 845.2 L722.5 845.2 L723.5 845.2 L724.5 845.2 L725.5 845.2 L726.5 845.2 L727.5 845.2 L728.5 845.2 L729.5 845.2 L730.5 845.2 L731.5 845.2 L732.5 845.2 L733.5 845.2 L734.5 845.2 L735.5 845.2 L736.5 845.2 L737.5 845.2 L738.5 845.2 L739.5 845.2 L740.5 845.2 L741.5 845.2 L742.5 845.2 L743.5 845.2 L744.5 845.2 L745.5 845.2 L746.5 845.2 L747.5 845.2 L748.5 845.2 L749.5 845.2 L750.5 845.2 L751.5 845.2 L752.5 845.2 L753.5 845.2 L754.5 845.2 L755.5 845.2 L756.5 845.2 L757.5 845.2 L758.5 845.2 L759.5 845.2 L760.5 845.2 L761.5 845.2 L762.5 845.2 L763.5 845.2 L764.5 845.2 L765.5 845.2 L766.5 845.2 L767.5 845.2 L768.5 845.2 L769.5 845.2 L770.5 845.2 L771.5 845.2 L772.5 845.2 L773.5 845.2 L774.5 845.2 L775.5 845.2 L776.5 845.2 L777.5 845.2 L778.5 845.2 L779.5 845.2 L780.5 845.2 L781.5 845.2 L782.5 845.2 L783.5 845.2 L784.5 845.2 L785.5 845.2 L786.5 845.2 L787.5 845.2 L788.5 845.2 L789.5 845.2 L790.5 845.2 L791.5 845.2 L792.5 845.2 L793.5 845.2 L794.5 845.2 L795.5 845.2 L796.5 845.2 L797.5 845.2 L798.5 845.2 L799.5 845.2 L800.5 845.2 L801.5 845.2 L802.5 845.2 L803.5 845.2 L804.5 845.2 L805.5 845.2 L806.5 845.2 L807.5 845.2 L808.5 845.2 L809.5 845.2 L810.5 845.2 L811.5 845.2 L812.5 845.2 L813.5 845.2 L814.5 845.2 L815.5 845.2 L816.5 845.2 L817.5 845.2 L818.5 845.2 L819.5 845.3 L820.5 845.3 L821.5 845.3 L822.5 845.3 L823.5 845.3 L824.5 845.4 L825.5 845.4 L826.5 845.4 L827.5 845.5 L828.5 845.5 L829.5 845.5 L830.5 845.6 L831.5 845.6 L832.5 845.7 L833.5 845.7 L834.5 845.8 L835.5 845.8 L836.5 845.9 L837.5 846.0 L838.5 846.1 L839.5 846.3 L840.5 846.5 L841.5 846.6 L842.5 846.8 L843.5 846.9 L844.5 847.0 L845.5 847.0 L846.5 847.1 L847.5 847.1 L848.5 847.2 L849.5 847.2 L850.5 847.3 L851.5 847.3 L852.5 847.3 L853.5 847.4 L854.5 847.4 L855.5 847.5 L856.5 847.5 L857.5 847.5 L858.5 847.6 L859.5 847.6 L860.5 847.6 L861.5 847.7 L862.5 847.7 L863.5 847.7 L864.5 847.8 L865.5 847.8 L866.5 847.8 L867.5 847.9 L868.5 847.9 L869.5 847.9 L870.5 847.9 L871.5 848.0 L872.5 848.0 L873.5 848.0 L874.5 848.0 L875.5 848.1 L876.5 848.1 L877.5 848.1 L878.5 848.1 L879.5 848.1 L880.5 848.2 L881.5 848.2 L882.5 848.2 L883.5 848.2 L884.5 848.2 L885.5 848.3 L886.5 848.3 L887.5 848.3 L888.5 848.3 L889.5 848.3 L890.5 848.4 L891.5 848.4 L892.5 848.4 L893.5 848.4 L894.5 848.4 L895.5 848.4 L896.5 848.4 L897.5 848.5 L898.5 848.5 L899.5 848.5 L900.5 848.5 L901.5 848.5 L902.5 848.5 L903.5 848.5 L904.5 848.6 L905.5 848.6 L906.5 848.6 L907.5 848.6 L908.5 848.6 L909.5 848.6 L910.5 848.6 L911.5 848.7 L912.5 848.7 L913.5 848.7 L914.5 848.7 L915.5 848.7 L916.5 848.7 L917.5 848.7 L918.5 848.8 L919.5 848.8 L920.5 848.8 L921.5 848.8 L922.5 848.8 L923.5 848.8 L924.5 848.8 L925.5 848.9 L926.5 848.9 L927.5 848.9 L928.5 848.9 L929.5 848.9 L930.5 848.9 L931.5 849.0 L932.5 849.0 L933.5 849.0 L934.5 849.0 L935.5 849.0 L936.5 849.1 L937.5 849.1 L938.5 849.1 L939.5 849.1 L940.5 849.1 L941.5 849.2 L942.5 849.2 L943.5 849.2 L944.5 849.2 L945.5 849.3 L946.5 849.3 L947.5 849.3 L948.5 849.3 L949.5 849.4 L950.5 849.4 L951.5 849.4 L952.5 849.5 L953.5 849.5 L954.5 849.5 L955.5 849.5 L956.5 849.6 L957.5 849.6 L958.5 849.6 L959.5 849.7 L960.5 849.7 L961.5 849.8 L962.5 849.8 L963.5 849.8 L964.5 849.9 L965.5 849.9 L966.5 850.0 L967.5 850.0 L968.5 850.1 L969.5 850.1 L970.5 850.2 L971.5 850.2 L972.5 850.3 L973.5 850.3 L974.5 850.4 L975.5 850.4 L976.5 850.5 L977.5 850.5 L978.5 850.6 L979.5 850.6 L980.5 850.7 L981.5 850.8 L982.5 850.8 L983.5 850.9 L984.5 851.0 L985.5 851.0 L986.5 851.1 L987.5 851.2 L988.5 851.2 L989.5 851.3 L990.5 851.4 L991.5 851.4 L992.5 851.5 L993.5 851.6 L994.5 851.6 L995.5 851.7 L996.5 851.8 L997.5 851.9 L998.5 851.9 L999.5 852.0 L1000.5 852.1 L1001.5 852.2 L1002.5 852.2 L1003.5 852.3 L1004.5 852.4 L1005.5 852.5 L1006.5 852.5 L1007.5 852.6 L1008.5 852.7 L1009.5 852.8 L1010.5 852.9 L1011.5 852.9 L1012.5 853.0 L1013.5 853.1 L1014.5 853.2 L1015.5 853.3 L1016.5 853.3 L1017.5 853.4 L1018.5 853.5 L1019.5 853.6 L1020.5 853.7 L1021.5 853.7 L1022.5 853.8 L1023.5 853.9 L1024.5 854.0 L1025.5 854.1 L1026.5 854.2 L1027.5 854.2 L1028.5 854.3 L1029.5 854.4 L1030.5 854.5 L1031.5 854.6 L1032.5 854.6 L1033.5 854.7 L1034.5 854.8 L1035.5 854.9 L1036.5 855.0 L1037.5 855.0 L1038.5 855.1 L1039.5 855.2 L1040.5 855.3 L1041.5 855.4 L1042.5 855.4 L1043.5 855.5 L1044.5 855.6 L1045.5 855.7 L1046.5 855.8 L1047.5 855.9 L1048.5 855.9 L1049.5 856.0 L1050.5 856.1 L1051.5 856.2 L1052.5 856.3 L1053.5 856.4 L1054.5 856.4 L1055.5 856.5 L1056.5 856.6 L1057.5 856.7 L1058.5 856.8 L1059.5 856.9 L1060.5 857.0 L1061.5 857.1 L1062.5 857.2 L1063.5 857.3 L1064.5 857.3 L1065.5 857.4 L1066.5 857.5 L1067.5 857.6 L1068.5 857.7 L1069.5 857.8 L1070.5 857.9 L1071.5 858.0 L1072.5 858.1 L1073.5 858.2 L1074.5 858.4 L1075.5 858.5 L1076.5 858.6 L1077.5 858.7 L1078.5 858.8 L1079.5 858.9 L1080.5 859.0 L1081.5 859.1 L1082.5 859.3 L1083.5 859.4 L1084.5 859.5 L1085.5 859.6 L1086.5 859.8 L1087.5 859.9 L1088.5 860.0 L1089.5 860.2 L1090.5 860.3 L1091.5 860.4 L1092.5 860.6 L1093.5 860.7 L1094.5 860.9 L1095.5 861.0 L1096.5 861.2 L1097.5 861.4 L1098.5 861.7 L1099.5 861.9 L1100.5 862.1 L1101.5 862.4 L1102.5 862.6 L1103.5 862.9 L1104.5 863.2 L1105.5 863.4 L1106.5 863.7 L1107.5 864.0 L1108.5 864.2 L1109.5 864.5 L1110.5 864.8 L1111.5 865.0 L1112.5 865.3 L1113.5 865.5 L1114.5 865.7 L1115.5 865.9 L1116.5 866.1 L1117.5 866.3 L1118.5 866.5 L1119.5 866.6 L1120.5 866.8 L1121.5 866.9 L1122.5 866.9 L1123.5 867.0 L1124.5 867.1 L1125.5 867.2 L1126.5 867.2 L1127.5 867.3 L1128.5 867.4 L1129.5 867.4 L1130.5 867.5 L1131.5 867.6 L1132.5 867.6 L1133.5 867.7 L1134.5 867.7 L1135.5 867.8 L1136.5 867.9 L1137.5 867.9 L1138.5 868.0 L1139.5 868.0 L1140.5 868.1 L1141.5 868.1 L1142.5 868.2 L1143.5 868.2 L1144.5 868.2 L1145.5 868.3 L1146.5 868.3 L1147.5 868.4 L1148.5 868.4 L1149.5 868.5 L1150.5 868.5 L1151.5 868.5 L1152.5 868.6 L1153.5 868.6 L1154.5 868.6 L1155.5 868.7 L1156.5 868.7 L1157.5 868.7 L1158.5 868.8 L1159.5 868.8 L1160.5 868.8 L1161.5 868.9 L1162.5 868.9 L1163.5 868.9 L1164.5 869.0 L1165.5 869.0 L1166.5 869.0 L1167.5 869.1 L1168.5 869.1 L1169.5 869.1 L1170.5 869.2 L1171.5 869.2 L1172.5 869.2 L1173.5 869.3 L1174.5 869.3 L1175.5 869.3 L1176.5 869.4 L1177.5 869.4 L1178.5 869.4 L1179.5 869.5 L1180.5 869.5 L1181.5 869.6 L1182.5 869.6 L1183.5 869.6 L1184.5 869.7 L1185.5 869.7 L1186.5 869.7 L1187.5 869.8 L1188.5 869.8 L1189.5 869.8 L1190.5 869.9 L1191.5 869.9 L1192.5 870.0 L1193.5 870.0 L1194.5 870.0 L1195.5 870.1 L1196.5 870.1 L1197.5 870.1 L1198.5 870.2 L1199.5 870.2 L1200.5 870.2 L1201.5 870.3 L1202.5 870.3 L1203.5 870.3 L1204.5 870.4 L1205.5 870.4 L1206.5 870.4 L1207.5 870.4 L1208.5 870.5 L1209.5 870.5 L1210.5 870.5 L1211.5 870.6 L1212.5 870.6 L1213.5 870.6 L1214.5 870.7 L1215.5 870.7 L1216.5 870.7 L1217.5 870.7 L1218.5 870.8 L1219.5 870.8 L1220.5 870.8 L1221.5 870.9 L1222.5 870.9 L1223.5 870.9 L1224.5 870.9" fill="none" stroke="#000080" stroke-width="3.0" stroke-linejoin="round" stroke-linecap="round" />
<path d="M697.4 844.6 L698.4 844.6 L699.4 844.6 L700.4 844.5 L701.4 844.5 L702.4 844.5 L703.4 844.4 L704.4 844.4 L705.4 844.4 L706.4 844.3 L707.4 844.3 L708.4 844.2 L709.4 844.1 L710.4 844.1 L711.4 844.0 L712.4 843.9 L713.4 843.9 L714.4 843.8 L715.4 843.7 L716.4 843.7 L717.4 843.6 L718.4 843.5 L719.4 843.4 L720.4 843.4 L721.4 843.3 L722.4 843.2 L723.4 843.1 L724.4 843.0 L725.4 842.9 L726.4 842.8 L727.4 842.7 L728.4 842.6 L729.4 842.4 L730.4 842.3 L731.4 842.2 L732.4 842.0 L733.4 841.9 L734.4 841.7 L735.4 841.6 L736.4 841.4 L737.4 841.3 L738.4 841.1 L739.4 840.9 L740.4 840.7 L741.4 840.5 L742.4 840.3 L743.4 840.0 L744.4 839.8 L745.4 839.5 L746.4 839.2 L747.4 838.9 L748.4 838.5 L749.4 838.2 L750.4 837.8 L751.4 837.5 L752.4 837.1 L753.4 836.8 L754.4 836.4 L755.4 836.0 L756.4 835.7 L757.4 835.3 L758.4 835.0 L759.4 834.6 L760.4 834.3 L761.4 833.9 L762.4 833.6 L763.4 833.2 L764.4 832.8 L765.4 832.4 L766.4 832.1 L767.4 831.7 L768.4 831.3 L769.4 830.9 L770.4 830.5 L771.4 830.1 L772.4 829.8 L773.4 829.4 L774.4 829.0 L775.4 828.7 L776.4 828.3 L777.4 828.0 L778.4 827.7 L779.4 827.4 L780.4 827.1 L781.4 826.8 L782.4 826.5 L783.4 826.3 L784.4 826.0 L785.4 825.7 L786.4 825.5 L787.4 825.2 L788.4 825.0 L789.4 824.8 L790.4 824.5 L791.4 824.3 L792.4 824.1 L793.4 823.8 L794.4 823.6 L795.4 823.4 L796.4 823.2 L797.4 823.0 L798.4 822.7 L799.4 822.5 L800.4 822.3 L801.4 822.1 L802.4 821.9 L803.4 821.7 L804.4 821.4 L805.4 821.2 L806.4 821.0 L807.4 820.8 L808.4 820.6 L809.4 820.3 L810.4 820.2 L811.4 820.0 L812.4 819.8 L813.4 819.6 L814.4 819.5 L815.4 819.4 L816.4 819.3 L817.4 819.2 L818.4 819.1 L819.4 819.0 L820.4 818.9 L821.4 818.8 L822.4 818.8 L823.4 818.7 L824.4 818.6 L825.4 818.6 L826.4 818.5 L827.4 818.4 L828.4 818.4 L829.4 818.3 L830.4 818.3 L831.4 818.2 L832.4 818.2 L833.4 818.1 L834.4 818.1 L835.4 818.0 L836.4 817.9 L837.4 817.9 L838.4 817.8 L839.4 817.8 L840.4 817.7 L841.4 817.7 L842.4 817.7 L843.4 817.6 L844.4 817.6 L845.4 817.5 L846.4 817.5 L847.4 817.4 L848.4 817.4 L849.4 817.3 L850.4 817.3 L851.4 817.2 L852.4 817.2 L853.4 817.1 L854.4 817.0 L855.4 816.9 L856.4 816.8 L857.4 816.7 L858.4 816.6 L859.4 816.4 L860.4 816.3 L861.4 816.1 L862.4 815.9 L863.4 815.7 L864.4 815.5 L865.4 815.3 L866.4 815.1 L867.4 814.8 L868.4 814.6 L869.4 814.3 L870.4 814.1 L871.4 813.8 L872.4 813.6 L873.4 813.3 L874.4 813.0 L875.4 812.7 L876.4 812.3 L877.4 811.9 L878.4 811.5 L879.4 811.1 L880.4 810.7 L881.4 810.2 L882.4 809.7 L883.4 809.2 L884.4 808.7 L885.4 808.2 L886.4 807.7 L887.4 807.2 L888.4 806.7 L889.4 806.2 L890.4 805.7 L891.4 805.3 L892.4 804.8 L893.4 804.4 L894.4 804.0 L895.4 803.6 L896.4 803.2 L897.4 802.8 L898.4 802.4 L899.4 802.1 L900.4 801.7 L901.4 801.3 L902.4 800.9 L903.4 800.6 L904.4 800.2 L905.4 799.8 L906.4 799.4 L907.4 799.0 L908.4 798.6 L909.4 798.2 L910.4 797.7 L911.4 797.3 L912.4 796.8 L913.4 796.3 L914.4 795.7 L915.4 795.2 L916.4 794.6 L917.4 793.9 L918.4 793.3 L919.4 792.6 L920.4 792.0 L921.4 791.3 L922.4 790.6 L923.4 789.9 L924.4 789.3 L925.4 788.6 L926.4 788.0 L927.4 787.4 L928.4 786.8 L929.4 786.3 L930.4 785.8 L931.4 785.3 L932.4 784.9 L933.4 784.5 L934.4 784.1 L935.4 783.7 L936.4 783.3 L937.4 783.0 L938.4 782.6 L939.4 782.3 L940.4 782.0 L941.4 781.7 L942.4 781.4 L943.4 781.0 L944.4 780.7 L945.4 780.4 L946.4 780.1 L947.4 779.7 L948.4 779.4 L949.4 779.0 L950.4 778.7 L951.4 778.3 L952.4 777.9 L953.4 777.5 L954.4 777.2 L955.4 776.8 L956.4 776.4 L957.4 776.0 L958.4 775.5 L959.4 775.1 L960.4 774.6 L961.4 774.1 L962.4 773.6 L963.4 773.1 L964.4 772.6 L965.4 772.1 L966.4 771.5 L967.4 771.0 L968.4 770.4 L969.4 769.9 L970.4 769.3 L971.4 768.7 L972.4 768.1 L973.4 767.5 L974.4 766.9 L975.4 766.2 L976.4 765.6 L977.4 764.9 L978.4 764.3 L979.4 763.6 L980.4 762.9 L981.4 762.2 L982.4 761.5 L983.4 760.8 L984.4 760.1 L985.4 759.3 L986.4 758.6 L987.4 757.8 L988.4 757.0 L989.4 756.3 L990.4 755.5 L991.4 754.7 L992.4 753.8 L993.4 753.0 L994.4 752.1 L995.4 751.1 L996.4 750.2 L997.4 749.2 L998.4 748.2 L999.4 747.2 L1000.4 746.1 L1001.4 745.0 L1002.4 744.0 L1003.4 742.8 L1004.4 741.7 L1005.4 740.6 L1006.4 739.5 L1007.4 738.3 L1008.4 737.2 L1009.4 736.0 L1010.4 734.9 L1011.4 733.7 L1012.4 732.5 L1013.4 731.4 L1014.4 730.2 L1015.4 729.1 L1016.4 728.0 L1017.4 726.8 L1018.4 725.7 L1019.4 724.6 L1020.4 723.6 L1021.4 722.5 L1022.4 721.5 L1023.4 720.4 L1024.4 719.4 L1025.4 718.4 L1026.4 717.4 L1027.4 716.4 L1028.4 715.3 L1029.4 714.3 L1030.4 713.3 L1031.4 712.2 L1032.4 711.2 L1033.4 710.1 L1034.4 709.0 L1035.4 707.9 L1036.4 706.8 L1037.4 705.6 L1038.4 704.4 L1039.4 703.2 L1040.4 701.9 L1041.4 700.6 L1042.4 699.3 L1043.4 698.1 L1044.4 696.7 L1045.4 695.4 L1046.4 693.9 L1047.4 692.5 L1048.4 690.9 L1049.4 689.3 L1050.4 687.5 L1051.4 685.7 L1052.4 683.7 L1053.4 681.5 L1054.4 679.0 L1055.4 676.2 L1056.4 673.3 L1057.4 670.1 L1058.4 666.9 L1059.4 663.6 L1060.4 660.2 L1061.4 656.8 L1062.4 653.5 L1063.4 650.2 L1064.4 646.8 L1065.4 643.3 L1066.4 639.8 L1067.4 636.2 L1068.4 632.5 L1069.4 628.8 L1070.4 625.1 L1071.4 621.5 L1072.4 617.8 L1073.4 614.1 L1074.4 610.4 L1075.4 606.7 L1076.4 602.9 L1077.4 599.2 L1078.4 595.4 L1079.4 591.6 L1080.4 587.9 L1081.4 584.1 L1082.4 580.2 L1083.4 576.1 L1084.4 572.1 L1085.4 568.1 L1086.4 564.2 L1087.4 560.6 L1088.4 557.2 L1089.4 554.2 L1090.4 551.4 L1091.4 548.6 L1092.4 546.1 L1093.4 543.8 L1094.4 541.8 L1095.4 540.4 L1096.4 539.1 L1097.4 537.9 L1098.4 537.1 L1099.4 536.8 L1100.4 537.1 L1101.4 537.9 L1102.4 539.2 L1103.4 540.7 L1104.4 542.4 L1105.4 544.2 L1106.4 546.2 L1107.4 548.6 L1108.4 551.5 L1109.4 554.7 L1110.4 558.1 L1111.4 561.9 L1112.4 565.9 L1113.4 570.5 L1114.4 575.7 L1115.4 581.3 L1116.4 587.0 L1117.4 592.9 L1118.4 598.7 L1119.4 604.8 L1120.4 611.2 L1121.4 617.7 L1122.4 624.3 L1123.4 630.9 L1124.4 637.4 L1125.4 643.6 L1126.4 649.8 L1127.4 656.1 L1128.4 662.6 L1129.4 669.6 L1130.4 677.3 L1131.4 686.5 L1132.4 696.7 L1133.4 707.1 L1134.4 716.8 L1135.4 724.9 L1136.4 732.4 L1137.4 739.5 L1138.4 746.1 L1139.4 752.5 L1140.4 758.5 L1141.4 764.3 L1142.4 770.0 L1143.4 775.5 L1144.4 780.8 L1145.4 785.9 L1146.4 790.8 L1147.4 795.4 L1148.4 799.8 L1149.4 803.8 L1150.4 807.6 L1151.4 811.4 L1152.4 815.0 L1153.4 818.5 L1154.4 821.8 L1155.4 824.9 L1156.4 827.9 L1157.4 830.7 L1158.4 833.2 L1159.4 835.6 L1160.4 837.8 L1161.4 839.9 L1162.4 841.9 L1163.4 843.9 L1164.4 845.8 L1165.4 847.6 L1166.4 849.3 L1167.4 850.8 L1168.4 852.3 L1169.4 853.6 L1170.4 854.9 L1171.4 855.9 L1172.4 856.9 L1173.4 857.8 L1174.4 858.7 L1175.4 859.5 L1176.4 860.3 L1177.4 861.1 L1178.4 861.9 L1179.4 862.6 L1180.4 863.3 L1181.4 863.9 L1182.4 864.5 L1183.4 865.0 L1184.4 865.5 L1185.4 865.9 L1186.4 866.2 L1187.4 866.4 L1188.4 866.6 L1189.4 866.8 L1190.4 867.0 L1191.4 867.1 L1192.4 867.3 L1193.4 867.4 L1194.4 867.5 L1195.4 867.7 L1196.4 867.8 L1197.4 867.9 L1198.4 868.1 L1199.4 868.2 L1200.4 868.3 L1201.4 868.4 L1202.4 868.5 L1203.4 868.6 L1204.4 868.7 L1205.4 868.8 L1206.4 868.9 L1207.4 869.0 L1208.4 869.1 L1209.4 869.1 L1210.4 869.2 L1211.4 869.3 L1212.4 869.3 L1213.4 869.4 L1214.4 869.4 L1215.4 869.5 L1216.4 869.5 L1217.4 869.6 L1218.4 869.6 L1219.4 869.6 L1220.4 869.6 L1221.4 869.7 L1222.4 869.7 L1223.4 869.7 L1224.4 869.7" fill="none" stroke="#7a00ff" stroke-width="3.0" stroke-linejoin="round" stroke-linecap="round" />
<line x1="714" y1="584.6" x2="769.6" y2="584.6" stroke="#ff0000" stroke-width="3.0" stroke-linecap="butt" />
<line x1="714" y1="619.5" x2="769.6" y2="619.5" stroke="#0000ff" stroke-width="3.0" stroke-linecap="butt" />
<line x1="714" y1="654.3" x2="769.6" y2="654.3" stroke="#ff00ff" stroke-width="3.0" stroke-linecap="butt" />
<line x1="714" y1="692.2" x2="769.6" y2="692.2" stroke="#008000" stroke-width="3.0" stroke-linecap="butt" />
<line x1="754.6" y1="800.3" x2="794.2437097820327" y2="816.1574839128131" stroke="#008000" stroke-width="3.2" stroke-linecap="butt" />
<polygon points="802.6,819.5 791.9,819.3 794.7,812.3" fill="#008000"/>
<line x1="895.3" y1="765.7" x2="913.242734423549" y2="787.9003324223572" stroke="#e8157a" stroke-width="3.2" stroke-linecap="butt" />
<polygon points="918.9,794.9 909.7,789.5 915.5,784.8" fill="#e8157a"/>
<line x1="1003.3" y1="690.7" x2="1028.0556585262466" y2="718.8424261422153" stroke="#0000ff" stroke-width="3.2" stroke-linecap="butt" />
<polygon points="1034.0,725.6 1024.6,720.6 1030.2,715.6" fill="#0000ff"/>
<line x1="1152.8" y1="587.1" x2="1132.5157127740251" y2="602.2210141139086" stroke="#ff0000" stroke-width="3.2" stroke-linecap="butt" />
<polygon points="1125.3,607.6 1131.1,598.6 1135.6,604.6" fill="#ff0000"/>
<text x="0" y="0" font-family="'Liberation Sans', sans-serif" font-weight="bold" font-size="43.8" text-anchor="start" transform="translate(2.0,32.7) scale(0.975,1)">A</text>
<text x="0" y="0" font-family="'Liberation Sans', sans-serif" font-weight="bold" font-size="44" text-anchor="start" transform="translate(635.8,32.8) scale(0.93,1)">B</text>
<text x="0" y="0" font-family="'Liberation Sans', sans-serif" font-weight="bold" font-size="44" text-anchor="start" transform="translate(1.9,513.3) scale(0.91,1)">C</text>
<text x="0" y="0" font-family="'Liberation Sans', sans-serif" font-weight="bold" font-size="44" text-anchor="start" transform="translate(635.8,512.3) scale(0.92,1)">D</text>
<text x="185.3" y="477" font-family="'Liberation Serif', serif" font-weight="bold" font-size="32.7" text-anchor="start" >Binding energy (eV)</text>
<text x="819.9" y="477" font-family="'Liberation Serif', serif" font-weight="bold" font-size="32.7" text-anchor="start" >Binding energy (eV)</text>
<text x="185.3" y="961" font-family="'Liberation Serif', serif" font-weight="bold" font-size="32.7" text-anchor="start" >Binding energy (eV)</text>
<text x="827.9" y="959.5" font-family="'Liberation Serif', serif" font-weight="bold" font-size="32.7" text-anchor="start" >Binding energy (eV)</text>
<text x="0" y="0" font-family="'Liberation Serif', serif" font-weight="bold" font-size="32.7" text-anchor="start" transform="translate(34,314.5) rotate(-90)">Intensity (a.u.)</text>
<text x="0" y="0" font-family="'Liberation Serif', serif" font-weight="bold" font-size="32.7" text-anchor="start" transform="translate(666,313.8) rotate(-90)">Intensity (a.u.)</text>
<text x="0" y="0" font-family="'Liberation Serif', serif" font-weight="bold" font-size="32.7" text-anchor="start" transform="translate(35,783) rotate(-90)">Intensity (a.u.)</text>
<text x="0" y="0" font-family="'Liberation Serif', serif" font-weight="bold" font-size="32.7" text-anchor="start" transform="translate(666,783.4) rotate(-90)">Intensity (a.u.)</text>
<text x="67.5" y="439" font-family="'Liberation Serif', serif" font-weight="bold" font-size="25" text-anchor="middle" >800</text>
<text x="200.3" y="439" font-family="'Liberation Serif', serif" font-weight="bold" font-size="25" text-anchor="middle" >600</text>
<text x="333" y="439" font-family="'Liberation Serif', serif" font-weight="bold" font-size="25" text-anchor="middle" >400</text>
<text x="465" y="439" font-family="'Liberation Serif', serif" font-weight="bold" font-size="25" text-anchor="middle" >200</text>
<text x="597" y="439" font-family="'Liberation Serif', serif" font-weight="bold" font-size="25" text-anchor="middle" >0</text>
<text x="694.0" y="439" font-family="'Liberation Serif', serif" font-weight="bold" font-size="25" text-anchor="middle" >416</text>
<text x="769.9285714285714" y="439" font-family="'Liberation Serif', serif" font-weight="bold" font-size="25" text-anchor="middle" >414</text>
<text x="845.8571428571429" y="439" font-family="'Liberation Serif', serif" font-weight="bold" font-size="25" text-anchor="middle" >412</text>
<text x="921.7857142857142" y="439" font-family="'Liberation Serif', serif" font-weight="bold" font-size="25" text-anchor="middle" >410</text>
<text x="997.7142857142858" y="439" font-family="'Liberation Serif', serif" font-weight="bold" font-size="25" text-anchor="middle" >408</text>
<text x="1073.642857142857" y="439" font-family="'Liberation Serif', serif" font-weight="bold" font-size="25" text-anchor="middle" >406</text>
<text x="1149.5714285714284" y="439" font-family="'Liberation Serif', serif" font-weight="bold" font-size="25" text-anchor="middle" >404</text>
<text x="1225.5" y="439" font-family="'Liberation Serif', serif" font-weight="bold" font-size="25" text-anchor="middle" >402</text>
<text x="64.0" y="924" font-family="'Liberation Serif', serif" font-weight="bold" font-size="25" text-anchor="middle" >166</text>
<text x="240.33333333333334" y="924" font-family="'Liberation Serif', serif" font-weight="bold" font-size="25" text-anchor="middle" >164</text>
<text x="416.6666666666667" y="924" font-family="'Liberation Serif', serif" font-weight="bold" font-size="25" text-anchor="middle" >162</text>
<text x="593.0" y="924" font-family="'Liberation Serif', serif" font-weight="bold" font-size="25" text-anchor="middle" >160</text>
<text x="787.1166666666667" y="919.5" font-family="'Liberation Serif', serif" font-weight="bold" font-size="25" text-anchor="middle" >292</text>
<text x="963.95" y="919.5" font-family="'Liberation Serif', serif" font-weight="bold" font-size="25" text-anchor="middle" >288</text>
<text x="1140.7833333333335" y="919.5" font-family="'Liberation Serif', serif" font-weight="bold" font-size="25" text-anchor="middle" >284</text>
<text x="0" y="0" font-family="'Liberation Serif', serif" font-weight="bold" font-size="27.0" text-anchor="start"  transform="translate(68.3,75.0) scale(1,0.95)">Full spectrum</text>
<text x="0" y="0" font-family="'Liberation Serif', serif" font-weight="bold" font-size="27.3" text-anchor="start"  transform="translate(222.5,48.0) scale(1,0.95)">O 1s</text>
<text x="0" y="0" font-family="'Liberation Serif', serif" font-weight="bold" font-size="25.9" text-anchor="start"  transform="translate(114.7,238.8) scale(1,0.95)">Mn 2p</text>
<text x="0" y="0" font-family="'Liberation Serif', serif" font-weight="bold" font-size="26.99" text-anchor="start"  transform="translate(207.5,236.5) scale(1,0.95)">Te 3d</text>
<text x="269.3" y="241.8" font-family="'Liberation Serif', serif" font-weight="bold" font-size="18.0" text-anchor="start" >5/2</text>
<text x="0" y="0" font-family="'Liberation Serif', serif" font-weight="bold" font-size="25.95" text-anchor="start"  transform="translate(141.9,312.5) scale(1,0.95)">Ba MNN</text>
<text x="0" y="0" font-family="'Liberation Serif', serif" font-weight="bold" font-size="26.99" text-anchor="start"  transform="translate(295.2,203.0) scale(1,0.95)">Cd 3d</text>
<text x="0" y="0" font-family="'Liberation Serif', serif" font-weight="bold" font-size="27.4" text-anchor="start"  transform="translate(388.5,210.8) scale(1,0.95)">C 1s</text>
<text x="0" y="0" font-family="'Liberation Serif', serif" font-weight="bold" font-size="27.5" text-anchor="start"  transform="translate(298.5,366.3) scale(1,0.95)">Ag MNN</text>
<text x="0" y="0" font-family="'Liberation Serif', serif" font-weight="bold" font-size="27.4" text-anchor="start"  transform="translate(467.6,345.4) scale(1,0.95)">S 2p</text>
<text x="0" y="0" font-family="'Liberation Serif', serif" font-weight="bold" font-size="26.27" text-anchor="start"  transform="translate(508.5,320.5) scale(1,0.95)">Al 2p</text>
<text x="0" y="0" font-family="'Liberation Serif', serif" font-weight="bold" font-size="26.06" text-anchor="start"  transform="translate(550,346.2) scale(1,0.95)">Mg 2p</text>
<text x="0" y="0" font-family="'Liberation Serif', serif" font-weight="bold" font-size="26.99" text-anchor="start"  transform="translate(723.2,67.8) scale(1,0.95)">Cd 3d</text>
<text x="783.1" y="136.4" font-family="'Liberation Serif', serif" font-weight="bold" font-size="26.07" text-anchor="start" >412.2</text>
<text x="1041.0" y="54.0" font-family="'Liberation Serif', serif" font-weight="bold" font-size="25.74" text-anchor="start" >405.2</text>
<text x="0" y="0" font-family="'Liberation Serif', serif" font-weight="bold" font-size="27.4" text-anchor="start"  transform="translate(89.3,551.1) scale(1,0.95)">S 2p</text>
<text x="0" y="0" font-family="'Liberation Serif', serif" font-weight="bold" font-size="24.0" text-anchor="start"  transform="translate(338.0,543.2) scale(1,1.05)">163.1</text>
<text x="505.2" y="698.5" font-family="'Liberation Serif', serif" font-weight="bold" font-size="25.33" text-anchor="start" >161.3</text>
<text x="0" y="0" font-family="'Liberation Serif', serif" font-weight="bold" font-size="27.4" text-anchor="start"  transform="translate(718.5,544.2) scale(1,0.95)">C 1s</text>
<text x="0" y="0" font-family="'Liberation Serif', serif" font-weight="bold" font-size="27.5" text-anchor="start"  transform="translate(776.8,594.4) scale(1,0.95)">C=C</text>
<text x="0" y="0" font-family="'Liberation Serif', serif" font-weight="bold" font-size="27.5" text-anchor="start"  transform="translate(776.8,629.2) scale(1,0.95)">C-O</text>
<text x="0" y="0" font-family="'Liberation Serif', serif" font-weight="bold" font-size="27.3" text-anchor="start"  transform="translate(776.8,664.0) scale(1,0.95)">COOR</text>
<text x="776.5" y="702.6" font-family="'Liberation Serif', serif" font-weight="bold" font-size="31.5" text-anchor="start" font-style="italic">π-π</text>
<text x="735.8" y="788.7" font-family="'Liberation Serif', serif" font-weight="bold" font-size="24.83" text-anchor="start" >291.2</text>
<text x="878.0" y="755.6" font-family="'Liberation Serif', serif" font-weight="bold" font-size="25.14" text-anchor="start" >288.6</text>
<text x="954.5" y="681.2" font-family="'Liberation Serif', serif" font-weight="bold" font-size="24.53" text-anchor="start" >286.3</text>
<text x="1127.0" y="577.6" font-family="'Liberation Serif', serif" font-weight="bold" font-size="25.64" text-anchor="start" >284.8</text></svg></body></html>
